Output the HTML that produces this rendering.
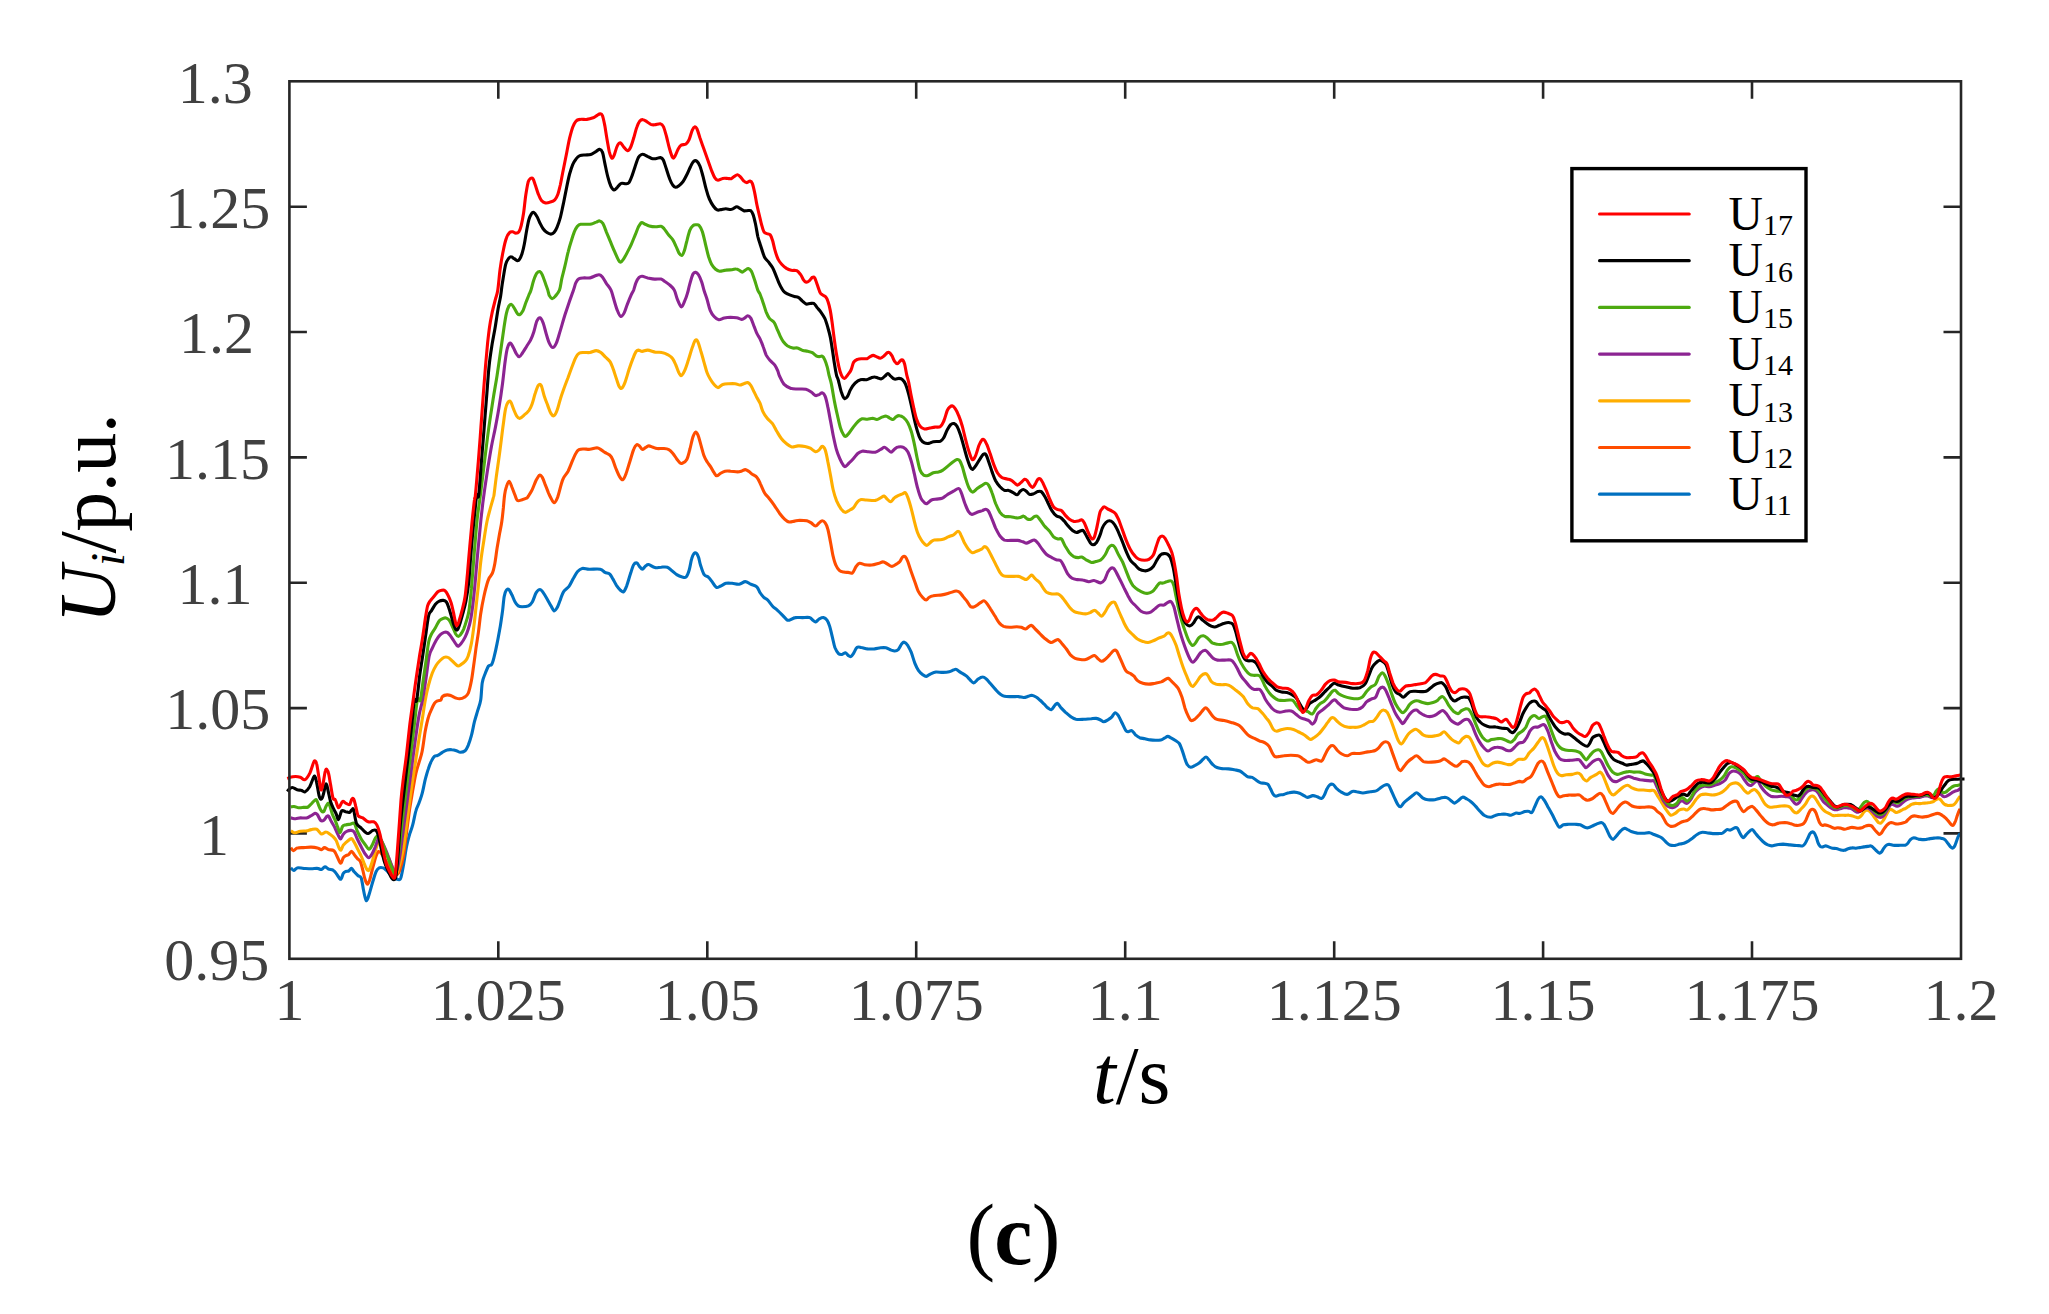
<!DOCTYPE html>
<html><head><meta charset="utf-8"><title>Ui/p.u. - t/s (c)</title>
<style>html,body{margin:0;padding:0;background:#fff}svg{display:block}text{font-family:"Liberation Serif",serif}</style></head><body>
<svg width="2049" height="1314" viewBox="0 0 2049 1314">
<rect width="2049" height="1314" fill="#fff"/>
<path d="M498.3 958.8v-17.5 M498.3 81.3v17.5 M707.3 958.8v-17.5 M707.3 81.3v17.5 M916.2 958.8v-17.5 M916.2 81.3v17.5 M1125.2 958.8v-17.5 M1125.2 81.3v17.5 M1334.2 958.8v-17.5 M1334.2 81.3v17.5 M1543.1 958.8v-17.5 M1543.1 81.3v17.5 M1752.0 958.8v-17.5 M1752.0 81.3v17.5 M289.4 206.7h17.5 M1961.0 206.7h-17.5 M289.4 332.0h17.5 M1961.0 332.0h-17.5 M289.4 457.4h17.5 M1961.0 457.4h-17.5 M289.4 582.7h17.5 M1961.0 582.7h-17.5 M289.4 708.1h17.5 M1961.0 708.1h-17.5 M289.4 833.4h17.5 M1961.0 833.4h-17.5" stroke="#262626" stroke-width="2.6" fill="none"/>
<g fill="none" stroke-width="3.1" stroke-linejoin="round" stroke-linecap="butt">
<path stroke="#0070c0" d="M290.9 867.9C291.4 868.3 292.7 870.5 293.7 870.5C294.8 870.5 295.6 868.3 297.2 867.9C298.8 867.5 301.1 868.2 303.4 868.4C305.8 868.5 308.9 868.7 311.2 868.7C313.6 868.7 315.8 868.2 317.5 868.4C319.2 868.5 320.1 869.7 321.4 869.4C322.6 869.2 323.8 866.9 325.0 866.8C326.1 866.7 327.1 868.4 328.4 869.0C329.8 869.6 331.8 869.5 333.1 870.2C334.4 871.0 335.0 871.8 336.2 873.4C337.5 874.9 339.4 879.3 340.6 879.3C341.8 879.3 342.4 874.7 343.3 873.4C344.1 872.1 344.7 871.9 345.6 871.5C346.5 871.1 347.7 871.5 348.7 871.0C349.7 870.5 350.6 868.2 351.5 868.4C352.4 868.5 353.1 870.6 354.2 871.8C355.3 873.0 356.9 874.7 358.1 875.7C359.3 876.7 360.3 875.6 361.2 878.0C362.1 880.5 362.8 886.9 363.6 890.5C364.3 894.2 365.2 898.5 365.9 899.9C366.5 901.3 366.8 900.4 367.5 899.1C368.1 897.8 368.9 895.1 369.8 892.1C370.7 889.1 371.9 884.5 372.9 881.2C374.0 877.8 375.0 874.0 376.0 871.8C377.1 869.6 378.0 868.5 379.2 867.9C380.3 867.2 381.9 867.5 383.1 867.9C384.2 868.3 385.2 869.3 386.2 870.2C387.2 871.1 388.3 872.3 389.3 873.4C390.4 874.4 391.3 875.6 392.4 876.5C393.6 877.4 395.2 878.3 396.3 878.8C397.5 879.3 398.7 879.9 399.5 879.6C400.3 879.3 400.4 879.6 401.0 877.3C401.7 874.9 402.5 870.6 403.4 865.5C404.3 860.5 405.5 852.0 406.5 846.8C407.5 841.6 408.6 838.0 409.6 834.3C410.7 830.7 411.7 828.8 412.7 824.9C413.8 821.0 414.8 814.5 415.9 810.9C416.9 807.2 418.0 805.9 419.0 803.1C420.0 800.2 421.1 797.6 422.1 793.7C423.2 789.8 424.2 783.8 425.2 779.6C426.3 775.5 427.3 771.8 428.4 768.7C429.4 765.6 430.4 763.0 431.5 760.9C432.5 758.8 433.6 757.1 434.6 756.2C435.7 755.3 436.4 756.1 437.7 755.4C439.0 754.8 440.9 753.2 442.4 752.3C444.0 751.4 445.5 750.4 447.1 750.0C448.7 749.5 450.2 749.5 451.8 749.7C453.4 749.8 455.0 750.3 456.5 750.8C457.9 751.2 458.9 752.3 460.4 752.3C461.8 752.3 463.8 751.9 465.1 750.8C466.4 749.6 467.1 747.8 468.2 745.3C469.2 742.8 470.3 739.8 471.3 735.9C472.4 732.0 473.4 726.0 474.4 721.9C475.5 717.7 476.5 714.6 477.6 710.9C478.6 707.3 479.9 704.8 480.7 700.0C481.5 695.2 481.5 686.9 482.3 682.4C483.1 677.9 484.4 675.8 485.4 673.0C486.5 670.3 487.5 667.4 488.5 666.0C489.6 664.6 490.8 665.9 491.7 664.4C492.6 663.0 493.1 660.9 494.0 657.4C494.9 653.9 496.1 648.6 497.1 643.4C498.2 638.2 499.3 631.7 500.3 626.2C501.2 620.7 501.9 615.5 502.6 610.6C503.2 605.6 503.6 599.9 504.2 596.5C504.8 593.1 505.4 591.4 506.2 590.3C507.0 589.1 507.9 588.7 508.8 589.5C509.8 590.3 510.9 592.9 512.0 595.0C513.0 597.0 514.0 600.2 515.1 602.0C516.1 603.8 517.0 605.1 518.2 605.9C519.4 606.7 520.4 606.7 522.1 606.7C523.8 606.7 526.7 606.7 528.4 605.9C530.1 605.1 531.0 604.2 532.3 602.0C533.6 599.8 534.9 594.7 536.2 592.6C537.5 590.5 538.9 589.5 540.1 589.5C541.2 589.5 542.0 591.0 543.2 592.6C544.4 594.2 545.8 596.6 547.1 598.9C548.4 601.1 549.8 603.9 551.0 605.9C552.2 607.9 553.1 610.6 554.1 610.9C555.2 611.1 556.2 609.3 557.3 607.4C558.3 605.6 559.3 602.2 560.4 599.6C561.4 597.0 562.1 594.0 563.5 591.8C564.9 589.6 567.3 588.7 569.0 586.4C570.7 584.0 572.2 580.2 573.7 577.8C575.1 575.3 576.1 573.1 577.6 571.5C579.0 570.0 580.3 568.8 582.2 568.4C584.2 568.0 586.3 569.1 589.3 569.2C592.3 569.3 597.6 568.7 600.2 569.2C602.8 569.7 603.3 571.5 604.9 572.3C606.5 573.1 608.3 572.8 609.6 573.9C610.9 574.9 611.5 576.6 612.7 578.6C613.9 580.5 615.3 583.6 616.6 585.6C617.9 587.5 619.3 589.2 620.5 590.3C621.7 591.3 622.6 592.6 623.6 591.8C624.7 591.0 625.6 588.7 626.8 585.6C627.9 582.5 629.5 576.6 630.7 573.1C631.8 569.6 632.7 566.2 633.8 564.5C634.8 562.8 636.0 562.7 636.9 562.9C637.8 563.2 638.3 565.0 639.2 566.1C640.2 567.1 641.3 569.2 642.4 569.2C643.4 569.2 644.5 566.8 645.5 566.1C646.5 565.3 647.1 564.2 648.6 564.5C650.2 564.8 652.8 567.2 654.9 567.6C656.9 568.1 659.0 567.2 661.1 567.2C663.2 567.1 665.5 566.6 667.4 567.2C669.2 567.8 670.5 569.5 672.0 570.7C673.6 572.0 675.0 573.6 676.7 574.6C678.4 575.7 680.6 576.6 682.2 577.0C683.8 577.4 684.9 578.2 686.1 577.0C687.3 575.8 688.3 573.0 689.2 570.0C690.1 567.0 690.8 561.8 691.6 559.0C692.3 556.3 693.1 554.6 693.9 553.6C694.7 552.6 695.5 552.4 696.3 553.1C697.0 553.7 697.9 555.5 698.6 557.5C699.3 559.4 699.5 561.9 700.4 564.7C701.4 567.6 702.7 572.5 704.1 574.5C705.4 576.6 707.1 576.0 708.4 577.2C709.8 578.3 710.6 579.9 712.0 581.6C713.3 583.3 714.9 586.6 716.4 587.4C717.8 588.1 719.1 586.6 720.7 586.0C722.4 585.3 724.1 583.8 726.0 583.3C727.9 582.9 730.0 583.2 732.2 583.3C734.4 583.5 737.0 584.5 739.2 584.2C741.4 583.9 743.4 581.6 745.3 581.6C747.2 581.6 748.7 583.3 750.6 584.2C752.5 585.1 755.2 585.4 756.8 586.8C758.4 588.3 759.1 591.2 760.3 593.0C761.4 594.7 762.6 596.3 763.8 597.4C765.0 598.5 765.8 598.2 767.3 599.7C768.8 601.1 770.8 604.3 772.6 606.2C774.3 608.0 776.1 608.9 777.8 610.6C779.6 612.2 781.5 614.2 783.1 615.8C784.7 617.4 786.0 619.7 787.5 620.2C789.0 620.7 790.6 619.4 791.9 619.0C793.2 618.6 793.7 617.8 795.4 617.6C797.2 617.3 800.1 617.6 802.4 617.6C804.8 617.6 807.7 617.1 809.5 617.6C811.2 618.0 812.0 619.5 813.0 620.2C814.0 621.0 814.6 622.2 815.6 622.0C816.6 621.8 817.8 619.7 819.1 619.0C820.5 618.3 822.2 617.4 823.5 617.6C824.8 617.8 826.0 618.8 827.0 620.2C828.1 621.7 828.8 623.6 829.7 626.4C830.6 629.2 831.4 633.4 832.3 636.9C833.2 640.4 833.9 644.7 834.9 647.5C836.0 650.2 837.3 652.4 838.5 653.6C839.6 654.8 840.8 654.6 842.0 654.5C843.1 654.3 844.5 652.6 845.5 652.7C846.5 652.9 847.2 654.7 848.1 655.4C849.0 656.0 849.9 656.9 850.8 656.6C851.6 656.3 852.4 655.1 853.4 653.6C854.4 652.1 855.6 648.5 856.9 647.5C858.2 646.4 859.5 647.2 861.3 647.5C863.1 647.7 865.3 648.6 867.5 648.9C869.6 649.1 872.3 649.0 874.5 648.9C876.7 648.7 878.7 648.0 880.6 647.8C882.5 647.6 884.1 647.4 885.9 647.8C887.7 648.2 889.7 649.6 891.2 650.1C892.6 650.6 893.5 651.1 894.7 651.0C895.9 650.9 897.0 650.7 898.2 649.6C899.4 648.4 900.7 645.2 901.7 643.9C902.7 642.7 903.3 641.9 904.3 642.2C905.4 642.5 906.7 643.9 907.9 645.7C909.0 647.5 910.2 649.8 911.4 652.7C912.5 655.7 913.7 660.3 914.9 663.3C916.1 666.2 917.1 668.4 918.4 670.3C919.7 672.2 921.5 673.7 922.8 674.7C924.1 675.7 925.0 676.6 926.3 676.4C927.6 676.3 929.1 674.5 930.7 673.8C932.3 673.1 933.9 672.3 936.0 672.0C938.0 671.8 940.8 672.5 943.0 672.4C945.2 672.3 947.4 672.1 949.2 671.7C950.9 671.3 952.4 670.3 953.5 669.9C954.7 669.6 955.0 669.0 956.2 669.4C957.3 669.8 959.0 671.4 960.6 672.4C962.2 673.4 964.2 674.3 965.8 675.6C967.5 676.8 968.9 678.7 970.2 680.0C971.6 681.2 972.4 683.1 973.7 682.9C975.1 682.8 976.7 680.1 978.1 679.1C979.6 678.1 981.2 677.0 982.5 677.0C983.9 676.9 984.7 677.6 986.0 678.7C987.4 679.8 988.8 681.7 990.4 683.5C992.0 685.3 994.1 687.9 995.7 689.6C997.3 691.4 998.6 692.9 1000.1 694.0C1001.6 695.1 1002.6 695.9 1004.5 696.3C1006.4 696.7 1009.2 696.6 1011.5 696.6C1013.9 696.7 1016.5 696.5 1018.6 696.6C1020.6 696.8 1022.2 697.6 1023.8 697.5C1025.4 697.5 1026.9 696.7 1028.2 696.3C1029.5 695.9 1030.4 695.1 1031.7 695.2C1033.0 695.4 1034.8 696.2 1036.1 697.0C1037.5 697.8 1038.4 698.7 1039.8 700.0C1041.2 701.2 1043.0 703.0 1044.4 704.3C1045.7 705.7 1046.7 707.0 1047.9 707.9C1049.1 708.7 1050.2 710.1 1051.4 709.6C1052.6 709.2 1053.9 706.3 1054.9 705.2C1056.0 704.2 1056.5 703.0 1057.6 703.5C1058.6 703.9 1059.8 706.4 1061.1 707.9C1062.4 709.3 1063.9 710.8 1065.5 712.3C1067.1 713.7 1069.0 715.5 1070.7 716.6C1072.5 717.8 1073.8 718.8 1076.0 719.3C1078.2 719.7 1081.4 719.4 1083.9 719.3C1086.4 719.2 1088.9 718.9 1091.0 718.8C1093.0 718.6 1094.6 718.2 1096.2 718.4C1097.8 718.6 1099.4 719.4 1100.6 720.0C1101.9 720.6 1102.5 721.9 1103.7 721.8C1105.0 721.8 1106.8 720.5 1108.1 719.7C1109.4 718.9 1110.5 718.3 1111.6 717.1C1112.8 715.9 1114.0 712.9 1115.1 712.7C1116.3 712.6 1117.5 714.5 1118.7 716.2C1119.8 718.0 1121.0 720.9 1122.2 723.3C1123.3 725.6 1124.7 728.9 1125.7 730.3C1126.7 731.7 1127.3 731.6 1128.3 731.7C1129.3 731.7 1130.7 730.1 1131.8 730.6C1133.0 731.1 1134.0 733.5 1135.3 734.7C1136.7 735.8 1138.1 737.0 1139.7 737.7C1141.3 738.3 1143.3 738.3 1145.0 738.7C1146.8 739.1 1148.5 739.7 1150.3 739.9C1152.0 740.2 1153.8 740.3 1155.5 740.3C1157.3 740.3 1159.4 740.3 1160.8 739.9C1162.3 739.6 1163.2 738.8 1164.3 738.2C1165.5 737.6 1166.7 736.4 1167.8 736.4C1169.0 736.4 1170.0 737.5 1171.4 738.2C1172.7 738.9 1174.4 739.9 1175.8 740.8C1177.1 741.7 1178.2 742.0 1179.3 743.5C1180.3 744.9 1181.0 747.3 1181.9 749.6C1182.8 751.9 1183.7 755.0 1184.5 757.5C1185.4 760.0 1186.1 762.9 1187.2 764.5C1188.2 766.1 1189.4 767.0 1190.7 767.2C1192.0 767.3 1193.6 766.1 1195.1 765.4C1196.5 764.7 1198.2 763.8 1199.5 762.8C1200.8 761.8 1201.9 760.2 1203.0 759.3C1204.1 758.3 1205.1 756.8 1206.1 757.0C1207.2 757.1 1208.1 758.9 1209.1 760.1C1210.2 761.4 1211.3 763.3 1212.7 764.5C1214.0 765.8 1215.4 766.9 1217.0 767.5C1218.7 768.2 1220.4 768.3 1222.3 768.6C1224.2 768.8 1226.4 768.7 1228.5 768.9C1230.5 769.1 1232.7 769.5 1234.6 769.8C1236.5 770.2 1238.3 770.3 1239.9 771.0C1241.5 771.8 1243.0 773.2 1244.3 774.2C1245.6 775.2 1246.5 776.3 1247.8 776.8C1249.1 777.4 1250.9 776.9 1252.2 777.4C1253.5 777.9 1254.4 778.9 1255.7 779.8C1257.0 780.7 1258.6 782.0 1260.1 782.6C1261.6 783.2 1263.2 783.0 1264.5 783.3C1265.8 783.6 1267.0 783.4 1268.0 784.4C1269.0 785.4 1269.8 787.5 1270.6 789.1C1271.5 790.8 1272.4 793.2 1273.3 794.4C1274.1 795.6 1274.9 796.1 1275.9 796.2C1276.9 796.3 1278.1 795.2 1279.4 794.9C1280.7 794.6 1282.2 794.8 1283.8 794.4C1285.4 794.0 1287.3 793.0 1289.1 792.7C1290.8 792.3 1292.6 792.0 1294.3 792.1C1296.1 792.2 1298.0 792.6 1299.6 793.2C1301.2 793.8 1302.7 794.9 1304.0 795.6C1305.3 796.3 1306.1 797.4 1307.5 797.4C1309.0 797.4 1311.2 795.8 1312.8 795.6C1314.4 795.5 1315.7 796.2 1317.2 796.7C1318.7 797.2 1320.4 798.7 1321.6 798.4C1322.8 798.2 1323.3 796.8 1324.2 795.3C1325.1 793.7 1326.0 790.8 1326.9 789.1C1327.7 787.4 1328.5 785.9 1329.5 785.1C1330.5 784.3 1331.8 783.9 1333.0 784.4C1334.2 784.9 1335.2 787.0 1336.5 788.3C1337.8 789.5 1339.2 790.7 1340.9 791.8C1342.7 792.8 1345.2 794.5 1347.1 794.4C1349.0 794.3 1350.7 791.9 1352.3 791.4C1353.9 791.0 1355.0 791.5 1356.7 791.8C1358.5 792.0 1360.7 793.0 1362.9 793.0C1365.1 793.0 1367.7 792.1 1369.9 791.8C1372.1 791.4 1374.3 791.5 1376.0 790.9C1377.8 790.2 1379.0 788.9 1380.4 787.9C1381.9 786.9 1383.5 785.6 1384.8 785.1C1386.1 784.6 1387.3 784.3 1388.3 785.1C1389.4 785.9 1390.0 787.9 1391.0 790.0C1392.0 792.2 1393.3 795.4 1394.5 797.9C1395.7 800.4 1397.0 803.5 1398.0 804.9C1399.0 806.4 1399.6 807.1 1400.6 806.7C1401.7 806.3 1402.8 803.6 1404.2 802.3C1405.5 801.0 1407.1 800.0 1408.6 798.8C1410.0 797.6 1411.6 796.3 1412.9 795.3C1414.3 794.3 1415.3 792.7 1416.5 792.7C1417.6 792.7 1418.8 794.3 1420.0 795.3C1421.1 796.3 1422.2 797.7 1423.5 798.4C1424.8 799.2 1426.0 799.5 1427.9 799.7C1429.8 799.9 1432.8 799.9 1434.9 799.7C1437.0 799.4 1438.6 798.6 1440.3 798.2C1441.9 797.8 1443.6 797.2 1444.9 797.2C1446.3 797.3 1447.3 797.8 1448.4 798.5C1449.6 799.2 1450.9 800.7 1452.0 801.4C1453.0 802.2 1453.6 803.3 1454.6 803.2C1455.6 803.1 1456.8 801.7 1458.1 800.7C1459.4 799.8 1461.0 797.5 1462.5 797.2C1464.0 796.9 1465.4 798.2 1466.9 799.0C1468.4 799.8 1469.8 800.7 1471.3 802.0C1472.8 803.2 1474.2 804.8 1475.7 806.4C1477.1 807.9 1478.6 809.8 1480.1 811.3C1481.5 812.8 1482.7 814.5 1484.5 815.5C1486.2 816.5 1488.7 817.3 1490.6 817.3C1492.5 817.2 1494.1 815.7 1495.9 815.2C1497.6 814.7 1499.4 814.4 1501.2 814.3C1502.9 814.1 1504.8 814.1 1506.4 814.3C1508.0 814.4 1509.2 815.4 1510.8 815.2C1512.4 814.9 1514.6 813.3 1516.1 813.0C1517.6 812.8 1518.1 813.6 1519.6 813.4C1521.1 813.2 1523.4 812.0 1524.9 811.6C1526.3 811.3 1527.2 811.1 1528.4 811.3C1529.6 811.4 1530.9 813.2 1531.9 812.5C1532.9 811.8 1533.5 809.4 1534.5 807.2C1535.6 805.1 1537.0 801.1 1538.1 799.3C1539.1 797.6 1540.0 796.6 1541.0 796.7C1542.1 796.9 1543.1 798.6 1544.2 800.2C1545.3 801.8 1546.4 804.0 1547.7 806.4C1549.0 808.7 1550.8 811.8 1552.1 814.3C1553.4 816.8 1554.5 819.2 1555.6 821.3C1556.8 823.4 1557.8 826.5 1559.1 827.1C1560.5 827.7 1561.9 825.3 1563.5 824.8C1565.1 824.3 1566.9 824.4 1568.8 824.3C1570.7 824.2 1573.0 824.2 1574.9 824.3C1576.9 824.4 1578.6 824.3 1580.2 824.8C1581.8 825.3 1583.3 826.6 1584.6 827.1C1585.9 827.6 1586.8 828.0 1588.1 827.8C1589.4 827.6 1591.1 826.7 1592.5 826.0C1594.0 825.4 1595.4 824.5 1596.9 823.9C1598.4 823.4 1600.1 822.5 1601.3 822.5C1602.5 822.6 1603.1 823.2 1603.9 824.3C1604.8 825.4 1605.5 827.2 1606.6 829.2C1607.6 831.3 1609.0 834.9 1610.1 836.6C1611.2 838.3 1612.0 839.5 1613.1 839.4C1614.1 839.3 1615.0 837.6 1616.2 836.2C1617.5 834.8 1619.2 832.3 1620.6 831.0C1622.0 829.6 1623.5 828.6 1624.7 828.3C1625.8 828.1 1626.4 829.0 1627.7 829.6C1628.9 830.1 1630.4 831.3 1632.0 831.8C1633.7 832.4 1635.4 832.8 1637.3 833.1C1639.2 833.3 1641.4 833.3 1643.5 833.3C1645.5 833.2 1647.9 832.5 1649.6 832.7C1651.4 832.9 1652.5 833.9 1654.0 834.5C1655.5 835.1 1657.1 835.7 1658.4 836.2C1659.7 836.8 1660.6 837.0 1661.9 838.0C1663.2 839.0 1665.0 841.2 1666.3 842.4C1667.6 843.6 1668.4 844.5 1669.8 845.0C1671.3 845.5 1673.5 845.5 1675.1 845.4C1676.7 845.2 1678.0 844.5 1679.5 844.1C1681.0 843.8 1682.4 843.8 1683.9 843.3C1685.3 842.8 1686.8 842.0 1688.3 841.2C1689.7 840.3 1691.2 839.1 1692.7 838.0C1694.1 836.9 1695.6 835.4 1697.1 834.5C1698.5 833.5 1699.8 832.7 1701.4 832.4C1703.1 832.1 1704.8 832.5 1706.7 832.7C1708.6 832.9 1711.0 833.5 1712.9 833.6C1714.8 833.7 1716.5 833.7 1718.1 833.6C1719.8 833.5 1721.1 833.7 1722.5 833.1C1724.0 832.4 1725.6 830.1 1726.9 829.6C1728.2 829.1 1729.1 830.4 1730.4 830.1C1731.8 829.8 1733.7 828.1 1734.8 827.8C1736.0 827.5 1736.6 827.4 1737.5 828.3C1738.3 829.3 1739.2 832.0 1740.1 833.6C1741.0 835.2 1742.1 837.5 1743.1 837.6C1744.1 837.8 1745.1 835.6 1746.3 834.5C1747.4 833.4 1748.7 831.8 1749.8 831.0C1750.8 830.1 1751.5 829.3 1752.4 829.6C1753.3 829.9 1754.0 831.5 1755.0 832.7C1756.1 834.0 1757.2 835.7 1758.6 837.1C1759.9 838.6 1761.5 840.2 1762.9 841.5C1764.4 842.8 1765.9 843.9 1767.3 844.7C1768.8 845.4 1770.1 845.9 1771.7 845.9C1773.3 845.9 1775.1 845.0 1777.0 844.7C1778.9 844.4 1781.0 844.1 1783.1 844.1C1785.3 844.2 1788.1 844.7 1790.0 844.9C1791.9 845.2 1792.9 845.3 1794.4 845.4C1795.9 845.5 1797.4 845.5 1798.8 845.6C1800.2 845.7 1801.6 846.3 1802.7 845.9C1803.8 845.5 1804.3 844.7 1805.1 843.5C1806.0 842.2 1806.8 840.2 1807.6 838.6C1808.4 837.0 1809.2 834.8 1810.0 833.7C1810.8 832.6 1811.7 832.0 1812.5 831.9C1813.2 831.9 1813.8 832.3 1814.4 833.2C1815.1 834.2 1815.7 835.9 1816.4 837.6C1817.0 839.3 1817.7 842.0 1818.3 843.5C1819.0 844.9 1819.5 845.8 1820.3 846.4C1821.0 847.0 1821.8 847.0 1822.7 846.9C1823.6 846.8 1824.7 845.9 1825.6 845.9C1826.6 845.9 1827.4 846.5 1828.6 846.9C1829.7 847.3 1831.2 847.9 1832.5 848.2C1833.8 848.4 1835.1 848.3 1836.4 848.5C1837.7 848.8 1839.0 849.5 1840.3 849.8C1841.6 850.1 1842.9 850.5 1844.2 850.3C1845.5 850.1 1846.8 849.2 1848.1 848.8C1849.4 848.4 1850.7 848.0 1852.0 847.9C1853.3 847.7 1854.6 848.2 1855.9 848.2C1857.2 848.1 1858.5 847.8 1859.8 847.6C1861.1 847.4 1862.4 847.1 1863.7 846.9C1865.0 846.7 1866.4 846.6 1867.6 846.4C1868.8 846.2 1870.0 845.7 1871.0 845.9C1872.0 846.1 1872.6 847.0 1873.5 847.9C1874.4 848.7 1875.4 849.9 1876.4 850.8C1877.4 851.6 1878.5 852.8 1879.3 853.0C1880.1 853.3 1880.5 853.0 1881.3 852.2C1882.0 851.5 1882.9 849.5 1883.7 848.3C1884.5 847.2 1885.3 846.1 1886.2 845.4C1887.0 844.7 1887.9 844.3 1889.1 844.2C1890.2 844.2 1891.7 845.0 1893.0 845.2C1894.3 845.4 1895.6 845.4 1896.9 845.4C1898.2 845.4 1899.4 845.3 1900.8 845.2C1902.2 845.2 1904.0 845.5 1905.2 845.2C1906.3 844.9 1906.8 844.3 1907.6 843.5C1908.4 842.6 1909.3 840.9 1910.1 840.0C1910.9 839.2 1911.6 838.4 1912.5 838.1C1913.4 837.8 1914.5 837.9 1915.4 838.1C1916.4 838.3 1917.2 838.8 1918.4 839.1C1919.5 839.3 1921.0 839.5 1922.3 839.6C1923.6 839.6 1924.9 839.5 1926.2 839.4C1927.5 839.2 1928.8 838.8 1930.1 838.6C1931.4 838.4 1932.7 838.2 1934.0 838.1C1935.3 838.0 1936.6 837.8 1937.9 837.8C1939.2 837.9 1940.7 838.1 1941.8 838.4C1942.9 838.7 1943.7 838.8 1944.7 839.6C1945.7 840.3 1946.7 841.8 1947.6 843.0C1948.6 844.2 1949.8 846.0 1950.6 846.9C1951.4 847.7 1951.9 848.2 1952.5 848.2C1953.2 848.1 1953.8 847.5 1954.5 846.4C1955.1 845.3 1955.8 843.2 1956.4 841.5C1957.1 839.8 1957.7 837.5 1958.4 836.1C1959.0 834.8 1960.0 833.7 1960.3 833.2"/>
<path stroke="#ff4d00" d="M290.9 847.6C291.3 848.1 292.2 850.6 293.3 850.7C294.3 850.8 295.5 848.6 297.2 848.1C298.9 847.5 301.1 847.7 303.4 847.6C305.8 847.4 308.9 847.0 311.2 847.1C313.6 847.2 315.8 847.6 317.5 848.1C319.2 848.5 320.2 849.7 321.4 849.6C322.6 849.5 323.3 847.6 324.5 847.6C325.7 847.6 326.9 849.1 328.4 849.6C330.0 850.1 332.4 849.6 333.9 850.7C335.3 851.8 335.9 854.1 337.0 856.2C338.1 858.3 339.6 862.9 340.6 863.2C341.6 863.5 342.3 859.0 343.3 857.7C344.2 856.4 345.5 855.9 346.4 855.4C347.3 854.9 347.9 855.3 348.7 854.6C349.6 853.9 350.6 851.2 351.5 851.2C352.4 851.2 353.2 853.4 354.2 854.6C355.1 855.8 356.3 857.3 357.3 858.5C358.3 859.7 359.5 859.7 360.4 861.6C361.3 863.6 362.0 867.2 362.8 870.2C363.6 873.2 364.3 877.3 365.1 879.6C365.9 881.9 366.7 884.3 367.5 884.3C368.2 884.3 368.9 882.5 369.8 879.6C370.7 876.7 371.9 871.0 372.9 867.1C374.0 863.2 375.1 858.8 376.0 856.2C377.0 853.6 377.8 851.9 378.7 851.5C379.6 851.1 380.0 851.7 381.5 853.8C383.0 855.9 385.9 861.0 387.8 864.0C389.6 867.0 391.0 870.0 392.4 871.8C393.9 873.6 395.2 875.0 396.3 874.9C397.5 874.8 398.3 874.1 399.5 871.0C400.6 867.9 402.2 862.6 403.4 856.2C404.5 849.8 405.5 840.6 406.5 832.7C407.5 824.9 408.6 816.3 409.6 809.3C410.7 802.3 411.7 796.6 412.7 790.6C413.8 784.6 414.8 778.1 415.9 773.4C416.9 768.7 418.0 766.1 419.0 762.5C420.0 758.8 421.1 756.7 422.1 751.5C423.2 746.3 424.2 737.0 425.2 731.2C426.3 725.5 427.3 720.8 428.4 717.2C429.4 713.5 430.4 711.7 431.5 709.4C432.5 707.0 433.6 704.6 434.6 703.1C435.7 701.7 436.7 701.3 437.7 700.8C438.8 700.3 440.1 700.7 440.9 700.0C441.6 699.3 441.4 697.3 442.5 696.5C443.5 695.6 445.7 695.0 447.2 694.9C448.6 694.8 449.6 695.2 451.1 695.7C452.5 696.2 454.3 697.5 455.7 698.0C457.2 698.5 458.2 698.9 459.6 698.8C461.1 698.7 462.9 698.2 464.3 697.2C465.8 696.3 467.1 696.1 468.2 693.3C469.4 690.6 470.5 685.5 471.4 680.8C472.3 676.2 472.9 670.7 473.7 665.2C474.5 659.8 475.3 653.5 476.0 648.1C476.8 642.6 477.6 638.2 478.4 632.4C479.2 626.7 479.8 619.7 480.7 613.7C481.6 607.7 482.8 601.5 483.9 596.5C484.9 591.6 486.1 587.1 487.0 584.0C487.9 580.9 488.4 579.6 489.3 577.8C490.2 576.0 491.5 575.4 492.4 573.1C493.4 570.7 494.0 567.9 494.8 563.7C495.6 559.6 496.3 553.0 497.1 548.1C497.9 543.2 498.7 538.5 499.5 534.0C500.3 529.6 501.2 526.0 501.8 521.5C502.5 517.1 502.9 511.9 503.4 507.5C503.8 503.1 504.1 498.5 504.6 495.0C505.1 491.5 505.6 489.1 506.4 486.8C507.1 484.5 508.1 481.3 509.0 481.3C509.9 481.3 510.9 484.5 511.8 486.8C512.8 489.1 514.0 492.8 515.0 495.1C515.9 497.3 516.2 499.7 517.4 500.5C518.6 501.2 520.6 500.1 522.1 499.7C523.7 499.3 525.7 498.9 526.8 498.1C528.0 497.4 528.1 496.4 529.0 495.1C529.9 493.7 531.0 492.3 532.1 489.9C533.3 487.5 534.8 483.0 536.0 480.5C537.3 478.1 538.6 475.6 539.6 475.1C540.7 474.5 541.3 475.7 542.3 477.4C543.3 479.1 544.4 482.6 545.4 485.2C546.5 487.8 547.7 491.0 548.5 493.0C549.4 495.1 549.6 495.7 550.6 497.4C551.5 499.0 553.0 502.8 554.1 502.8C555.3 502.8 556.4 500.3 557.6 497.4C558.7 494.4 560.1 488.4 561.0 485.2C562.0 482.0 562.2 480.5 563.4 478.2C564.5 475.8 566.5 474.2 568.1 471.2C569.6 468.2 571.4 463.2 572.7 460.2C574.0 457.2 574.8 455.0 575.9 453.2C576.9 451.4 577.7 450.3 579.0 449.6C580.3 448.9 581.9 449.0 583.7 449.0C585.5 448.9 587.7 449.5 589.9 449.3C592.1 449.1 595.1 447.7 597.0 447.7C598.8 447.8 599.6 448.8 600.9 449.6C602.2 450.4 603.3 451.6 604.8 452.4C606.2 453.3 608.1 453.6 609.4 454.8C610.7 455.9 611.5 457.2 612.6 459.4C613.6 461.7 614.5 465.2 615.7 468.0C616.9 470.9 618.4 474.7 619.6 476.6C620.8 478.6 621.7 480.1 622.7 479.8C623.8 479.4 624.7 477.3 625.8 474.3C627.0 471.3 628.4 466.0 629.8 461.8C631.1 457.6 632.5 452.2 633.7 449.3C634.8 446.4 635.8 445.1 636.8 444.6C637.8 444.1 638.7 445.4 639.6 446.2C640.5 447.0 641.3 449.0 642.2 449.3C643.2 449.6 644.3 448.3 645.4 447.7C646.4 447.2 647.3 446.0 648.5 445.9C649.7 445.7 651.0 446.5 652.4 447.0C653.8 447.4 655.3 448.3 657.1 448.5C658.9 448.8 661.4 448.3 663.3 448.5C665.3 448.7 667.2 448.8 668.8 449.6C670.4 450.4 671.4 451.7 672.7 453.2C674.0 454.7 675.4 457.1 676.6 458.7C677.8 460.2 678.8 461.8 679.7 462.6C680.6 463.4 680.9 463.9 682.1 463.4C683.2 462.8 685.5 461.8 686.8 459.4C688.1 457.1 688.8 453.1 689.9 449.3C690.9 445.5 692.0 439.7 693.0 436.8C694.0 433.9 694.8 432.4 695.7 432.1C696.5 431.9 697.1 433.2 698.0 435.2C698.9 437.3 699.8 441.2 700.8 444.6C701.8 448.0 702.9 452.7 703.9 455.5C705.0 458.4 705.9 459.8 707.1 461.8C708.2 463.7 709.8 465.4 711.0 467.3C712.1 469.1 713.1 471.3 714.1 472.7C715.0 474.2 715.7 475.7 716.7 475.8C717.8 476.0 719.0 474.3 720.3 473.5C721.7 472.7 723.3 471.6 725.0 471.2C726.7 470.8 728.4 471.0 730.5 471.2C732.6 471.3 735.7 471.9 737.5 471.9C739.3 471.9 740.1 471.6 741.4 471.2C742.7 470.8 744.1 469.6 745.3 469.6C746.5 469.6 747.3 470.4 748.4 471.2C749.6 471.9 750.9 473.2 752.3 474.3C753.8 475.3 755.7 475.8 757.0 477.4C758.4 479.0 759.3 481.5 760.5 484.1C761.8 486.7 763.2 490.6 764.6 493.0C766.0 495.4 767.4 496.2 769.0 498.3C770.6 500.3 772.5 502.8 774.3 505.3C776.0 507.8 777.8 510.8 779.5 513.2C781.3 515.5 783.2 517.9 784.8 519.3C786.4 520.8 787.6 521.7 789.2 522.0C790.8 522.3 792.7 521.4 794.5 521.1C796.2 520.8 797.7 520.3 799.7 520.2C801.8 520.2 804.9 520.3 806.8 520.7C808.7 521.2 809.7 522.0 811.2 522.9C812.6 523.7 814.2 526.0 815.5 526.0C816.9 526.0 818.0 523.7 819.1 522.9C820.2 522.0 821.2 520.7 822.2 520.7C823.3 520.7 824.3 521.5 825.2 522.9C826.1 524.2 827.0 525.8 827.8 529.0C828.7 532.2 829.6 537.6 830.5 542.2C831.4 546.7 832.2 552.4 833.1 556.2C834.0 560.0 834.7 562.7 835.8 565.0C836.8 567.4 838.0 569.1 839.3 570.3C840.6 571.5 842.2 571.7 843.7 572.0C845.1 572.4 846.6 572.3 848.1 572.4C849.5 572.5 851.1 573.9 852.4 572.9C853.8 572.0 854.8 568.4 856.0 566.8C857.1 565.2 858.0 563.6 859.5 563.3C860.9 562.9 862.7 564.4 864.7 564.7C866.8 565.0 869.4 565.3 871.8 565.0C874.1 564.8 876.9 563.8 878.8 563.3C880.7 562.7 881.7 561.7 883.2 561.9C884.7 562.0 886.1 563.4 887.6 564.1C889.0 564.9 890.5 566.4 892.0 566.4C893.4 566.4 895.1 565.0 896.4 564.1C897.7 563.3 898.9 562.7 899.9 561.5C900.9 560.3 901.6 557.9 902.5 557.1C903.4 556.3 904.3 555.9 905.2 556.6C906.0 557.3 906.8 558.9 907.8 561.5C908.8 564.1 910.1 568.7 911.3 572.0C912.5 575.4 913.6 578.5 914.8 581.7C916.0 584.9 917.0 588.7 918.3 591.4C919.6 594.0 921.4 596.1 922.7 597.5C924.0 599.0 925.2 600.0 926.2 600.0C927.3 600.0 927.7 598.2 928.9 597.5C930.0 596.8 931.1 596.2 933.3 595.8C935.5 595.3 939.4 595.3 942.0 594.9C944.7 594.5 946.7 593.8 949.1 593.1C951.4 592.5 954.3 591.2 956.1 591.0C957.9 590.9 958.4 591.3 959.6 592.3C960.8 593.2 962.0 595.2 963.1 596.6C964.3 598.1 965.5 599.3 966.7 600.9C967.9 602.5 969.1 605.1 970.2 606.2C971.4 607.2 972.4 607.3 973.7 607.0C975.1 606.7 976.8 605.3 978.1 604.4C979.5 603.5 980.6 602.4 981.7 601.8C982.7 601.2 983.4 600.6 984.3 600.9C985.2 601.2 985.9 602.2 986.9 603.5C988.0 604.8 989.1 606.7 990.4 608.8C991.8 610.8 993.4 613.5 994.8 615.8C996.3 618.2 997.8 621.1 999.2 622.9C1000.7 624.6 1001.9 625.6 1003.6 626.4C1005.4 627.1 1007.6 627.2 1009.8 627.2C1012.0 627.3 1014.9 626.7 1016.8 626.7C1018.7 626.7 1019.7 626.9 1021.2 627.2C1022.7 627.6 1024.3 629.2 1025.6 629.0C1026.9 628.9 1028.1 627.0 1029.1 626.4C1030.1 625.8 1030.7 625.1 1031.7 625.5C1032.8 625.9 1033.9 627.7 1035.2 629.0C1036.6 630.3 1038.2 631.9 1039.6 633.4C1041.1 634.9 1042.2 636.3 1044.0 637.8C1045.9 639.3 1048.9 642.0 1050.7 642.5C1052.5 643.0 1053.6 641.2 1054.9 640.7C1056.2 640.3 1057.3 639.2 1058.4 639.7C1059.6 640.2 1060.6 642.2 1062.0 643.7C1063.3 645.3 1064.9 647.1 1066.4 649.0C1067.8 650.9 1069.3 653.6 1070.7 655.2C1072.2 656.7 1073.5 657.6 1075.1 658.3C1076.7 659.0 1078.7 659.3 1080.4 659.5C1082.2 659.8 1083.9 660.0 1085.7 659.5C1087.4 659.1 1089.5 657.6 1091.0 656.9C1092.4 656.2 1093.3 655.2 1094.5 655.5C1095.6 655.8 1096.8 657.7 1098.0 658.7C1099.2 659.6 1100.3 661.2 1101.5 661.3C1102.7 661.4 1103.7 660.6 1105.0 659.5C1106.3 658.5 1108.0 656.6 1109.4 655.2C1110.8 653.7 1112.3 651.5 1113.4 650.8C1114.6 650.0 1115.5 649.9 1116.4 650.8C1117.4 651.6 1118.0 653.8 1119.1 656.0C1120.1 658.2 1121.4 661.4 1122.6 663.9C1123.7 666.4 1124.8 669.4 1126.1 671.0C1127.4 672.6 1129.2 672.7 1130.5 673.6C1131.8 674.5 1132.8 675.1 1134.0 676.2C1135.2 677.4 1136.0 679.5 1137.5 680.6C1139.0 681.8 1140.9 682.7 1142.8 683.3C1144.7 683.9 1146.9 684.1 1148.9 684.1C1151.0 684.1 1153.0 683.6 1155.1 683.3C1157.1 682.9 1159.5 682.5 1161.2 681.9C1163.0 681.2 1164.5 680.0 1165.6 679.4C1166.8 678.8 1167.2 678.0 1168.3 678.3C1169.3 678.7 1170.6 680.4 1171.8 681.5C1172.9 682.6 1174.1 683.7 1175.3 685.0C1176.5 686.3 1177.7 687.4 1178.8 689.4C1179.9 691.5 1180.9 694.2 1182.0 697.3C1183.0 700.4 1183.9 704.6 1184.9 707.9C1186.0 711.1 1187.4 714.5 1188.5 716.6C1189.5 718.8 1190.1 720.2 1191.2 720.6C1192.3 720.9 1193.7 719.9 1195.1 718.9C1196.5 717.8 1198.2 715.9 1199.5 714.5C1200.8 713.0 1202.0 711.2 1203.0 710.1C1204.0 709.0 1204.7 707.8 1205.6 707.8C1206.5 707.8 1207.1 708.7 1208.3 710.1C1209.4 711.5 1211.2 714.7 1212.7 716.2C1214.1 717.8 1215.1 718.7 1217.0 719.4C1218.9 720.1 1221.7 720.1 1224.1 720.6C1226.4 721.1 1229.0 721.8 1231.1 722.4C1233.1 723.0 1234.8 723.4 1236.4 724.1C1238.0 724.9 1239.3 725.4 1240.8 726.8C1242.2 728.1 1243.8 730.6 1245.2 732.0C1246.5 733.5 1247.2 734.5 1248.7 735.5C1250.1 736.6 1252.2 737.3 1253.9 738.2C1255.7 739.1 1257.5 740.1 1259.2 740.8C1261.0 741.6 1262.9 741.7 1264.5 742.6C1266.1 743.5 1267.6 744.3 1268.9 746.1C1270.2 747.8 1271.4 751.4 1272.4 753.1C1273.4 754.9 1274.0 756.0 1275.0 756.6C1276.0 757.2 1277.1 756.8 1278.5 756.6C1280.0 756.5 1281.8 756.0 1283.8 755.8C1285.9 755.5 1288.5 755.2 1290.8 755.2C1293.2 755.2 1296.0 755.2 1297.9 755.8C1299.8 756.3 1300.8 757.4 1302.3 758.4C1303.7 759.4 1305.5 760.9 1306.6 761.6C1307.8 762.2 1308.3 762.3 1309.3 762.3C1310.3 762.2 1311.6 761.4 1312.8 761.0C1314.0 760.6 1314.8 759.8 1316.3 759.8C1317.8 759.8 1320.3 761.6 1321.6 761.0C1322.9 760.5 1323.2 758.5 1324.2 756.6C1325.2 754.7 1326.6 751.4 1327.7 749.6C1328.9 747.8 1330.2 746.3 1331.2 745.7C1332.3 745.2 1332.9 745.3 1333.9 746.1C1334.9 746.9 1336.1 749.2 1337.4 750.5C1338.7 751.8 1340.2 753.1 1341.8 754.0C1343.4 754.9 1345.3 755.8 1347.1 755.8C1348.8 755.7 1350.3 753.9 1352.3 753.5C1354.4 753.1 1357.2 753.7 1359.4 753.5C1361.6 753.3 1363.6 752.6 1365.5 752.2C1367.4 751.9 1369.2 751.7 1370.8 751.4C1372.4 751.1 1373.9 751.1 1375.2 750.5C1376.5 749.9 1377.5 749.0 1378.7 747.8C1379.9 746.7 1381.0 744.5 1382.2 743.5C1383.4 742.4 1384.6 741.7 1385.7 741.7C1386.8 741.7 1387.8 741.8 1388.9 743.5C1389.9 745.1 1390.8 748.4 1391.9 751.4C1392.9 754.3 1394.3 758.2 1395.4 761.0C1396.4 763.8 1397.1 766.4 1398.0 768.1C1398.9 769.7 1399.6 771.0 1400.6 770.7C1401.7 770.4 1403.0 767.8 1404.2 766.3C1405.3 764.8 1406.4 763.2 1407.7 761.9C1409.0 760.6 1410.6 759.4 1412.1 758.4C1413.5 757.4 1415.1 755.8 1416.5 755.8C1417.8 755.8 1418.8 757.4 1420.0 758.4C1421.1 759.4 1422.0 760.9 1423.5 761.6C1424.9 762.2 1426.9 762.2 1428.8 762.3C1430.7 762.3 1433.0 762.1 1434.9 761.9C1436.8 761.7 1438.5 761.5 1440.0 761.0C1441.5 760.5 1442.8 758.9 1444.1 758.9C1445.3 758.9 1446.3 760.2 1447.6 761.0C1448.9 761.9 1450.5 763.3 1452.0 764.2C1453.4 765.1 1455.0 766.4 1456.4 766.3C1457.7 766.3 1458.8 764.6 1459.9 763.9C1460.9 763.1 1461.3 761.9 1462.5 761.6C1463.7 761.2 1465.6 761.2 1466.9 761.6C1468.2 761.9 1469.2 762.5 1470.4 763.9C1471.6 765.2 1472.8 767.5 1473.9 769.5C1475.1 771.4 1476.3 773.7 1477.4 775.6C1478.6 777.5 1479.8 779.3 1481.0 780.9C1482.1 782.5 1483.1 784.3 1484.5 785.3C1485.8 786.3 1487.4 786.7 1488.9 786.7C1490.3 786.7 1491.6 785.7 1493.3 785.3C1494.9 784.8 1496.8 784.2 1498.5 784.1C1500.3 783.9 1501.9 784.3 1503.8 784.4C1505.7 784.5 1508.0 784.7 1509.9 784.4C1511.8 784.1 1513.6 783.1 1515.2 782.7C1516.8 782.2 1518.3 781.6 1519.6 781.4C1520.9 781.3 1521.9 782.2 1523.1 781.8C1524.3 781.4 1525.3 780.0 1526.6 779.1C1528.0 778.3 1529.7 778.0 1531.0 776.5C1532.3 775.0 1533.4 772.5 1534.5 770.4C1535.7 768.2 1536.9 764.9 1538.1 763.3C1539.2 761.8 1540.5 761.0 1541.6 761.0C1542.6 761.0 1543.2 761.5 1544.2 763.3C1545.2 765.2 1546.4 768.9 1547.7 772.1C1549.0 775.3 1550.8 779.4 1552.1 782.7C1553.4 785.9 1554.5 789.1 1555.6 791.4C1556.8 793.8 1557.8 796.0 1559.1 796.7C1560.5 797.4 1561.9 796.1 1563.5 795.8C1565.1 795.6 1567.0 795.2 1568.8 795.1C1570.6 795.0 1572.3 795.2 1574.1 795.1C1575.8 795.1 1577.7 794.4 1579.3 794.9C1581.0 795.5 1582.4 797.6 1583.7 798.5C1585.1 799.3 1585.9 800.1 1587.2 800.2C1588.6 800.3 1590.2 799.7 1591.6 799.0C1593.1 798.3 1594.6 796.8 1596.0 795.8C1597.4 794.9 1598.9 793.2 1600.1 793.2C1601.2 793.2 1602.0 794.1 1603.1 795.8C1604.1 797.6 1605.4 801.2 1606.6 803.7C1607.7 806.3 1609.0 809.7 1610.1 811.3C1611.2 812.9 1612.0 813.6 1613.1 813.4C1614.1 813.2 1615.0 811.3 1616.2 809.9C1617.5 808.4 1619.2 805.9 1620.6 804.6C1622.1 803.3 1623.9 802.3 1625.0 802.0C1626.2 801.7 1626.5 802.2 1627.7 802.9C1628.8 803.5 1630.4 805.3 1632.0 806.0C1633.7 806.7 1635.4 807.0 1637.3 807.2C1639.2 807.5 1641.4 807.3 1643.5 807.2C1645.5 807.2 1647.9 806.7 1649.6 806.9C1651.4 807.0 1652.7 807.3 1654.0 808.1C1655.3 808.9 1656.2 810.5 1657.5 811.6C1658.8 812.8 1660.5 813.3 1661.9 815.2C1663.4 817.1 1664.9 821.2 1666.3 823.1C1667.7 824.9 1668.9 825.8 1670.4 826.2C1671.8 826.7 1673.6 826.2 1675.1 825.7C1676.6 825.2 1678.0 823.8 1679.5 823.1C1681.0 822.3 1682.6 821.7 1683.9 821.3C1685.2 820.9 1686.1 821.2 1687.4 820.4C1688.7 819.7 1690.3 818.2 1691.8 816.9C1693.3 815.6 1694.7 813.8 1696.2 812.5C1697.6 811.2 1699.0 809.6 1700.6 809.0C1702.2 808.4 1704.1 808.5 1705.8 808.7C1707.6 808.8 1709.4 809.7 1711.1 809.9C1712.9 810.0 1714.6 809.7 1716.4 809.5C1718.1 809.4 1720.0 809.6 1721.7 809.0C1723.3 808.4 1724.6 807.0 1726.0 806.0C1727.5 805.0 1729.0 803.7 1730.4 802.9C1731.9 802.0 1733.7 801.2 1734.8 801.1C1736.0 801.0 1736.6 801.0 1737.5 802.0C1738.3 803.0 1739.1 805.6 1740.1 807.2C1741.1 808.9 1742.3 811.5 1743.6 811.6C1744.9 811.8 1746.5 809.0 1748.0 808.1C1749.5 807.2 1751.1 806.1 1752.4 806.4C1753.7 806.7 1754.6 808.4 1755.9 809.9C1757.2 811.3 1758.8 813.4 1760.3 815.2C1761.8 816.9 1763.2 819.0 1764.7 820.4C1766.2 821.9 1767.6 823.2 1769.1 823.9C1770.6 824.7 1771.9 825.0 1773.5 824.8C1775.1 824.7 1776.9 823.4 1778.8 823.1C1780.7 822.7 1783.0 822.5 1784.9 822.5C1786.8 822.6 1788.6 823.1 1790.0 823.5C1791.4 823.8 1792.3 824.4 1793.4 824.7C1794.6 825.1 1795.7 825.3 1796.8 825.4C1798.0 825.5 1799.1 825.4 1800.3 825.1C1801.4 824.8 1802.7 824.4 1803.7 823.5C1804.7 822.5 1805.4 821.0 1806.1 819.6C1806.8 818.1 1807.4 816.1 1808.1 814.7C1808.7 813.2 1809.4 811.7 1810.0 810.8C1810.7 809.9 1811.3 809.5 1812.0 809.3C1812.6 809.1 1813.3 809.2 1813.9 809.8C1814.6 810.4 1815.2 811.3 1815.9 812.7C1816.5 814.1 1817.2 816.4 1817.8 818.1C1818.5 819.8 1819.0 821.7 1819.8 823.0C1820.5 824.2 1821.4 825.1 1822.2 825.4C1823.0 825.7 1823.8 824.9 1824.7 824.9C1825.6 824.9 1826.5 825.1 1827.6 825.4C1828.6 825.7 1829.9 826.4 1831.0 826.9C1832.1 827.4 1833.3 828.2 1834.4 828.3C1835.6 828.5 1836.7 827.8 1837.8 827.8C1839.0 827.8 1840.1 828.1 1841.3 828.3C1842.4 828.6 1843.5 829.3 1844.7 829.3C1845.8 829.3 1846.9 828.7 1848.1 828.3C1849.2 828.0 1850.4 827.4 1851.5 827.4C1852.6 827.3 1853.8 827.7 1854.9 827.8C1856.1 828.0 1857.2 828.3 1858.3 828.3C1859.5 828.3 1860.6 828.2 1861.8 827.8C1862.9 827.5 1864.0 826.5 1865.2 826.1C1866.3 825.7 1867.5 825.4 1868.6 825.4C1869.6 825.4 1870.6 825.3 1871.5 825.9C1872.4 826.5 1873.1 827.8 1874.0 828.8C1874.8 829.9 1876.0 831.3 1876.9 832.2C1877.8 833.2 1878.6 834.3 1879.3 834.5C1880.1 834.6 1880.5 834.1 1881.3 833.2C1882.0 832.4 1882.8 830.6 1883.7 829.3C1884.6 828.0 1885.7 826.5 1886.6 825.4C1887.6 824.4 1888.6 823.4 1889.6 823.0C1890.5 822.5 1891.4 822.6 1892.5 822.8C1893.6 822.9 1894.8 823.8 1895.9 823.9C1897.1 824.1 1898.2 823.9 1899.3 823.7C1900.5 823.6 1901.7 823.3 1902.7 823.0C1903.8 822.7 1904.7 822.6 1905.7 822.0C1906.7 821.3 1907.6 820.0 1908.6 819.1C1909.6 818.2 1910.6 817.1 1911.5 816.6C1912.5 816.1 1913.3 815.9 1914.5 815.9C1915.6 815.9 1917.1 816.4 1918.4 816.6C1919.7 816.8 1921.0 817.1 1922.3 817.1C1923.6 817.1 1924.9 816.9 1926.2 816.6C1927.5 816.4 1928.8 816.1 1930.1 815.6C1931.4 815.2 1932.8 814.6 1934.0 814.2C1935.2 813.8 1936.3 813.4 1937.4 813.4C1938.5 813.4 1939.4 813.7 1940.3 814.2C1941.3 814.6 1942.3 815.4 1943.3 816.1C1944.2 816.9 1945.2 817.6 1946.2 818.6C1947.2 819.6 1948.2 820.9 1949.1 822.0C1950.0 823.0 1950.8 824.4 1951.6 824.9C1952.3 825.4 1952.9 825.6 1953.5 824.9C1954.2 824.3 1954.8 822.6 1955.5 821.0C1956.1 819.4 1956.8 816.9 1957.4 815.2C1958.1 813.4 1958.9 811.3 1959.4 810.3C1959.8 809.2 1960.2 809.1 1960.3 808.8"/>
<path stroke="#ffae00" d="M290.9 830.9C291.3 831.1 292.5 832.1 293.3 832.4C294.1 832.7 294.4 833.0 295.6 832.7C296.8 832.5 298.5 831.5 300.3 831.2C302.1 830.9 304.7 831.1 306.5 830.9C308.4 830.6 309.5 829.9 311.2 829.6C312.9 829.4 315.0 828.6 316.7 829.3C318.4 830.0 319.8 833.6 321.4 834.0C322.9 834.4 324.6 831.9 326.1 832.0C327.5 832.0 328.8 833.5 330.0 834.3C331.1 835.1 332.1 835.6 333.1 836.7C334.1 837.7 335.3 838.9 336.2 840.6C337.1 842.2 337.8 845.2 338.6 846.8C339.3 848.4 340.1 850.5 340.9 850.2C341.7 850.0 342.3 846.6 343.3 845.2C344.2 843.9 345.2 843.2 346.4 842.1C347.5 841.1 349.3 839.5 350.3 839.0C351.2 838.5 351.4 838.2 352.2 839.0C352.9 839.8 354.0 841.9 355.0 843.7C356.0 845.5 357.0 847.8 358.1 849.9C359.1 852.0 360.2 853.8 361.2 856.2C362.3 858.5 363.3 861.6 364.3 864.0C365.4 866.3 366.5 869.4 367.5 870.2C368.4 871.0 368.9 870.5 369.8 868.7C370.7 866.8 371.9 862.7 372.9 859.3C374.0 855.9 375.1 851.1 376.0 848.4C377.0 845.6 377.7 843.4 378.7 842.9C379.7 842.4 380.8 843.0 382.3 845.2C383.8 847.5 386.1 852.5 387.8 856.2C389.5 859.8 391.1 864.4 392.4 867.1C393.8 869.8 394.9 872.2 395.9 872.6C396.9 873.0 397.1 873.5 398.4 869.4C399.6 865.4 402.0 855.8 403.4 848.4C404.7 840.9 405.5 832.7 406.5 824.9C407.5 817.1 408.6 809.1 409.6 801.5C410.7 794.0 411.7 786.7 412.7 779.6C413.8 772.6 414.8 766.1 415.9 759.3C416.9 752.6 418.0 745.6 419.0 739.0C420.0 732.5 421.1 726.8 422.1 720.3C423.2 713.8 424.2 705.8 425.3 700.0C426.3 694.2 427.2 690.0 428.4 685.5C429.6 681.0 431.0 676.4 432.3 673.0C433.6 669.7 434.9 667.3 436.2 665.2C437.5 663.1 438.8 661.8 440.1 660.5C441.4 659.2 442.7 657.9 444.0 657.4C445.3 656.9 446.8 657.0 447.9 657.4C449.1 657.8 449.9 658.7 451.1 659.8C452.2 660.8 453.8 662.6 455.0 663.7C456.1 664.7 457.0 665.9 458.1 666.0C459.1 666.1 460.0 665.2 461.2 664.4C462.4 663.7 463.9 662.8 465.1 661.3C466.3 659.9 467.2 658.9 468.2 655.9C469.3 652.9 470.5 648.1 471.4 643.4C472.3 638.7 472.9 633.7 473.7 627.7C474.5 621.8 475.3 614.5 476.0 607.4C476.8 600.4 477.6 593.1 478.4 585.6C479.2 578.0 479.8 569.7 480.7 562.2C481.6 554.6 482.8 547.1 483.9 540.3C484.9 533.5 485.9 526.8 487.0 521.5C488.0 516.3 489.1 513.0 490.1 509.1C491.1 505.2 492.6 500.5 493.2 498.1C493.9 495.8 493.5 498.5 494.0 495.0C494.5 491.5 495.2 485.0 496.2 477.4C497.2 469.8 499.0 458.1 500.1 449.3C501.3 440.4 502.3 431.1 503.3 424.3C504.2 417.5 504.8 412.3 505.6 408.7C506.4 405.0 507.1 403.6 507.9 402.4C508.8 401.3 509.7 400.6 510.6 401.7C511.5 402.7 512.4 406.3 513.4 408.7C514.4 411.0 515.5 414.1 516.5 415.7C517.6 417.3 518.3 418.5 519.6 418.4C521.0 418.2 522.8 416.3 524.3 414.9C525.9 413.6 527.7 412.1 529.0 410.3C530.3 408.4 531.1 406.9 532.1 404.0C533.2 401.1 534.2 396.2 535.3 393.1C536.3 390.0 537.4 386.5 538.4 385.3C539.4 384.0 540.2 383.8 541.2 385.6C542.2 387.4 543.2 392.9 544.3 396.2C545.4 399.5 546.7 402.7 547.8 405.6C548.9 408.4 549.8 411.7 550.9 413.4C551.9 415.1 553.0 416.2 554.0 415.7C555.0 415.2 556.1 413.0 557.1 410.3C558.2 407.5 559.2 402.7 560.3 399.3C561.3 395.9 562.1 393.6 563.4 390.0C564.7 386.3 566.5 381.6 568.1 377.5C569.6 373.3 571.4 368.3 572.7 365.0C574.0 361.6 574.8 359.1 575.9 357.2C576.9 355.2 577.7 354.0 579.0 353.3C580.3 352.5 581.9 352.6 583.7 352.5C585.5 352.3 587.8 352.8 589.9 352.5C592.0 352.2 594.4 350.6 596.2 350.6C598.0 350.6 599.3 351.4 600.9 352.5C602.4 353.6 604.0 355.6 605.5 357.2C607.1 358.7 608.9 359.8 610.2 361.8C611.5 363.9 612.3 366.8 613.4 369.6C614.4 372.5 615.5 376.2 616.5 379.0C617.5 381.9 618.4 385.3 619.3 386.8C620.2 388.3 621.0 388.9 621.9 388.1C622.9 387.3 623.9 385.2 625.1 382.1C626.2 379.1 627.7 373.6 629.0 369.6C630.3 365.7 631.7 361.7 632.9 358.7C634.0 355.7 635.1 353.1 636.0 351.7C636.9 350.3 637.3 350.2 638.3 350.1C639.4 350.1 640.7 351.4 642.2 351.4C643.8 351.4 645.5 350.0 647.7 350.1C649.9 350.3 653.2 351.8 655.5 352.2C657.9 352.5 659.7 352.0 661.8 352.5C663.8 352.9 666.2 353.8 668.0 354.8C669.8 355.9 671.4 357.0 672.7 358.7C674.0 360.4 674.8 362.6 675.8 365.0C676.9 367.3 678.0 371.0 678.9 372.8C679.9 374.5 680.4 375.8 681.3 375.6C682.2 375.3 683.2 373.8 684.4 371.2C685.6 368.7 687.0 364.2 688.3 360.3C689.6 356.4 691.0 351.1 692.2 347.8C693.4 344.5 694.4 341.3 695.3 340.3C696.3 339.2 696.8 339.8 697.7 341.5C698.6 343.3 699.8 347.5 700.8 350.9C701.9 354.3 702.9 358.2 703.9 361.8C705.0 365.5 706.0 369.9 707.1 372.8C708.1 375.6 709.0 377.1 710.2 379.0C711.4 381.0 712.8 383.1 714.1 384.5C715.4 385.9 716.6 387.6 718.0 387.6C719.4 387.6 720.9 385.1 722.7 384.5C724.5 383.8 726.8 383.8 728.9 383.7C731.0 383.6 733.3 383.5 735.2 383.7C737.0 383.9 738.4 385.0 739.9 385.0C741.3 385.0 742.5 384.1 743.8 383.7C745.1 383.3 746.5 382.4 747.7 382.6C748.8 382.9 749.7 383.8 750.8 385.3C751.8 386.7 752.9 389.4 753.9 391.5C755.0 393.6 756.0 395.8 757.0 397.8C758.0 399.7 759.0 401.0 760.0 403.2C761.0 405.5 761.6 408.8 762.8 411.3C764.0 413.8 765.6 416.3 767.2 418.3C768.8 420.4 770.9 421.4 772.5 423.6C774.1 425.8 775.4 429.0 776.9 431.5C778.4 434.0 779.7 436.5 781.3 438.5C782.9 440.6 784.8 442.4 786.6 443.8C788.3 445.2 789.9 446.6 791.8 447.0C793.7 447.3 795.8 446.0 798.0 445.9C800.2 445.8 803.0 446.0 805.0 446.4C807.1 446.8 808.5 447.3 810.3 448.2C812.0 449.1 814.1 451.4 815.5 451.7C817.0 452.0 818.0 450.8 819.1 449.9C820.2 449.1 821.2 446.4 822.2 446.4C823.3 446.4 824.3 447.5 825.2 449.9C826.1 452.4 827.0 457.1 827.8 461.4C828.7 465.6 829.6 470.7 830.5 475.4C831.4 480.1 832.1 485.2 833.1 489.5C834.1 493.7 835.3 497.7 836.6 500.9C838.0 504.1 839.6 506.9 841.0 508.8C842.4 510.7 843.7 512.0 845.1 512.3C846.4 512.6 847.6 511.3 848.9 510.6C850.3 509.8 852.0 509.2 853.3 507.9C854.6 506.6 855.7 504.0 856.8 502.7C858.0 501.3 858.7 500.1 860.4 499.7C862.0 499.2 864.0 499.9 866.5 500.0C869.0 500.1 872.9 500.7 875.3 500.4C877.6 500.0 879.1 498.6 880.6 497.9C882.0 497.2 883.0 495.9 884.1 496.1C885.2 496.4 886.1 498.2 887.2 499.1C888.3 500.1 889.6 502.0 890.7 501.8C891.9 501.6 893.0 498.9 894.3 497.9C895.5 496.9 896.7 496.3 898.1 495.6C899.5 494.9 901.3 494.4 902.5 493.9C903.7 493.4 904.3 492.0 905.2 492.6C906.0 493.2 906.8 494.7 907.8 497.4C908.8 500.1 910.2 504.8 911.3 508.8C912.4 512.8 913.3 517.1 914.3 521.1C915.3 525.1 916.3 529.4 917.5 532.5C918.6 535.6 919.8 537.6 921.0 539.5C922.1 541.4 923.5 543.0 924.5 543.9C925.5 544.9 926.1 545.6 927.1 545.3C928.1 545.1 929.5 543.1 930.6 542.2C931.8 541.3 932.2 540.5 934.1 540.1C936.0 539.6 939.7 540.1 942.0 539.5C944.4 539.0 946.3 537.7 948.2 536.9C950.1 536.1 951.8 535.7 953.5 534.8C955.1 533.9 957.0 531.2 958.2 531.3C959.5 531.3 960.0 533.2 961.0 535.2C962.1 537.1 963.3 540.7 964.5 543.1C965.8 545.4 967.1 547.6 968.4 549.2C969.7 550.8 970.8 552.4 972.3 552.7C973.7 553.0 975.6 551.6 977.2 551.0C978.7 550.4 980.4 549.9 981.6 549.2C982.8 548.5 983.5 546.6 984.6 546.6C985.6 546.5 986.6 547.2 987.7 548.9C988.9 550.5 990.3 553.7 991.6 556.2C992.9 558.8 994.3 561.5 995.6 564.1C997.0 566.8 998.4 570.1 999.7 572.0C1001.0 574.0 1001.7 575.2 1003.5 575.9C1005.4 576.6 1008.1 576.4 1010.6 576.4C1013.1 576.5 1016.4 576.1 1018.5 576.4C1020.5 576.7 1021.6 577.7 1022.9 578.2C1024.2 578.7 1025.2 579.7 1026.4 579.4C1027.6 579.1 1029.0 577.1 1029.9 576.4C1030.8 575.7 1031.1 574.8 1032.0 575.2C1032.9 575.6 1033.9 577.5 1035.2 578.7C1036.4 580.0 1038.2 581.1 1039.6 582.6C1040.9 584.1 1041.9 586.3 1043.1 587.9C1044.2 589.5 1045.1 591.2 1046.6 592.3C1048.1 593.3 1050.0 593.7 1051.9 594.0C1053.8 594.3 1056.4 593.6 1058.0 594.0C1059.6 594.5 1060.4 595.5 1061.5 596.6C1062.7 597.8 1063.4 598.9 1064.8 600.8C1066.2 602.6 1068.3 605.9 1069.9 607.7C1071.4 609.5 1072.7 610.7 1074.3 611.6C1075.9 612.5 1077.6 612.6 1079.5 613.0C1081.4 613.4 1083.9 613.9 1085.7 613.9C1087.4 613.8 1088.6 613.2 1090.1 612.6C1091.5 612.0 1093.1 610.3 1094.5 610.4C1095.8 610.4 1096.8 612.0 1098.0 613.0C1099.2 614.0 1100.3 616.3 1101.5 616.1C1102.7 616.0 1103.8 613.8 1105.0 612.1C1106.2 610.4 1107.3 607.6 1108.5 606.0C1109.7 604.3 1111.0 603.0 1112.0 602.4C1113.1 601.9 1113.8 601.6 1114.7 602.4C1115.5 603.3 1116.3 605.5 1117.3 607.7C1118.3 609.9 1119.6 613.0 1120.8 615.6C1122.0 618.3 1123.2 621.2 1124.3 623.5C1125.5 625.9 1126.5 627.9 1127.8 629.7C1129.2 631.4 1130.6 632.5 1132.2 634.1C1133.9 635.6 1135.8 637.8 1137.5 639.0C1139.3 640.2 1141.0 640.9 1142.8 641.4C1144.5 642.0 1146.3 642.6 1148.1 642.5C1149.8 642.4 1151.6 641.5 1153.3 640.7C1155.1 640.0 1156.8 638.9 1158.6 638.1C1160.4 637.3 1162.4 637.0 1163.9 636.2C1165.3 635.4 1166.4 633.7 1167.4 633.2C1168.3 632.7 1168.8 632.5 1169.7 633.2C1170.5 633.9 1171.6 635.5 1172.7 637.6C1173.7 639.6 1175.0 642.3 1176.2 645.5C1177.3 648.7 1178.5 653.3 1179.7 656.9C1180.8 660.6 1182.0 664.2 1183.2 667.5C1184.4 670.7 1185.5 673.5 1186.7 676.2C1187.9 679.0 1189.2 682.4 1190.2 684.1C1191.2 685.8 1191.8 686.7 1192.9 686.4C1193.9 686.1 1195.1 684.1 1196.4 682.4C1197.7 680.7 1199.3 677.7 1200.8 676.2C1202.2 674.8 1204.0 673.7 1205.2 673.6C1206.3 673.5 1206.8 674.0 1207.8 675.4C1208.8 676.7 1210.0 680.0 1211.3 681.5C1212.6 683.0 1213.9 683.6 1215.7 684.1C1217.5 684.7 1219.9 684.6 1221.8 684.7C1223.7 684.8 1225.5 684.3 1227.1 684.7C1228.7 685.0 1230.0 685.8 1231.5 686.8C1233.0 687.7 1234.4 689.1 1235.9 690.3C1237.4 691.5 1239.0 692.6 1240.3 693.8C1241.6 695.0 1242.5 695.6 1243.8 697.3C1245.1 699.1 1246.7 702.6 1248.2 704.3C1249.7 706.1 1251.0 707.1 1252.6 707.9C1254.2 708.6 1256.3 707.9 1257.9 708.7C1259.5 709.6 1260.8 711.5 1262.3 713.1C1263.7 714.7 1265.4 716.9 1266.6 718.4C1267.9 719.9 1268.4 720.2 1269.5 722.1C1270.6 723.9 1272.1 727.9 1273.3 729.4C1274.5 730.9 1275.3 731.2 1276.8 731.2C1278.2 731.2 1280.3 729.8 1282.0 729.4C1283.8 729.0 1285.4 728.5 1287.3 728.5C1289.2 728.5 1291.6 728.8 1293.5 729.4C1295.4 730.0 1297.0 731.2 1298.7 732.0C1300.5 732.9 1302.4 733.6 1304.0 734.7C1305.6 735.7 1307.2 737.4 1308.4 738.2C1309.6 739.0 1310.0 739.6 1311.0 739.4C1312.1 739.3 1313.2 738.2 1314.6 737.3C1315.9 736.4 1317.5 735.3 1318.9 733.8C1320.4 732.3 1321.9 730.4 1323.3 728.5C1324.8 726.6 1326.4 724.1 1327.7 722.4C1329.0 720.6 1330.2 718.7 1331.2 718.0C1332.3 717.2 1332.9 717.4 1333.9 718.0C1334.9 718.6 1336.1 720.3 1337.4 721.5C1338.7 722.7 1340.2 724.1 1341.8 725.0C1343.4 725.9 1345.3 726.7 1347.1 727.1C1348.8 727.5 1350.4 727.3 1352.3 727.3C1354.2 727.3 1356.6 727.5 1358.5 727.1C1360.4 726.7 1362.0 725.9 1363.7 725.0C1365.5 724.1 1367.4 722.5 1369.0 721.8C1370.6 721.2 1372.1 721.9 1373.4 721.1C1374.7 720.4 1375.8 718.7 1376.9 717.1C1378.1 715.5 1379.3 713.0 1380.4 711.8C1381.6 710.7 1382.8 709.9 1384.0 710.1C1385.1 710.2 1386.3 711.0 1387.5 712.7C1388.6 714.5 1389.8 717.7 1391.0 720.6C1392.2 723.5 1393.3 727.1 1394.5 730.3C1395.7 733.5 1396.8 737.7 1398.0 739.9C1399.2 742.2 1400.4 744.1 1401.5 744.0C1402.7 743.8 1403.9 740.8 1405.0 739.1C1406.2 737.4 1407.2 735.3 1408.6 733.8C1409.9 732.3 1411.6 731.0 1412.9 730.3C1414.3 729.5 1415.3 729.1 1416.5 729.4C1417.6 729.7 1418.8 731.1 1420.0 732.0C1421.1 733.0 1422.0 734.5 1423.5 735.2C1424.9 735.9 1426.9 736.3 1428.8 736.4C1430.7 736.5 1433.0 736.2 1434.9 735.9C1436.8 735.6 1438.5 735.4 1440.0 734.7C1441.5 734.0 1442.8 731.6 1444.1 731.7C1445.3 731.8 1446.3 733.9 1447.6 735.2C1448.9 736.5 1450.6 738.5 1452.0 739.6C1453.3 740.7 1454.3 741.2 1455.5 741.7C1456.6 742.2 1457.8 743.3 1459.0 742.8C1460.2 742.3 1461.3 739.8 1462.5 738.7C1463.7 737.7 1464.8 736.6 1466.0 736.4C1467.2 736.2 1468.4 736.2 1469.5 737.5C1470.7 738.8 1471.9 741.6 1473.0 744.0C1474.2 746.4 1475.4 749.4 1476.6 751.9C1477.7 754.4 1478.9 756.9 1480.1 758.9C1481.2 761.0 1482.3 763.0 1483.6 764.2C1484.9 765.4 1486.5 766.1 1488.0 766.0C1489.4 765.8 1490.8 764.0 1492.4 763.3C1494.0 762.7 1495.9 762.1 1497.6 762.1C1499.4 762.1 1501.2 762.9 1502.9 763.3C1504.7 763.7 1506.7 764.4 1508.2 764.6C1509.6 764.7 1510.5 764.7 1511.7 764.2C1512.9 763.7 1514.0 762.4 1515.2 761.6C1516.4 760.7 1517.1 759.7 1518.7 759.3C1520.3 758.8 1523.1 760.0 1524.9 758.9C1526.6 757.8 1527.8 754.5 1529.3 752.8C1530.7 751.0 1532.2 750.1 1533.7 748.4C1535.1 746.6 1536.7 744.0 1538.1 742.2C1539.4 740.5 1540.5 738.4 1541.6 737.8C1542.6 737.3 1543.3 737.6 1544.2 738.7C1545.1 739.9 1545.8 742.1 1546.8 744.9C1547.9 747.7 1549.2 751.9 1550.4 755.4C1551.5 758.9 1552.7 763.0 1553.9 766.0C1555.0 768.9 1556.2 771.4 1557.4 773.0C1558.6 774.6 1559.4 775.3 1560.9 775.6C1562.4 775.9 1564.3 774.9 1566.2 774.7C1568.1 774.5 1570.4 774.7 1572.3 774.4C1574.2 774.1 1576.2 772.9 1577.6 773.0C1579.0 773.0 1579.7 773.7 1580.7 774.7C1581.8 775.8 1582.7 778.1 1583.7 779.1C1584.7 780.2 1585.5 781.2 1586.7 780.9C1587.9 780.6 1589.2 778.4 1590.8 777.4C1592.3 776.4 1594.5 775.6 1596.0 774.7C1597.6 773.9 1598.9 772.0 1600.1 772.1C1601.2 772.3 1602.0 773.6 1603.1 775.6C1604.1 777.7 1605.4 781.6 1606.6 784.4C1607.7 787.2 1608.9 790.6 1610.1 792.3C1611.3 794.1 1612.3 795.1 1613.6 794.9C1614.9 794.8 1616.4 792.8 1618.0 791.4C1619.6 790.1 1621.7 788.1 1623.3 787.0C1624.9 786.0 1626.2 785.1 1627.7 785.3C1629.1 785.4 1630.4 787.2 1632.0 787.9C1633.7 788.7 1635.4 789.3 1637.3 789.7C1639.2 790.0 1641.4 789.9 1643.5 790.0C1645.5 790.2 1647.9 790.5 1649.6 790.6C1651.4 790.6 1652.7 789.7 1654.0 790.6C1655.3 791.4 1656.2 793.8 1657.5 795.8C1658.8 797.9 1660.5 800.5 1661.9 802.9C1663.4 805.2 1664.8 807.8 1666.3 809.9C1667.8 811.9 1669.2 814.6 1670.7 815.2C1672.2 815.7 1673.6 814.3 1675.1 813.4C1676.6 812.5 1678.0 810.6 1679.5 809.9C1681.0 809.2 1682.6 809.0 1683.9 809.0C1685.2 809.0 1686.1 810.5 1687.4 809.9C1688.7 809.3 1690.3 807.2 1691.8 805.5C1693.3 803.7 1694.7 801.1 1696.2 799.3C1697.6 797.6 1699.0 795.8 1700.6 794.9C1702.2 794.1 1704.1 794.1 1705.8 794.1C1707.6 794.1 1709.4 794.9 1711.1 794.9C1712.9 795.0 1714.6 794.9 1716.4 794.4C1718.1 794.0 1720.0 793.3 1721.7 792.3C1723.3 791.4 1724.7 790.0 1726.0 788.8C1727.4 787.6 1728.4 785.9 1729.6 784.9C1730.7 784.0 1731.8 783.5 1733.1 783.2C1734.4 782.9 1736.1 782.7 1737.5 783.2C1738.8 783.7 1739.8 784.9 1741.0 786.2C1742.2 787.4 1743.3 789.4 1744.5 790.6C1745.7 791.7 1746.8 793.2 1748.0 793.2C1749.2 793.2 1750.4 791.1 1751.5 790.6C1752.7 790.0 1753.9 789.2 1755.0 789.7C1756.2 790.1 1757.4 791.6 1758.6 793.2C1759.7 794.8 1760.9 797.4 1762.1 799.3C1763.2 801.2 1764.3 803.3 1765.6 804.6C1766.9 805.9 1768.4 806.9 1770.0 807.2C1771.6 807.6 1773.3 806.9 1775.2 806.7C1777.1 806.5 1779.5 806.1 1781.4 806.0C1783.3 805.9 1785.2 805.8 1786.7 806.0C1788.1 806.2 1789.0 806.5 1790.0 807.3C1791.1 808.1 1792.0 809.9 1792.9 810.8C1793.8 811.7 1794.6 812.4 1795.4 812.7C1796.1 813.0 1796.6 813.1 1797.3 812.7C1798.1 812.3 1798.9 811.2 1799.8 810.3C1800.7 809.4 1801.7 808.4 1802.7 807.3C1803.7 806.3 1804.7 805.2 1805.6 803.9C1806.5 802.6 1807.3 800.8 1808.1 799.5C1808.9 798.3 1809.8 797.2 1810.5 796.6C1811.2 796.0 1811.7 795.9 1812.5 796.1C1813.2 796.3 1814.1 796.9 1814.9 797.8C1815.7 798.7 1816.5 800.2 1817.3 801.5C1818.2 802.8 1818.9 804.1 1819.8 805.4C1820.7 806.7 1821.7 808.2 1822.7 809.3C1823.7 810.4 1824.5 811.0 1825.6 811.7C1826.8 812.5 1828.2 813.0 1829.5 813.7C1830.8 814.3 1832.1 815.4 1833.4 815.6C1834.7 815.9 1836.0 815.4 1837.3 815.4C1838.7 815.3 1840.0 815.2 1841.3 815.2C1842.6 815.2 1843.9 815.4 1845.2 815.4C1846.5 815.4 1847.8 815.0 1849.1 815.2C1850.4 815.3 1851.7 815.8 1853.0 816.1C1854.2 816.5 1855.4 817.1 1856.4 817.3C1857.4 817.6 1858.0 817.9 1858.8 817.6C1859.6 817.3 1860.5 816.5 1861.3 815.6C1862.1 814.8 1862.9 813.1 1863.7 812.2C1864.5 811.3 1865.3 810.6 1866.1 810.3C1867.0 810.0 1867.8 810.1 1868.6 810.5C1869.4 810.9 1870.2 811.8 1871.0 812.7C1871.8 813.7 1872.6 814.9 1873.5 816.1C1874.4 817.4 1875.5 818.9 1876.4 820.0C1877.3 821.1 1878.1 822.3 1878.8 822.8C1879.6 823.3 1880.1 823.5 1880.8 823.2C1881.5 822.8 1882.4 821.7 1883.2 820.5C1884.0 819.4 1884.9 817.6 1885.7 816.1C1886.5 814.7 1887.3 812.9 1888.1 811.7C1888.9 810.6 1889.7 809.5 1890.5 809.3C1891.4 809.1 1892.1 810.0 1893.0 810.5C1893.9 811.0 1894.9 812.2 1895.9 812.4C1896.9 812.6 1897.8 812.2 1898.8 811.7C1899.9 811.3 1901.1 810.4 1902.3 809.8C1903.4 809.2 1904.6 808.9 1905.7 808.3C1906.7 807.8 1907.6 807.0 1908.6 806.4C1909.6 805.7 1910.4 804.9 1911.5 804.4C1912.7 803.9 1914.1 803.6 1915.4 803.4C1916.7 803.3 1918.2 803.7 1919.3 803.6C1920.5 803.6 1921.1 803.4 1922.3 803.3C1923.4 803.1 1924.9 803.1 1926.2 803.0C1927.5 802.8 1928.9 802.7 1930.1 802.5C1931.3 802.2 1932.5 801.9 1933.5 801.5C1934.5 801.0 1935.1 800.2 1935.9 799.7C1936.7 799.3 1937.6 798.8 1938.4 798.8C1939.1 798.7 1939.7 799.0 1940.3 799.5C1941.0 800.1 1941.5 801.2 1942.3 802.0C1943.0 802.8 1943.8 803.9 1944.7 804.4C1945.6 805.0 1946.7 805.2 1947.6 805.4C1948.6 805.6 1949.6 805.5 1950.6 805.4C1951.6 805.3 1952.6 805.4 1953.5 804.9C1954.4 804.4 1955.1 803.5 1955.9 802.5C1956.8 801.4 1957.7 799.6 1958.4 798.6C1959.1 797.5 1960.0 796.5 1960.3 796.1"/>
<path stroke="#8c2492" d="M290.9 817.9C291.7 818.0 294.1 818.7 295.6 818.7C297.2 818.7 298.5 818.0 300.3 817.9C302.1 817.8 304.7 818.3 306.5 817.9C308.4 817.5 309.8 816.3 311.2 815.6C312.7 814.8 314.1 813.4 315.1 813.2C316.2 813.1 316.6 813.6 317.5 814.8C318.4 816.0 319.6 819.3 320.6 820.3C321.6 821.2 322.7 820.9 323.7 820.3C324.8 819.6 326.0 817.0 326.9 816.3C327.7 815.7 327.9 815.4 328.7 816.3C329.5 817.3 330.5 820.0 331.5 821.8C332.5 823.6 333.6 825.2 334.7 827.3C335.7 829.4 336.8 832.4 337.8 834.3C338.8 836.3 339.7 839.0 340.6 839.0C341.5 839.0 342.2 835.6 343.3 834.3C344.3 833.0 345.9 831.8 347.2 831.2C348.5 830.5 349.9 830.3 351.1 830.4C352.2 830.5 353.1 830.5 354.2 832.0C355.2 833.4 356.1 836.5 357.3 839.0C358.5 841.5 359.9 844.3 361.2 846.8C362.5 849.3 363.9 852.0 365.1 853.8C366.4 855.7 367.5 857.7 368.7 857.7C369.9 857.7 371.0 855.7 372.1 853.8C373.2 852.0 374.2 849.3 375.3 846.8C376.3 844.3 377.3 840.0 378.4 839.0C379.4 838.0 380.3 839.2 381.5 840.9C382.7 842.6 384.2 846.5 385.4 849.1C386.6 851.8 387.5 854.2 388.5 857.0C389.6 859.7 390.6 863.1 391.7 865.5C392.7 868.0 393.8 871.3 394.8 871.8C395.8 872.3 396.5 871.8 397.4 868.7C398.4 865.5 399.3 859.6 400.3 853.1C401.2 846.5 402.3 837.4 403.4 829.6C404.4 821.8 405.5 814.0 406.5 806.2C407.5 798.4 408.6 790.6 409.6 782.8C410.7 775.0 411.7 767.2 412.7 759.3C413.8 751.5 414.8 743.2 415.9 735.9C416.9 728.6 417.9 721.6 419.0 715.6C420.1 709.6 421.4 706.3 422.5 700.0C423.7 693.7 425.0 685.1 426.1 677.7C427.2 670.4 428.2 660.8 429.2 655.9C430.2 650.9 431.1 650.7 432.3 648.1C433.5 645.4 434.9 642.5 436.2 640.2C437.5 638.0 438.8 636.1 440.1 634.8C441.4 633.5 442.9 632.8 444.0 632.4C445.2 632.0 446.1 631.9 447.2 632.4C448.2 633.0 449.2 634.3 450.3 635.6C451.3 636.9 452.4 638.7 453.4 640.2C454.4 641.8 455.7 643.9 456.5 644.9C457.4 645.9 457.6 646.4 458.4 646.2C459.2 645.9 460.1 644.9 461.2 643.4C462.3 641.9 463.9 639.5 465.1 637.1C466.3 634.8 467.3 632.2 468.2 629.3C469.1 626.4 469.8 624.1 470.6 619.9C471.4 615.8 472.1 610.8 472.9 604.3C473.7 597.8 474.5 589.2 475.3 580.9C476.0 572.6 476.8 562.9 477.6 554.3C478.4 545.8 479.2 537.2 480.0 529.4C480.7 521.5 481.6 513.2 482.3 507.5C482.9 501.8 483.0 501.3 483.9 495.0C484.7 488.7 486.4 477.7 487.6 469.6C488.9 461.5 490.2 453.2 491.5 446.2C492.8 439.1 494.1 434.2 495.4 427.4C496.7 420.7 498.2 412.9 499.3 405.6C500.5 398.3 501.5 391.3 502.5 383.7C503.5 376.2 504.4 366.3 505.3 360.3C506.1 354.3 506.6 350.6 507.5 347.8C508.3 344.9 509.3 343.1 510.3 343.1C511.3 343.1 512.4 346.0 513.4 347.8C514.4 349.6 515.5 352.5 516.5 354.0C517.5 355.5 518.3 357.1 519.3 356.8C520.4 356.6 521.5 354.2 522.8 352.5C524.0 350.7 525.4 348.3 526.7 346.2C528.0 344.1 529.4 342.3 530.6 340.0C531.8 337.6 532.7 335.3 533.7 332.2C534.7 329.0 535.8 323.6 536.8 321.2C537.9 318.8 538.9 317.5 540.0 317.8C541.0 318.1 542.0 320.1 543.1 322.8C544.1 325.5 545.2 330.3 546.2 333.7C547.2 337.1 548.2 340.8 549.3 343.1C550.4 345.4 551.6 347.5 552.8 347.5C553.9 347.5 555.1 345.9 556.3 343.1C557.6 340.3 558.8 335.3 560.3 330.6C561.7 325.9 563.4 319.9 564.9 315.0C566.5 310.0 568.2 305.1 569.6 300.9C571.1 296.8 572.5 293.1 573.5 290.0C574.6 286.9 575.0 284.5 575.9 282.6C576.8 280.7 577.7 279.4 579.0 278.7C580.3 277.9 581.9 278.0 583.7 277.9C585.5 277.7 588.0 278.2 589.9 277.9C591.9 277.5 593.8 276.4 595.4 275.8C597.0 275.3 598.1 274.5 599.3 274.8C600.5 275.0 601.2 275.7 602.4 277.1C603.6 278.5 604.9 281.2 606.3 283.3C607.8 285.5 609.8 287.6 611.0 290.1C612.2 292.5 612.3 294.4 613.4 297.8C614.4 301.2 616.0 307.2 617.3 310.3C618.5 313.4 619.7 316.2 620.8 316.5C622.0 316.9 623.2 314.7 624.3 312.6C625.4 310.6 626.2 307.0 627.4 304.1C628.6 301.1 630.3 297.0 631.3 294.7C632.4 292.3 632.9 292.0 633.7 290.0C634.4 288.0 635.1 284.7 636.0 282.6C636.9 280.5 638.1 278.4 639.1 277.4C640.2 276.4 640.8 276.2 642.2 276.3C643.7 276.4 645.6 277.4 647.7 277.9C649.8 278.3 652.5 278.9 654.7 279.1C657.0 279.3 659.3 278.7 661.0 279.1C662.7 279.5 663.5 280.5 664.9 281.5C666.3 282.4 668.0 283.5 669.6 284.9C671.1 286.3 673.0 287.6 674.3 290.1C675.6 292.5 676.2 296.6 677.4 299.4C678.6 302.2 680.1 306.5 681.3 306.9C682.5 307.3 683.4 304.0 684.4 301.7C685.5 299.4 686.7 295.9 687.5 293.1C688.4 290.4 688.6 288.3 689.5 285.1C690.4 281.9 691.9 276.1 693.0 274.0C694.1 271.9 694.9 272.3 695.8 272.4C696.7 272.5 697.5 273.2 698.5 274.8C699.4 276.3 700.7 279.2 701.6 281.8C702.5 284.3 703.0 287.1 703.9 290.0C704.8 293.0 706.0 296.0 707.1 299.4C708.1 302.7 709.0 307.4 710.2 310.3C711.4 313.2 712.7 315.0 714.1 316.5C715.5 318.1 717.1 319.4 718.8 319.7C720.5 319.9 722.3 318.5 724.2 318.1C726.2 317.7 728.4 317.4 730.5 317.3C732.6 317.3 734.9 317.5 736.7 317.8C738.6 318.1 740.1 319.3 741.4 319.4C742.7 319.4 743.5 318.7 744.5 318.1C745.6 317.5 746.6 315.8 747.7 315.8C748.7 315.8 749.7 316.4 750.8 318.1C751.8 319.8 752.9 323.3 753.9 325.9C755.0 328.5 756.0 331.6 757.0 333.7C758.0 335.9 759.0 336.8 760.0 338.9C761.0 341.1 762.1 343.8 763.1 346.5C764.2 349.2 765.1 352.7 766.2 355.1C767.4 357.4 768.7 358.8 770.2 360.5C771.6 362.2 773.5 363.4 774.8 365.2C776.1 367.0 777.2 369.7 778.0 371.5C778.7 373.3 778.5 373.9 779.5 376.0C780.5 378.1 782.0 382.0 783.9 384.1C785.8 386.1 788.5 387.6 791.0 388.4C793.4 389.3 796.4 388.8 798.9 389.0C801.3 389.1 803.8 388.8 805.9 389.3C807.9 389.8 809.5 390.9 811.2 392.0C812.8 393.0 814.2 395.0 815.5 395.5C816.9 395.9 818.0 395.0 819.1 394.6C820.2 394.2 821.2 392.5 822.2 392.8C823.3 393.1 824.3 394.0 825.2 396.4C826.1 398.7 827.0 402.8 827.8 406.9C828.7 411.0 829.6 416.3 830.5 421.0C831.4 425.6 832.2 430.3 833.1 435.0C834.1 439.7 835.2 445.1 836.3 449.1C837.4 453.0 838.6 455.9 839.8 458.7C841.0 461.5 842.7 464.5 843.7 465.8C844.7 467.0 844.9 466.7 845.8 466.3C846.6 465.8 847.7 464.4 848.9 463.1C850.2 461.9 851.9 460.3 853.3 458.7C854.8 457.1 856.3 454.7 857.7 453.5C859.2 452.2 860.4 451.5 862.1 451.2C863.9 450.9 866.1 451.5 868.3 451.7C870.5 451.9 873.2 452.6 875.3 452.2C877.3 451.8 879.0 450.2 880.6 449.4C882.1 448.6 883.3 447.3 884.4 447.3C885.6 447.3 886.5 448.6 887.6 449.4C888.7 450.2 889.9 452.3 891.1 452.2C892.3 452.2 893.4 449.9 894.6 449.1C895.8 448.2 896.7 447.2 898.1 447.0C899.6 446.7 901.8 446.5 903.4 447.3C905.0 448.1 906.5 449.4 907.8 451.7C909.1 454.0 910.2 457.7 911.3 461.4C912.4 465.0 913.3 469.3 914.3 473.7C915.3 478.1 916.3 483.6 917.5 487.7C918.6 491.8 919.8 495.8 921.0 498.3C922.1 500.7 923.5 501.8 924.5 502.7C925.5 503.5 925.9 504.0 927.1 503.5C928.3 503.1 929.9 500.7 931.5 500.0C933.1 499.3 935.0 499.4 936.8 499.1C938.5 498.8 940.3 499.0 942.0 498.3C943.8 497.5 945.4 495.9 947.3 494.7C949.2 493.6 951.6 492.3 953.5 491.2C955.4 490.2 957.4 488.3 958.7 488.6C960.1 488.9 960.4 490.5 961.4 493.0C962.4 495.5 963.7 500.5 964.9 503.5C966.1 506.6 967.2 509.6 968.4 511.4C969.6 513.3 970.5 514.3 971.9 514.4C973.4 514.6 975.4 513.0 977.2 512.3C978.9 511.7 981.0 511.1 982.5 510.6C983.9 510.0 984.9 509.0 986.0 509.2C987.0 509.3 987.6 509.7 988.6 511.4C989.6 513.1 991.0 516.6 992.1 519.3C993.3 522.1 994.3 525.3 995.6 528.1C997.0 530.9 998.6 534.0 1000.0 536.0C1001.5 538.0 1002.7 539.3 1004.4 540.1C1006.2 540.8 1008.4 540.4 1010.6 540.4C1012.8 540.5 1015.5 540.2 1017.6 540.4C1019.6 540.7 1021.4 541.4 1022.9 541.8C1024.3 542.3 1025.1 543.1 1026.4 543.1C1027.7 543.0 1029.5 541.8 1030.8 541.3C1032.1 540.8 1033.1 539.8 1034.3 540.1C1035.5 540.4 1036.5 541.5 1037.8 543.1C1039.1 544.6 1040.7 547.3 1042.2 549.2C1043.7 551.1 1045.0 553.1 1046.6 554.5C1048.2 555.9 1050.2 556.8 1051.9 557.6C1053.5 558.5 1054.8 559.3 1056.3 559.8C1057.7 560.2 1059.3 559.5 1060.6 560.6C1062.0 561.8 1063.0 564.6 1064.2 566.8C1065.3 569.0 1066.4 571.9 1067.7 573.8C1069.0 575.7 1070.5 577.2 1072.1 578.2C1073.7 579.2 1075.6 579.3 1077.3 579.6C1079.1 579.9 1080.7 579.6 1082.6 580.0C1084.5 580.3 1086.9 581.6 1088.8 581.7C1090.7 581.8 1092.0 580.3 1094.0 580.5C1096.0 580.7 1099.0 583.0 1100.7 582.9C1102.5 582.7 1103.5 581.3 1104.7 579.6C1105.8 577.9 1106.7 574.4 1107.6 572.6C1108.6 570.8 1109.3 569.4 1110.3 568.7C1111.2 568.0 1112.4 567.5 1113.4 568.2C1114.5 568.8 1115.3 570.7 1116.4 572.6C1117.5 574.5 1118.6 577.0 1119.9 579.6C1121.3 582.2 1123.0 585.8 1124.3 588.4C1125.7 591.0 1126.7 593.2 1127.8 595.4C1129.0 597.6 1130.0 599.8 1131.4 601.6C1132.7 603.3 1134.1 604.3 1135.8 606.0C1137.4 607.6 1139.3 610.1 1141.0 611.2C1142.8 612.4 1144.7 612.8 1146.3 613.0C1147.9 613.1 1149.2 612.8 1150.7 612.1C1152.2 611.4 1153.6 609.8 1155.1 608.6C1156.5 607.4 1158.0 605.7 1159.5 605.1C1160.9 604.5 1162.5 605.5 1163.9 605.1C1165.3 604.6 1166.7 603.0 1167.9 602.4C1169.1 601.9 1169.9 600.8 1170.9 601.6C1171.9 602.3 1172.9 604.1 1173.9 606.8C1174.8 609.6 1175.7 614.3 1176.7 618.3C1177.7 622.2 1178.6 626.6 1179.7 630.6C1180.8 634.5 1182.0 638.5 1183.2 642.0C1184.4 645.5 1185.5 648.7 1186.7 651.6C1187.9 654.6 1189.2 657.8 1190.2 659.5C1191.2 661.3 1191.8 662.3 1192.9 662.2C1193.9 662.0 1195.1 660.3 1196.4 658.7C1197.7 657.1 1199.3 653.9 1200.8 652.5C1202.2 651.1 1203.8 650.1 1205.2 650.2C1206.5 650.4 1207.3 652.0 1208.7 653.4C1210.0 654.7 1211.6 657.2 1213.1 658.3C1214.5 659.4 1215.5 659.8 1217.5 660.1C1219.4 660.4 1222.3 660.1 1224.5 660.1C1226.7 660.1 1229.0 659.6 1230.6 660.1C1232.2 660.6 1233.0 661.5 1234.1 663.1C1235.3 664.6 1236.5 667.0 1237.7 669.2C1238.8 671.4 1239.9 674.2 1241.2 676.2C1242.5 678.3 1244.1 679.8 1245.6 681.5C1247.0 683.3 1248.5 685.5 1250.0 686.8C1251.4 688.1 1252.7 689.0 1254.3 689.4C1256.0 689.9 1258.2 688.7 1259.6 689.4C1261.0 690.1 1261.8 692.0 1262.8 693.8C1263.8 695.6 1264.5 697.9 1265.8 700.0C1267.0 702.0 1268.7 704.3 1270.2 706.1C1271.6 707.9 1272.9 709.5 1274.6 710.5C1276.2 711.5 1277.9 712.2 1279.8 712.3C1281.7 712.3 1284.1 711.2 1286.0 711.0C1287.9 710.8 1289.6 710.5 1291.2 711.0C1292.9 711.5 1294.2 712.9 1295.6 714.0C1297.1 715.1 1298.4 716.6 1300.0 717.5C1301.6 718.4 1303.8 718.7 1305.3 719.3C1306.8 719.8 1307.9 719.9 1309.0 720.7C1310.2 721.5 1311.2 724.1 1312.3 724.1C1313.3 724.1 1314.5 722.3 1315.4 720.6C1316.3 718.9 1316.4 715.8 1317.6 714.0C1318.8 712.2 1321.1 711.1 1322.9 709.6C1324.6 708.2 1326.5 706.7 1328.1 705.2C1329.8 703.8 1331.4 701.7 1332.5 700.8C1333.7 700.0 1334.1 699.5 1335.2 700.0C1336.2 700.4 1337.2 702.2 1338.7 703.5C1340.1 704.8 1341.9 706.9 1344.0 707.9C1346.0 708.8 1348.6 709.0 1351.0 709.3C1353.3 709.5 1356.1 709.6 1358.0 709.3C1359.9 708.9 1360.9 708.2 1362.4 707.0C1363.9 705.7 1365.3 703.0 1366.8 701.7C1368.3 700.4 1369.7 699.8 1371.2 699.1C1372.7 698.3 1374.3 698.9 1375.6 697.3C1376.9 695.7 1377.9 691.1 1379.1 689.4C1380.3 687.7 1381.6 687.1 1382.6 687.1C1383.6 687.1 1384.2 687.7 1385.2 689.4C1386.3 691.1 1387.6 694.5 1388.8 697.3C1389.9 700.1 1391.1 703.3 1392.3 706.1C1393.4 708.9 1394.4 711.6 1395.8 714.0C1397.1 716.5 1399.1 719.1 1400.3 720.7C1401.5 722.3 1402.0 723.8 1402.9 723.6C1403.9 723.4 1404.8 721.3 1405.9 719.7C1407.0 718.2 1408.3 715.9 1409.4 714.5C1410.6 713.0 1411.8 711.7 1412.9 711.0C1414.1 710.2 1415.3 709.8 1416.5 710.1C1417.6 710.4 1418.7 711.8 1420.0 712.7C1421.3 713.6 1422.8 714.7 1424.4 715.3C1426.0 716.0 1427.9 716.6 1429.6 716.6C1431.4 716.6 1433.2 716.1 1434.9 715.3C1436.6 714.6 1438.6 712.6 1440.0 711.8C1441.4 711.0 1442.1 710.2 1443.2 710.6C1444.3 711.0 1445.5 712.7 1446.7 714.1C1447.9 715.6 1448.9 717.9 1450.2 719.4C1451.5 720.9 1453.3 722.1 1454.6 722.9C1455.9 723.7 1456.9 724.3 1458.1 724.1C1459.3 723.9 1460.5 722.5 1461.6 721.7C1462.8 720.9 1464.0 719.7 1465.1 719.4C1466.3 719.1 1467.5 718.9 1468.7 719.9C1469.8 721.0 1471.0 723.1 1472.2 725.5C1473.3 728.0 1474.5 731.7 1475.7 734.3C1476.9 737.0 1477.9 739.2 1479.2 741.4C1480.5 743.6 1482.1 745.9 1483.6 747.5C1485.1 749.1 1486.5 750.9 1488.0 751.0C1489.4 751.2 1490.9 749.0 1492.4 748.4C1493.8 747.7 1495.2 747.2 1496.8 747.2C1498.4 747.1 1500.3 747.5 1502.0 748.0C1503.8 748.6 1505.8 750.1 1507.3 750.5C1508.8 750.9 1509.6 751.0 1510.8 750.5C1512.0 750.0 1513.0 748.7 1514.3 747.5C1515.7 746.3 1517.3 744.0 1518.7 743.1C1520.2 742.2 1521.8 743.1 1523.1 742.2C1524.4 741.4 1525.5 739.8 1526.6 737.8C1527.8 735.9 1529.0 732.6 1530.1 730.8C1531.3 729.1 1532.3 728.0 1533.7 727.3C1535.0 726.7 1536.6 727.4 1538.1 727.0C1539.5 726.5 1541.3 724.9 1542.4 724.7C1543.6 724.4 1544.1 724.4 1545.1 725.5C1546.0 726.7 1547.0 729.1 1548.1 731.7C1549.1 734.3 1550.1 738.1 1551.2 741.4C1552.3 744.6 1553.4 748.2 1554.7 751.0C1556.1 753.8 1557.7 756.5 1559.1 758.1C1560.6 759.6 1561.6 760.0 1563.5 760.3C1565.4 760.7 1568.5 760.4 1570.6 760.3C1572.6 760.2 1574.4 759.9 1575.8 759.8C1577.3 759.7 1578.2 759.1 1579.3 759.8C1580.5 760.5 1581.7 762.9 1582.9 764.2C1584.0 765.5 1584.8 767.7 1586.0 767.7C1587.2 767.7 1588.5 765.4 1589.9 764.2C1591.3 763.0 1592.8 761.5 1594.3 760.7C1595.7 759.9 1597.5 759.1 1598.7 759.3C1599.8 759.4 1600.3 760.0 1601.3 761.6C1602.3 763.1 1603.6 766.3 1604.8 768.6C1606.0 770.9 1607.0 773.6 1608.3 775.6C1609.6 777.7 1611.3 779.9 1612.7 780.9C1614.2 781.9 1615.5 781.8 1617.1 781.4C1618.7 781.0 1620.5 779.4 1622.4 778.6C1624.3 777.8 1626.6 776.6 1628.5 776.5C1630.4 776.4 1631.9 777.7 1633.8 778.3C1635.7 778.8 1638.1 779.3 1640.0 779.7C1641.9 780.0 1643.5 780.2 1645.2 780.4C1647.0 780.6 1649.0 780.8 1650.5 780.9C1652.0 781.0 1653.0 780.0 1654.0 780.9C1655.0 781.8 1655.6 784.0 1656.6 786.2C1657.7 788.4 1659.0 791.6 1660.2 794.1C1661.3 796.6 1662.4 799.0 1663.7 801.1C1665.0 803.1 1666.6 805.3 1668.1 806.4C1669.5 807.5 1671.0 807.9 1672.5 807.8C1673.9 807.6 1675.7 806.5 1676.9 805.5C1678.0 804.5 1678.6 802.8 1679.5 802.0C1680.4 801.2 1681.2 800.7 1682.1 800.7C1683.0 800.8 1683.9 802.1 1684.8 802.5C1685.6 802.9 1686.4 803.7 1687.4 803.2C1688.4 802.7 1689.7 801.0 1690.9 799.3C1692.1 797.7 1693.1 794.9 1694.4 793.2C1695.7 791.4 1697.2 790.0 1698.8 788.8C1700.4 787.6 1702.3 786.5 1704.1 786.2C1705.8 785.8 1707.6 786.8 1709.4 786.7C1711.1 786.5 1712.9 785.8 1714.6 785.3C1716.4 784.8 1718.1 784.4 1719.9 783.5C1721.7 782.7 1723.7 781.6 1725.2 780.0C1726.6 778.4 1727.5 775.3 1728.7 773.9C1729.9 772.4 1730.9 771.6 1732.2 771.2C1733.5 770.8 1735.1 771.0 1736.6 771.6C1738.1 772.2 1739.7 773.3 1741.0 774.7C1742.3 776.1 1743.3 778.4 1744.5 780.0C1745.7 781.6 1746.8 783.5 1748.0 784.4C1749.2 785.3 1750.4 785.7 1751.5 785.3C1752.7 784.9 1754.0 782.9 1755.0 782.1C1756.1 781.4 1756.6 780.1 1757.7 780.9C1758.7 781.7 1759.9 785.1 1761.2 787.0C1762.5 788.9 1764.0 790.8 1765.6 792.3C1767.2 793.8 1769.1 795.4 1770.8 796.2C1772.6 796.9 1774.4 796.7 1776.1 796.7C1777.9 796.7 1779.8 796.2 1781.4 796.2C1783.0 796.2 1784.3 796.5 1785.8 796.7C1787.2 796.9 1788.9 796.8 1790.0 797.4C1791.1 798.0 1791.6 799.5 1792.4 800.5C1793.3 801.5 1794.2 802.8 1794.9 803.4C1795.6 804.1 1796.1 804.4 1796.8 804.2C1797.6 804.1 1798.5 803.4 1799.3 802.5C1800.1 801.5 1800.9 799.8 1801.7 798.6C1802.5 797.3 1803.3 796.3 1804.2 795.1C1805.1 794.0 1806.1 792.5 1807.1 791.7C1808.1 790.9 1809.0 790.6 1810.0 790.3C1811.0 789.9 1812.0 789.7 1812.9 789.8C1813.9 789.8 1815.0 790.0 1815.9 790.6C1816.8 791.1 1817.5 792.0 1818.3 793.2C1819.1 794.4 1819.9 796.1 1820.8 797.6C1821.7 799.1 1822.7 800.8 1823.7 802.0C1824.7 803.1 1825.6 803.5 1826.6 804.4C1827.7 805.3 1828.9 806.5 1830.0 807.3C1831.2 808.2 1832.4 808.9 1833.4 809.3C1834.5 809.7 1835.3 809.9 1836.4 809.8C1837.4 809.7 1838.6 809.1 1839.8 808.8C1841.0 808.5 1842.5 808.0 1843.7 807.8C1844.9 807.7 1846.0 807.8 1847.1 807.8C1848.2 807.9 1849.4 807.9 1850.5 808.3C1851.7 808.7 1852.9 809.6 1853.9 810.3C1855.0 810.9 1856.0 812.0 1856.9 812.2C1857.8 812.5 1858.4 812.1 1859.3 811.7C1860.2 811.3 1861.3 810.4 1862.2 809.8C1863.2 809.2 1864.3 808.7 1865.2 808.3C1866.1 808.0 1866.8 807.7 1867.6 807.8C1868.4 808.0 1869.2 808.6 1870.0 809.3C1870.9 810.0 1872.0 811.3 1873.0 812.2C1874.0 813.2 1874.9 814.3 1875.9 815.2C1876.9 816.0 1877.9 816.8 1878.8 817.1C1879.8 817.4 1880.8 817.6 1881.8 817.1C1882.7 816.6 1883.7 815.5 1884.7 814.2C1885.7 812.9 1886.6 810.8 1887.6 809.3C1888.6 807.8 1889.7 805.7 1890.5 804.9C1891.4 804.1 1892.1 804.3 1893.0 804.4C1893.9 804.6 1894.9 805.6 1895.9 805.9C1896.9 806.1 1897.9 806.3 1898.8 805.9C1899.8 805.5 1900.8 804.3 1901.8 803.4C1902.7 802.6 1903.6 801.7 1904.7 801.0C1905.8 800.3 1907.0 799.5 1908.1 799.1C1909.3 798.6 1910.3 798.3 1911.5 798.1C1912.8 797.8 1914.1 797.7 1915.4 797.6C1916.7 797.5 1918.2 797.6 1919.3 797.4C1920.5 797.2 1921.3 796.9 1922.3 796.6C1923.2 796.3 1924.2 795.7 1925.2 795.6C1926.2 795.6 1927.1 795.8 1928.1 796.1C1929.1 796.4 1930.0 797.1 1931.1 797.4C1932.1 797.6 1933.5 797.9 1934.5 797.6C1935.4 797.3 1936.1 796.3 1936.9 795.6C1937.7 795.0 1938.6 793.8 1939.4 793.7C1940.1 793.5 1940.6 794.2 1941.3 794.7C1942.0 795.1 1942.9 796.3 1943.7 796.6C1944.6 796.9 1945.3 796.7 1946.2 796.4C1947.1 796.1 1948.1 795.3 1949.1 794.7C1950.1 794.0 1951.1 793.3 1952.0 792.7C1953.0 792.1 1954.0 791.7 1955.0 791.2C1955.9 790.8 1957.0 790.8 1957.9 790.3C1958.8 789.8 1959.9 788.6 1960.3 788.3"/>
<path stroke="#4daa10" d="M290.9 807.0C291.5 806.9 292.8 806.4 294.1 806.5C295.4 806.6 297.2 807.6 298.7 807.8C300.3 807.9 301.9 807.6 303.4 807.4C305.0 807.3 306.7 807.7 308.1 807.0C309.5 806.3 310.8 804.2 312.0 803.1C313.2 801.9 314.4 800.4 315.1 800.0C315.9 799.5 316.1 799.2 316.7 800.3C317.4 801.3 318.3 804.4 319.0 806.2C319.8 808.0 320.6 810.0 321.4 810.9C322.2 811.8 322.9 812.4 323.7 811.7C324.5 810.9 325.3 807.6 326.1 806.2C326.9 804.8 327.8 803.1 328.4 803.1C329.1 803.1 329.3 804.4 330.0 806.2C330.6 808.0 331.4 811.5 332.3 814.0C333.2 816.5 334.5 818.8 335.4 821.0C336.4 823.2 337.0 825.3 337.8 827.3C338.6 829.2 339.3 832.9 340.1 832.7C340.9 832.6 341.6 827.8 342.5 826.5C343.4 825.2 344.3 825.3 345.6 824.9C346.9 824.5 348.8 824.4 350.3 824.2C351.7 823.9 353.0 822.2 354.2 823.4C355.4 824.5 356.1 828.6 357.3 831.2C358.5 833.8 359.9 836.8 361.2 839.0C362.5 841.2 363.8 842.8 365.1 844.5C366.4 846.2 367.8 849.0 369.0 849.1C370.2 849.3 371.1 847.1 372.1 845.2C373.2 843.4 374.3 839.8 375.3 838.2C376.3 836.7 377.0 835.5 378.1 835.9C379.1 836.3 380.2 837.7 381.5 840.6C382.9 843.4 384.6 848.9 386.2 853.1C387.8 857.2 389.5 862.0 390.9 865.5C392.3 869.1 393.9 873.4 394.8 874.1C395.7 874.9 395.7 873.7 396.3 870.2C397.0 866.7 397.8 860.6 398.7 853.1C399.6 845.5 400.8 833.8 401.8 824.9C402.9 816.1 403.9 808.3 404.9 800.0C406.0 791.6 407.0 783.3 408.1 775.0C409.1 766.6 410.1 758.3 411.2 750.0C412.2 741.6 413.3 733.3 414.3 725.0C415.4 716.7 416.4 704.2 417.4 700.0C418.4 695.8 419.4 703.0 420.3 700.1C421.2 697.1 422.0 689.0 422.9 682.4C423.9 675.8 425.1 667.3 426.1 660.5C427.0 653.8 427.8 646.2 428.7 641.8C429.6 637.4 430.4 636.3 431.5 634.0C432.7 631.7 434.1 630.0 435.4 627.7C436.7 625.5 438.0 622.3 439.3 620.7C440.6 619.2 442.1 618.8 443.3 618.4C444.4 617.9 445.3 617.7 446.4 618.1C447.4 618.5 448.5 619.2 449.5 620.7C450.5 622.2 451.6 624.8 452.6 627.0C453.7 629.2 454.8 632.4 455.7 634.0C456.7 635.6 457.3 636.2 458.1 636.3C458.9 636.5 459.5 635.9 460.4 634.8C461.3 633.6 462.5 631.8 463.6 629.3C464.6 626.8 465.8 623.1 466.7 619.9C467.6 616.8 468.2 615.8 469.0 610.6C469.8 605.4 470.6 596.5 471.4 588.7C472.1 580.9 472.7 571.8 473.4 563.7C474.0 555.6 474.6 548.4 475.3 540.3C476.0 532.2 476.7 522.8 477.6 515.3C478.5 507.8 479.3 503.9 480.4 495.0C481.6 486.1 483.2 472.5 484.5 461.8C485.8 451.0 487.0 441.0 488.4 430.6C489.8 420.1 491.7 408.4 493.1 399.3C494.5 390.2 495.7 384.2 497.0 375.9C498.3 367.6 499.7 357.4 500.9 349.3C502.1 341.3 503.1 333.5 504.0 327.5C504.9 321.5 505.6 316.9 506.4 313.4C507.2 309.9 507.9 307.9 508.7 306.4C509.6 304.9 510.6 304.1 511.5 304.4C512.4 304.6 513.2 306.5 514.2 308.0C515.1 309.5 516.4 312.3 517.3 313.4C518.2 314.5 518.7 315.1 519.6 314.7C520.6 314.3 521.7 313.1 522.8 311.1C523.8 309.1 524.9 305.2 525.9 302.5C526.9 299.8 528.2 296.8 529.0 294.7C529.9 292.6 530.3 292.4 531.0 290.0C531.8 287.6 532.7 283.0 533.7 280.2C534.7 277.4 535.8 274.6 536.8 273.2C537.9 271.8 539.0 271.4 540.0 271.6C540.9 271.9 541.4 272.8 542.3 274.8C543.2 276.7 544.5 280.8 545.4 283.3C546.3 285.9 547.1 288.0 547.8 290.1C548.4 292.1 548.6 294.0 549.3 295.5C550.1 296.9 551.1 298.5 552.1 298.6C553.1 298.7 554.0 297.7 555.3 296.2C556.5 294.8 558.4 292.9 559.5 290.0C560.6 287.1 560.9 282.6 561.8 278.7C562.7 274.7 563.9 270.6 564.9 266.2C566.0 261.7 567.0 256.3 568.1 252.1C569.1 247.9 570.1 244.6 571.2 241.2C572.2 237.8 573.3 234.3 574.3 231.8C575.4 229.3 576.4 227.6 577.4 226.3C578.5 225.1 579.0 224.6 580.6 224.3C582.1 224.0 585.0 224.4 586.8 224.3C588.6 224.3 589.9 224.4 591.5 224.0C593.1 223.6 594.8 222.6 596.2 222.1C597.5 221.6 598.5 220.7 599.6 220.9C600.7 221.1 601.6 221.4 602.7 223.2C603.9 225.0 605.1 228.8 606.3 231.8C607.6 234.8 608.9 238.1 610.2 241.2C611.5 244.3 612.8 247.6 614.1 250.5C615.4 253.5 617.0 257.2 618.0 259.1C619.1 261.1 619.5 262.3 620.4 262.3C621.3 262.3 622.3 260.8 623.5 259.1C624.7 257.4 626.1 254.6 627.4 252.1C628.7 249.6 630.0 247.2 631.3 244.3C632.6 241.4 634.0 237.8 635.2 234.9C636.4 232.1 637.3 229.1 638.3 227.1C639.4 225.1 640.4 223.3 641.5 222.7C642.5 222.2 643.3 223.4 644.6 224.0C645.9 224.5 647.5 225.6 649.3 226.0C651.1 226.5 653.6 226.8 655.5 226.8C657.5 226.9 659.6 226.0 661.0 226.3C662.4 226.6 662.9 227.4 664.1 228.7C665.3 230.0 666.6 232.3 668.0 234.1C669.4 236.0 671.4 237.7 672.7 239.6C674.0 241.6 674.8 243.6 675.8 245.9C676.9 248.1 678.0 251.3 678.9 252.9C679.9 254.5 680.8 255.9 681.8 255.5C682.7 255.2 683.6 252.9 684.4 250.5C685.2 248.1 685.8 244.6 686.8 241.2C687.7 237.8 688.8 232.8 689.9 230.2C690.9 227.6 692.0 226.5 693.0 225.6C694.0 224.6 695.1 224.8 696.1 224.8C697.2 224.8 698.2 224.4 699.2 225.6C700.3 226.7 701.3 228.7 702.4 231.8C703.4 234.9 704.5 240.1 705.5 244.3C706.5 248.5 707.6 253.4 708.6 256.8C709.7 260.2 710.6 262.5 711.7 264.6C712.9 266.7 714.3 268.2 715.6 269.3C716.9 270.4 717.9 271.0 719.6 271.2C721.2 271.3 723.7 270.3 725.8 270.1C727.9 269.8 730.4 269.9 732.0 269.8C733.7 269.6 734.8 268.9 735.9 269.0C737.1 269.0 738.0 269.5 739.1 270.1C740.1 270.6 741.2 272.1 742.2 272.1C743.2 272.1 744.3 270.7 745.3 270.1C746.4 269.5 747.4 268.2 748.4 268.5C749.5 268.8 750.5 269.7 751.6 271.6C752.6 273.6 753.6 277.1 754.7 280.2C755.7 283.3 756.9 287.8 757.8 290.1C758.7 292.4 759.1 291.9 760.0 294.0C760.9 296.1 762.1 299.7 763.1 302.7C764.2 305.8 765.2 309.5 766.2 312.1C767.3 314.7 768.1 316.7 769.4 318.4C770.7 320.1 772.8 320.4 774.1 322.3C775.4 324.1 776.1 327.0 777.2 329.3C778.2 331.6 779.3 334.2 780.3 336.3C781.3 338.4 782.3 340.2 783.4 341.8C784.6 343.4 785.8 344.7 787.3 345.7C788.9 346.7 791.1 347.6 792.8 348.0C794.5 348.4 795.8 347.6 797.5 348.0C799.2 348.4 801.3 349.9 802.9 350.4C804.6 350.9 806.1 350.8 807.6 351.2C809.2 351.6 810.9 351.9 812.3 352.7C813.7 353.5 815.1 355.2 816.2 355.8C817.4 356.5 818.4 356.6 819.3 356.6C820.3 356.7 821.2 355.6 822.2 356.2C823.1 356.7 824.0 358.0 824.8 359.8C825.6 361.5 826.5 364.2 827.2 366.8C827.9 369.3 828.3 372.2 829.0 375.1C829.7 377.9 830.4 379.6 831.4 384.1C832.3 388.5 833.5 396.4 834.5 401.6C835.5 406.9 836.5 411.3 837.5 415.7C838.5 420.1 839.5 424.8 840.5 428.0C841.5 431.2 842.8 433.6 843.7 435.0C844.5 436.4 844.9 436.7 845.8 436.4C846.6 436.1 847.7 434.8 848.9 433.3C850.2 431.7 851.9 429.0 853.3 427.1C854.8 425.2 856.3 423.2 857.7 421.8C859.2 420.5 860.5 419.3 862.1 418.8C863.7 418.4 865.6 419.3 867.4 419.2C869.1 419.1 871.0 418.3 872.7 418.3C874.3 418.4 875.6 419.7 877.0 419.5C878.5 419.4 880.0 418.0 881.4 417.4C882.9 416.9 884.5 416.0 885.8 416.0C887.1 416.1 888.2 417.2 889.3 417.8C890.5 418.4 891.7 419.8 892.9 419.5C894.0 419.3 895.3 417.2 896.4 416.6C897.5 415.9 898.4 415.5 899.5 415.7C900.7 415.8 902.0 416.3 903.4 417.4C904.8 418.6 906.5 420.4 907.8 422.7C909.1 425.1 910.2 428.0 911.3 431.5C912.4 435.0 913.3 439.4 914.3 443.8C915.3 448.2 916.1 453.5 917.1 457.8C918.1 462.2 919.0 467.3 920.1 470.1C921.2 473.0 922.3 474.2 923.6 475.1C924.9 475.9 926.4 475.8 928.0 475.4C929.6 475.0 931.5 473.4 933.3 472.8C935.0 472.2 936.9 472.3 938.5 471.9C940.1 471.5 941.5 471.0 942.9 470.1C944.4 469.3 945.7 468.0 947.3 466.6C948.9 465.3 951.0 463.4 952.6 462.2C954.2 461.1 955.8 459.9 957.0 459.6C958.2 459.3 958.7 459.3 959.6 460.5C960.5 461.7 961.2 463.6 962.3 466.6C963.3 469.7 964.6 475.3 965.8 478.9C966.9 482.6 968.1 486.4 969.3 488.6C970.5 490.8 971.5 492.1 972.8 492.1C974.1 492.1 975.6 489.8 977.2 488.6C978.8 487.4 981.0 486.0 982.5 485.1C983.9 484.2 984.9 483.3 986.0 483.3C987.0 483.3 987.6 483.5 988.6 485.1C989.6 486.7 991.0 489.9 992.1 493.0C993.3 496.1 994.3 500.3 995.6 503.5C997.0 506.7 998.6 510.2 1000.0 512.3C1001.5 514.4 1002.7 515.4 1004.4 516.2C1006.2 516.9 1008.5 516.4 1010.6 516.7C1012.6 517.0 1015.1 517.8 1016.7 517.9C1018.3 518.1 1019.1 517.9 1020.2 517.6C1021.4 517.3 1022.6 515.9 1023.7 516.2C1024.9 516.4 1026.1 518.5 1027.3 519.0C1028.4 519.5 1029.6 519.7 1030.8 519.3C1031.9 519.0 1033.3 517.2 1034.3 516.7C1035.3 516.2 1035.9 515.6 1036.9 516.2C1038.0 516.8 1039.1 518.5 1040.4 520.2C1041.8 521.9 1043.4 524.6 1044.8 526.4C1046.3 528.1 1047.8 529.0 1049.2 530.8C1050.7 532.5 1052.2 535.5 1053.6 536.9C1055.1 538.3 1056.7 538.7 1058.0 539.0C1059.3 539.4 1060.4 537.9 1061.5 539.0C1062.7 540.1 1063.7 543.4 1065.0 545.7C1066.4 548.0 1068.0 550.9 1069.4 552.7C1070.9 554.5 1072.4 555.8 1073.8 556.6C1075.3 557.4 1076.9 557.6 1078.2 557.6C1079.5 557.7 1080.4 556.8 1081.7 557.1C1083.0 557.5 1084.5 558.9 1086.1 559.8C1087.7 560.6 1089.8 562.1 1091.4 562.4C1093.0 562.7 1094.2 561.9 1095.8 561.5C1097.3 561.1 1099.2 561.1 1100.7 560.0C1102.3 558.9 1103.7 557.0 1105.0 555.0C1106.3 553.0 1107.4 549.6 1108.5 548.0C1109.6 546.4 1110.7 545.5 1111.7 545.3C1112.7 545.2 1113.6 545.6 1114.7 547.1C1115.8 548.6 1116.9 551.6 1118.2 554.1C1119.5 556.6 1121.3 559.3 1122.6 562.0C1123.9 564.8 1124.9 567.9 1126.1 570.8C1127.3 573.7 1128.4 577.1 1129.6 579.6C1130.8 582.1 1131.7 584.0 1133.1 585.8C1134.6 587.5 1136.6 589.0 1138.4 590.1C1140.1 591.3 1142.0 592.3 1143.7 592.8C1145.3 593.3 1146.6 593.5 1148.1 593.3C1149.5 593.1 1151.1 592.5 1152.4 591.6C1153.8 590.6 1154.8 588.9 1156.0 587.5C1157.1 586.1 1158.3 583.9 1159.5 583.1C1160.6 582.4 1161.7 583.4 1163.0 583.1C1164.3 582.8 1166.0 581.7 1167.4 581.4C1168.8 581.0 1170.3 580.3 1171.4 581.0C1172.5 581.7 1173.1 583.1 1173.9 585.8C1174.7 588.4 1175.3 593.2 1176.2 597.2C1177.0 601.1 1177.8 605.4 1178.8 609.5C1179.8 613.6 1180.8 618.0 1182.0 621.8C1183.1 625.6 1184.3 629.1 1185.5 632.3C1186.6 635.5 1187.8 638.9 1189.0 641.1C1190.2 643.3 1191.4 645.2 1192.5 645.5C1193.6 645.8 1194.4 644.2 1195.5 642.9C1196.6 641.5 1197.7 638.8 1199.0 637.6C1200.3 636.4 1201.9 635.7 1203.4 635.8C1204.9 636.0 1206.3 637.3 1207.8 638.5C1209.3 639.6 1210.6 641.9 1212.2 642.9C1213.8 643.8 1215.7 644.0 1217.5 644.3C1219.2 644.5 1221.0 644.5 1222.7 644.3C1224.5 644.0 1226.5 643.1 1228.0 642.9C1229.5 642.6 1230.7 641.9 1231.9 642.5C1233.0 643.1 1233.7 644.3 1234.7 646.4C1235.6 648.5 1236.6 652.4 1237.7 655.2C1238.7 657.9 1239.9 660.6 1241.2 663.1C1242.5 665.5 1244.1 668.2 1245.6 670.1C1247.0 672.0 1248.5 673.6 1250.0 674.5C1251.4 675.4 1252.9 675.2 1254.3 675.4C1255.8 675.5 1257.5 674.8 1258.7 675.4C1260.0 675.9 1260.7 677.1 1261.7 678.9C1262.8 680.6 1263.6 683.6 1264.9 685.9C1266.1 688.2 1267.8 691.0 1269.3 692.9C1270.7 694.8 1272.2 696.1 1273.7 697.3C1275.1 698.5 1276.5 699.4 1278.1 700.0C1279.7 700.5 1281.4 700.5 1283.3 700.5C1285.2 700.5 1287.9 700.0 1289.5 700.0C1291.1 700.0 1291.8 699.6 1293.0 700.5C1294.2 701.4 1295.3 703.7 1296.5 705.2C1297.7 706.7 1298.9 708.9 1300.0 709.6C1301.2 710.4 1302.2 709.3 1303.5 709.6C1304.9 710.0 1306.5 711.0 1307.9 711.7C1309.4 712.5 1311.0 714.5 1312.3 714.0C1313.6 713.5 1314.7 710.4 1315.8 708.7C1317.0 707.1 1317.9 705.7 1319.4 704.3C1320.8 703.0 1323.0 702.3 1324.6 700.8C1326.2 699.4 1327.7 697.2 1329.0 695.6C1330.3 694.0 1331.5 692.0 1332.5 691.2C1333.6 690.3 1334.1 689.9 1335.2 690.3C1336.2 690.7 1337.2 692.8 1338.7 693.8C1340.1 694.8 1341.9 695.7 1344.0 696.4C1346.0 697.2 1348.6 697.8 1351.0 698.2C1353.3 698.6 1356.1 698.9 1358.0 698.7C1359.9 698.5 1360.9 698.2 1362.4 697.0C1363.9 695.7 1365.3 692.9 1366.8 691.2C1368.3 689.5 1369.7 688.0 1371.2 686.8C1372.7 685.6 1374.3 685.9 1375.6 684.1C1376.9 682.4 1377.9 678.1 1379.1 676.2C1380.3 674.3 1381.6 672.7 1382.6 672.7C1383.6 672.7 1384.2 674.2 1385.2 676.2C1386.3 678.3 1387.6 681.8 1388.8 685.0C1389.9 688.2 1391.1 692.3 1392.3 695.6C1393.4 698.8 1394.5 701.9 1395.8 704.3C1397.1 706.8 1398.8 709.1 1400.0 710.5C1401.2 711.9 1401.9 712.8 1402.9 712.7C1403.9 712.6 1404.8 711.4 1405.9 710.1C1407.0 708.8 1408.3 706.2 1409.4 704.8C1410.6 703.4 1411.6 702.5 1412.9 701.8C1414.3 701.1 1415.7 700.6 1417.3 700.8C1418.9 700.9 1420.8 702.0 1422.6 702.5C1424.4 703.0 1426.1 703.6 1427.9 703.6C1429.6 703.6 1431.5 703.0 1433.1 702.5C1434.8 702.0 1436.4 701.2 1437.5 700.4C1438.7 699.6 1439.1 698.4 1440.0 697.8C1440.9 697.1 1441.7 696.2 1442.7 696.6C1443.6 696.9 1444.7 698.5 1445.8 700.1C1446.9 701.7 1448.0 704.3 1449.3 706.2C1450.6 708.1 1452.3 710.3 1453.7 711.5C1455.2 712.7 1456.8 713.7 1458.1 713.6C1459.4 713.5 1460.5 711.4 1461.6 710.6C1462.8 709.8 1464.0 709.1 1465.1 708.9C1466.3 708.7 1467.5 708.4 1468.7 709.4C1469.8 710.4 1471.0 712.6 1472.2 715.0C1473.3 717.4 1474.5 721.0 1475.7 723.8C1476.9 726.6 1478.0 729.4 1479.2 731.7C1480.4 734.0 1481.4 735.9 1482.7 737.5C1484.0 739.0 1485.6 740.7 1487.1 741.0C1488.6 741.4 1489.9 740.0 1491.5 739.6C1493.1 739.2 1495.0 738.9 1496.8 738.7C1498.5 738.6 1500.3 738.3 1502.0 738.7C1503.8 739.1 1505.8 740.4 1507.3 741.0C1508.8 741.6 1509.6 742.5 1510.8 742.2C1512.0 742.0 1513.2 740.9 1514.3 739.6C1515.5 738.3 1516.5 735.7 1517.8 734.3C1519.2 732.9 1520.9 732.3 1522.2 731.2C1523.6 730.0 1524.6 729.3 1525.8 727.3C1526.9 725.3 1528.1 721.3 1529.3 719.4C1530.4 717.5 1531.8 716.5 1532.8 715.9C1533.8 715.3 1534.4 715.4 1535.4 715.9C1536.4 716.3 1537.8 718.4 1538.9 718.5C1540.1 718.7 1541.3 717.1 1542.4 716.8C1543.6 716.4 1544.6 715.4 1545.6 716.4C1546.6 717.4 1547.5 720.2 1548.6 722.9C1549.7 725.6 1550.9 729.5 1552.1 732.6C1553.3 735.7 1554.3 738.9 1555.6 741.4C1556.9 743.9 1558.4 746.0 1560.0 747.5C1561.6 749.0 1563.5 749.6 1565.3 750.1C1567.0 750.6 1568.8 750.4 1570.6 750.5C1572.3 750.6 1574.2 750.6 1575.8 751.0C1577.4 751.4 1578.9 751.8 1580.2 752.8C1581.5 753.8 1582.7 756.0 1583.7 757.2C1584.8 758.3 1585.3 760.1 1586.4 759.8C1587.4 759.5 1588.6 756.9 1589.9 755.4C1591.2 754.0 1592.8 752.0 1594.3 751.0C1595.7 750.1 1597.5 749.6 1598.7 749.8C1599.8 749.9 1600.3 750.4 1601.3 751.9C1602.3 753.4 1603.6 756.6 1604.8 758.9C1606.0 761.3 1607.0 763.8 1608.3 766.0C1609.6 768.2 1611.3 770.7 1612.7 772.1C1614.2 773.5 1615.5 774.2 1617.1 774.4C1618.7 774.5 1620.5 773.5 1622.4 773.0C1624.3 772.5 1626.6 771.7 1628.5 771.6C1630.4 771.4 1631.9 772.0 1633.8 772.1C1635.7 772.2 1638.1 771.8 1640.0 772.1C1641.9 772.4 1643.5 773.4 1645.2 773.9C1647.0 774.4 1649.0 774.8 1650.5 775.1C1652.0 775.4 1653.0 774.5 1654.0 775.6C1655.0 776.7 1655.6 779.3 1656.6 781.8C1657.7 784.3 1659.0 787.8 1660.2 790.6C1661.3 793.3 1662.4 796.3 1663.7 798.5C1665.0 800.7 1666.6 802.6 1668.1 803.7C1669.5 804.9 1671.0 805.6 1672.5 805.5C1673.9 805.4 1675.7 804.2 1676.9 803.2C1678.0 802.2 1678.6 800.3 1679.5 799.3C1680.4 798.4 1681.2 797.6 1682.1 797.6C1683.0 797.6 1683.9 798.8 1684.8 799.3C1685.6 799.9 1686.4 801.4 1687.4 801.1C1688.4 800.8 1689.7 799.2 1690.9 797.6C1692.1 796.0 1693.1 793.3 1694.4 791.4C1695.7 789.6 1697.2 787.8 1698.8 786.7C1700.4 785.6 1702.3 785.2 1704.1 784.9C1705.8 784.6 1707.6 785.3 1709.4 784.9C1711.1 784.6 1712.9 783.5 1714.6 782.7C1716.4 781.8 1718.3 781.2 1719.9 780.0C1721.5 778.8 1723.0 777.4 1724.3 775.6C1725.6 773.9 1726.6 770.9 1727.8 769.5C1729.0 768.0 1730.0 767.1 1731.3 766.8C1732.6 766.5 1734.2 767.1 1735.7 767.7C1737.2 768.3 1738.6 769.3 1740.1 770.4C1741.6 771.4 1743.2 772.4 1744.5 773.9C1745.8 775.3 1746.8 777.8 1748.0 779.1C1749.2 780.5 1750.4 781.9 1751.5 781.8C1752.7 781.6 1754.0 779.1 1755.0 778.3C1756.1 777.4 1756.6 776.1 1757.7 776.5C1758.7 776.9 1759.9 779.3 1761.2 780.9C1762.5 782.5 1764.0 784.7 1765.6 786.2C1767.2 787.6 1769.1 788.9 1770.8 789.7C1772.6 790.5 1774.4 790.6 1776.1 790.9C1777.9 791.2 1779.8 791.1 1781.4 791.4C1783.0 791.8 1784.3 792.7 1785.8 793.2C1787.3 793.7 1789.1 793.7 1790.5 794.6C1791.8 795.5 1792.9 797.7 1793.9 798.6C1794.9 799.5 1795.5 800.0 1796.4 800.0C1797.2 800.0 1798.0 799.5 1798.8 798.6C1799.6 797.7 1800.3 796.0 1801.2 794.7C1802.1 793.4 1803.2 791.8 1804.2 790.8C1805.1 789.7 1806.1 788.9 1807.1 788.3C1808.1 787.7 1809.0 787.4 1810.0 787.3C1811.0 787.3 1812.0 787.8 1812.9 788.0C1813.9 788.2 1814.9 788.2 1815.9 788.6C1816.9 789.1 1817.8 789.7 1818.8 790.8C1819.8 791.8 1820.8 793.4 1821.7 794.7C1822.7 796.0 1823.7 797.3 1824.7 798.6C1825.6 799.8 1826.5 800.8 1827.6 802.0C1828.6 803.1 1829.9 804.5 1831.0 805.4C1832.1 806.3 1832.9 806.9 1833.9 807.3C1835.0 807.8 1836.3 807.9 1837.3 807.8C1838.4 807.8 1839.2 807.2 1840.3 806.9C1841.3 806.5 1842.6 805.8 1843.7 805.6C1844.8 805.4 1846.0 805.5 1847.1 805.6C1848.2 805.7 1849.4 805.7 1850.5 806.2C1851.7 806.6 1852.9 807.6 1853.9 808.3C1855.0 809.0 1856.0 810.2 1856.9 810.3C1857.8 810.4 1858.5 809.6 1859.3 808.8C1860.1 808.0 1860.9 806.5 1861.8 805.4C1862.6 804.3 1863.4 803.2 1864.2 802.5C1865.0 801.8 1865.9 801.3 1866.6 801.3C1867.4 801.3 1867.9 801.6 1868.6 802.5C1869.2 803.3 1869.8 805.2 1870.5 806.4C1871.3 807.6 1872.1 808.7 1873.0 809.8C1873.9 810.8 1874.9 812.0 1875.9 812.7C1876.9 813.5 1877.9 813.9 1878.8 814.2C1879.8 814.4 1880.8 814.6 1881.8 814.2C1882.7 813.8 1883.7 812.9 1884.7 811.7C1885.7 810.6 1886.6 808.8 1887.6 807.3C1888.6 805.9 1889.7 804.0 1890.5 803.0C1891.4 801.9 1892.2 801.1 1893.0 801.0C1893.8 800.9 1894.6 802.1 1895.4 802.5C1896.2 802.8 1897.0 803.2 1897.9 803.0C1898.8 802.7 1899.7 801.7 1900.8 801.0C1901.9 800.3 1903.1 799.2 1904.2 798.6C1905.4 797.9 1906.4 797.4 1907.6 797.1C1908.8 796.8 1910.2 796.9 1911.5 796.8C1912.8 796.7 1914.1 796.5 1915.4 796.4C1916.7 796.3 1918.2 796.3 1919.3 796.1C1920.5 796.0 1921.3 795.7 1922.3 795.4C1923.2 795.2 1924.2 794.7 1925.2 794.7C1926.2 794.6 1927.1 794.9 1928.1 795.1C1929.1 795.4 1930.1 796.2 1931.1 796.1C1932.0 796.0 1933.1 795.6 1934.0 794.7C1934.9 793.8 1935.6 791.7 1936.4 790.8C1937.2 789.8 1938.1 788.9 1938.9 788.8C1939.6 788.7 1940.1 789.6 1940.8 790.3C1941.5 790.9 1942.4 792.4 1943.3 792.7C1944.1 793.0 1944.8 792.7 1945.7 792.2C1946.6 791.7 1947.6 790.6 1948.6 789.8C1949.6 789.0 1950.6 788.0 1951.6 787.3C1952.5 786.7 1953.5 786.0 1954.5 785.7C1955.5 785.4 1956.4 785.6 1957.4 785.4C1958.4 785.2 1959.8 784.8 1960.3 784.7"/>
<path stroke="#000000" d="M287.3 791.5C287.6 791.1 288.5 789.7 289.4 789.0C290.2 788.3 291.2 787.3 292.5 787.5C293.8 787.6 295.7 789.3 297.2 789.8C298.6 790.3 299.8 789.9 301.1 790.3C302.4 790.6 303.6 792.4 305.0 791.8C306.4 791.2 308.2 789.1 309.7 786.7C311.1 784.3 312.7 778.9 313.6 777.3C314.5 775.7 314.6 775.9 315.1 776.8C315.7 777.7 316.1 779.7 316.7 782.8C317.4 785.8 318.3 792.5 319.0 795.3C319.7 798.0 320.3 799.0 320.9 799.2C321.6 799.3 322.2 798.3 322.9 796.0C323.7 793.8 324.7 787.8 325.3 785.9C325.9 783.9 326.0 783.3 326.5 784.3C327.1 785.4 327.7 789.1 328.4 792.1C329.1 795.1 329.8 799.4 330.8 802.3C331.7 805.2 333.0 807.4 333.9 809.3C334.8 811.3 335.4 812.3 336.2 814.0C337.0 815.7 337.7 820.0 338.6 819.5C339.5 819.0 340.5 812.2 341.7 810.9C342.9 809.6 344.3 811.4 345.6 811.7C346.9 811.9 348.4 812.8 349.5 812.4C350.6 812.1 351.4 809.7 352.2 809.3C352.9 808.9 353.0 807.8 353.7 810.1C354.4 812.4 355.3 820.4 356.5 823.4C357.8 826.4 359.8 826.6 361.2 828.1C362.6 829.5 363.9 831.1 365.1 832.0C366.3 832.9 366.9 833.8 368.2 833.5C369.5 833.3 371.6 830.9 372.9 830.4C374.2 829.9 375.1 829.5 376.0 830.4C377.0 831.3 377.5 832.6 378.4 835.9C379.3 839.1 380.5 845.5 381.5 849.9C382.6 854.4 383.5 858.8 384.6 862.4C385.8 866.1 387.4 869.2 388.5 871.8C389.7 874.4 390.8 876.7 391.7 878.0C392.6 879.3 393.3 879.9 394.0 879.6C394.7 879.3 395.2 880.4 395.9 876.5C396.5 872.6 397.2 864.8 397.9 856.2C398.6 847.6 399.3 834.8 400.3 824.9C401.2 815.0 402.3 805.9 403.4 796.8C404.4 787.7 405.5 779.1 406.5 770.3C407.5 761.4 408.6 752.8 409.6 743.7C410.7 734.6 412.0 722.9 412.7 715.6C413.5 708.3 413.7 702.6 414.3 700.0C415.0 697.4 415.8 704.3 416.7 700.1C417.6 695.8 418.8 682.2 419.8 674.6C420.9 667.0 421.9 661.3 422.9 654.3C424.0 647.3 425.1 638.9 426.1 632.4C427.0 625.9 427.8 618.9 428.7 615.3C429.6 611.6 430.4 612.4 431.5 610.6C432.7 608.7 434.1 605.9 435.4 604.3C436.7 602.8 438.0 601.8 439.3 601.2C440.6 600.5 442.1 600.3 443.3 600.4C444.4 600.5 445.5 600.8 446.4 602.0C447.3 603.2 447.9 605.0 448.7 607.4C449.6 609.9 450.7 614.0 451.5 616.8C452.4 619.7 453.0 622.5 453.7 624.6C454.4 626.7 455.1 628.5 455.7 629.3C456.4 630.1 457.0 630.4 457.6 629.6C458.3 628.8 458.8 627.3 459.6 624.6C460.5 622.0 461.7 617.6 462.8 613.7C463.8 609.8 464.9 606.4 465.9 601.2C466.9 596.0 467.9 589.7 468.7 582.5C469.5 575.2 469.9 566.1 470.6 557.5C471.3 548.9 472.1 539.2 472.9 530.9C473.7 522.6 474.6 513.5 475.3 507.5C475.9 501.5 476.3 497.1 476.8 495.0C477.4 492.9 478.0 500.6 478.7 495.1C479.5 489.5 480.5 473.1 481.4 461.8C482.3 450.5 483.3 438.9 484.2 427.4C485.1 416.0 486.0 403.5 486.9 393.1C487.7 382.7 488.3 373.3 489.2 365.0C490.1 356.6 491.3 349.6 492.3 343.1C493.4 336.6 494.5 331.6 495.4 325.9C496.4 320.2 497.2 313.7 498.1 308.7C499.0 303.8 499.9 300.3 500.6 296.2C501.3 292.2 501.4 289.6 502.2 284.3C503.1 279.1 504.5 268.9 505.6 264.6C506.7 260.3 507.8 259.7 508.7 258.4C509.6 257.1 510.1 256.7 511.1 256.8C512.0 256.8 513.1 258.0 514.2 258.7C515.2 259.3 516.4 260.6 517.3 260.7C518.2 260.8 518.9 260.3 519.6 259.1C520.4 258.0 521.2 256.1 522.0 253.7C522.8 251.2 523.6 248.2 524.3 244.3C525.1 240.4 525.9 234.4 526.7 230.2C527.5 226.1 528.2 222.0 529.0 219.3C529.8 216.6 530.6 215.0 531.4 213.8C532.1 212.7 532.8 211.9 533.7 212.3C534.6 212.7 535.8 214.4 536.8 216.2C537.9 218.0 538.9 221.1 540.0 223.2C541.0 225.3 541.9 227.1 543.1 228.7C544.2 230.2 545.7 231.7 547.0 232.6C548.3 233.5 549.7 234.1 550.9 234.1C552.1 234.1 553.0 233.8 554.0 232.6C555.0 231.4 556.1 229.6 557.1 227.1C558.2 224.6 559.2 221.7 560.3 217.7C561.3 213.8 562.3 208.6 563.4 203.7C564.4 198.7 565.5 193.0 566.5 188.1C567.5 183.1 568.6 177.9 569.6 174.0C570.7 170.1 571.7 167.1 572.7 164.6C573.8 162.2 574.7 160.7 575.9 159.2C577.0 157.7 578.2 156.3 579.8 155.6C581.3 154.9 583.4 155.1 585.2 155.0C587.1 154.8 588.9 155.1 590.7 154.5C592.5 153.9 594.7 152.2 596.2 151.4C597.7 150.5 598.6 149.2 599.6 149.3C600.7 149.5 601.6 149.9 602.4 152.2C603.3 154.4 603.9 158.9 604.8 163.1C605.7 167.3 606.8 173.2 607.9 177.1C608.9 181.0 610.0 184.4 611.0 186.5C612.1 188.6 613.1 189.8 614.1 189.9C615.2 190.1 616.1 188.4 617.3 187.3C618.4 186.2 619.7 184.0 621.2 183.4C622.6 182.8 624.5 183.8 625.8 183.7C627.1 183.6 627.9 184.0 629.0 182.6C630.0 181.3 631.1 178.3 632.1 175.6C633.1 172.8 634.2 169.2 635.2 166.2C636.3 163.2 637.3 159.6 638.3 157.6C639.4 155.7 640.6 155.0 641.5 154.5C642.4 154.0 642.8 154.2 643.8 154.5C644.8 154.8 646.4 155.9 647.7 156.5C649.0 157.2 650.3 158.0 651.6 158.4C652.9 158.8 654.0 158.8 655.5 158.7C657.0 158.6 659.2 157.4 660.5 157.6C661.8 157.8 662.3 158.0 663.3 160.0C664.3 161.9 665.4 166.2 666.5 169.3C667.5 172.5 668.5 176.1 669.6 178.7C670.6 181.3 671.7 183.5 672.7 185.0C673.7 186.4 674.5 187.2 675.5 187.3C676.6 187.4 677.7 186.6 678.9 185.7C680.2 184.8 681.5 183.6 682.9 181.8C684.2 180.0 685.5 177.4 686.8 174.8C688.1 172.2 689.5 168.5 690.7 166.2C691.8 163.9 692.7 162.0 693.8 161.2C694.8 160.4 695.9 160.4 696.9 161.2C697.9 162.0 699.0 163.6 700.0 166.2C701.1 168.9 702.1 173.2 703.2 177.1C704.2 181.0 705.2 186.0 706.3 189.6C707.3 193.3 708.2 196.3 709.4 199.0C710.6 201.7 712.0 204.2 713.3 206.0C714.6 207.9 715.9 209.3 717.2 209.9C718.5 210.5 719.7 209.8 721.1 209.6C722.5 209.4 724.2 208.7 725.8 208.7C727.4 208.7 729.2 209.5 730.5 209.5C731.8 209.4 732.6 208.8 733.6 208.4C734.6 207.9 735.7 206.8 736.7 206.8C737.8 206.8 738.7 207.7 739.9 208.4C741.0 209.0 742.6 210.3 743.8 210.7C744.9 211.1 745.7 210.7 746.9 210.7C748.1 210.7 749.7 210.1 750.8 210.7C751.8 211.4 752.3 212.4 753.1 214.6C753.9 216.8 754.7 220.4 755.5 224.0C756.3 227.6 757.1 233.2 757.8 236.5C758.6 239.8 759.3 241.7 760.0 243.8C760.7 246.0 761.1 247.4 761.9 249.6C762.7 251.9 763.6 255.4 764.7 257.5C765.8 259.5 767.3 260.5 768.6 262.1C769.9 263.8 771.3 265.5 772.5 267.6C773.7 269.7 774.6 272.2 775.6 274.6C776.7 277.1 777.7 280.1 778.7 282.4C779.8 284.8 780.8 287.0 781.9 288.7C782.9 290.4 783.7 291.6 785.0 292.6C786.3 293.6 788.1 294.3 789.7 294.9C791.2 295.6 792.9 296.1 794.4 296.5C795.8 296.9 797.0 296.6 798.3 297.3C799.6 298.0 800.9 299.8 802.2 300.9C803.5 302.0 804.8 303.6 806.1 304.0C807.4 304.4 808.7 303.6 810.0 303.5C811.3 303.5 812.7 302.9 813.9 303.5C815.1 304.2 815.8 306.0 817.0 307.4C818.2 308.9 819.6 310.3 820.9 312.1C822.2 313.9 823.6 315.8 824.8 318.4C826.0 321.0 827.0 324.6 827.9 327.7C828.8 330.9 829.5 333.2 830.3 337.1C831.1 341.0 831.9 346.5 832.6 351.2C833.3 355.8 834.0 361.2 834.7 365.2C835.3 369.2 835.9 372.5 836.5 375.1C837.1 377.6 837.6 377.6 838.4 380.5C839.2 383.5 840.5 389.9 841.6 392.8C842.6 395.8 843.5 397.9 844.5 398.5C845.5 399.0 846.5 397.9 847.5 396.4C848.6 394.8 849.4 391.5 850.7 389.3C851.9 387.1 853.5 384.8 855.1 383.2C856.7 381.6 858.4 380.2 860.4 379.7C862.3 379.1 864.7 380.0 866.5 379.7C868.3 379.4 869.6 378.3 870.9 377.9C872.2 377.5 873.2 377.0 874.4 377.0C875.6 377.0 876.7 377.6 877.9 377.9C879.1 378.2 880.3 379.1 881.4 378.8C882.6 378.5 883.9 377.0 884.9 376.1C886.0 375.3 887.0 373.5 887.9 373.5C888.9 373.5 889.6 375.2 890.7 376.1C891.9 377.1 893.2 378.8 894.6 379.1C896.0 379.5 897.7 378.3 899.0 378.4C900.3 378.5 901.4 378.7 902.5 379.7C903.6 380.6 904.5 381.9 905.5 384.1C906.5 386.3 907.3 389.3 908.3 392.8C909.3 396.4 910.3 400.7 911.3 405.1C912.3 409.5 913.3 414.8 914.3 419.2C915.3 423.6 916.4 428.1 917.5 431.5C918.5 434.9 919.4 437.5 920.6 439.4C921.8 441.3 923.1 442.2 924.5 442.9C925.9 443.6 927.4 443.6 928.9 443.4C930.3 443.2 931.4 442.1 933.3 441.7C935.2 441.3 938.5 441.8 940.3 441.2C942.0 440.5 942.6 439.5 943.8 437.6C945.0 435.7 946.1 431.9 947.3 429.7C948.5 427.5 949.7 425.5 950.8 424.5C951.9 423.4 953.0 423.3 954.0 423.6C955.0 423.9 955.9 424.3 957.0 426.2C958.1 428.1 959.3 431.5 960.5 435.0C961.7 438.5 962.8 443.2 964.0 447.3C965.2 451.4 966.4 456.2 967.5 459.6C968.6 463.0 969.6 465.9 970.5 467.5C971.4 469.1 971.8 469.7 972.8 469.3C973.8 468.8 975.0 466.8 976.3 464.9C977.6 463.0 979.5 459.6 980.7 457.8C981.9 456.1 982.5 454.9 983.3 454.3C984.2 453.8 985.1 453.5 986.0 454.7C986.9 455.9 987.6 458.5 988.6 461.4C989.6 464.2 991.0 468.7 992.1 471.9C993.3 475.1 994.3 478.2 995.6 480.7C997.0 483.2 998.6 485.2 1000.0 486.8C1001.5 488.4 1003.0 489.8 1004.4 490.4C1005.9 490.9 1007.3 490.0 1008.8 490.4C1010.3 490.7 1011.8 491.9 1013.2 492.6C1014.6 493.4 1016.1 495.0 1017.2 494.7C1018.4 494.5 1019.2 492.1 1020.2 491.2C1021.2 490.4 1022.2 489.5 1023.2 489.5C1024.2 489.5 1025.3 490.4 1026.4 491.2C1027.4 492.0 1028.4 494.0 1029.5 494.4C1030.7 494.8 1032.0 494.3 1033.4 493.9C1034.8 493.4 1036.5 492.0 1037.8 491.6C1039.1 491.2 1040.1 490.8 1041.3 491.6C1042.5 492.4 1043.7 494.5 1044.8 496.5C1046.0 498.5 1047.2 501.2 1048.3 503.5C1049.5 505.9 1050.5 508.5 1051.9 510.6C1053.2 512.6 1054.8 514.7 1056.3 515.8C1057.7 517.0 1059.3 516.7 1060.6 517.6C1062.0 518.5 1062.8 519.6 1064.2 521.1C1065.5 522.6 1067.1 524.8 1068.6 526.4C1070.0 528.0 1071.6 529.7 1072.9 530.8C1074.3 531.8 1075.1 532.5 1076.5 532.5C1077.8 532.5 1079.7 531.1 1080.8 530.8C1082.0 530.5 1082.5 529.7 1083.5 530.8C1084.5 531.8 1085.8 534.9 1087.0 536.9C1088.2 539.0 1089.5 541.7 1090.5 543.1C1091.5 544.4 1092.1 545.0 1093.1 544.8C1094.2 544.7 1095.5 543.8 1096.7 542.2C1097.8 540.6 1099.0 537.6 1100.0 535.2C1101.0 532.8 1101.4 529.9 1102.4 527.8C1103.4 525.7 1104.7 523.7 1105.9 522.5C1107.1 521.3 1108.2 520.7 1109.4 520.7C1110.6 520.7 1111.7 521.3 1112.9 522.5C1114.1 523.7 1115.3 525.6 1116.4 527.8C1117.6 530.0 1118.8 532.9 1119.9 535.7C1121.1 538.5 1122.3 541.5 1123.5 544.5C1124.6 547.4 1125.8 550.6 1127.0 553.3C1128.1 555.9 1129.2 558.4 1130.5 560.3C1131.8 562.2 1133.4 563.2 1134.9 564.7C1136.3 566.1 1137.7 568.0 1139.3 569.1C1140.9 570.1 1142.9 570.7 1144.5 570.8C1146.1 571.0 1147.5 570.7 1148.9 569.9C1150.4 569.2 1152.0 568.0 1153.3 566.4C1154.6 564.8 1155.7 562.2 1156.8 560.3C1158.0 558.4 1159.2 556.1 1160.4 555.0C1161.5 553.9 1162.7 553.7 1163.9 553.6C1165.0 553.5 1166.3 553.5 1167.4 554.1C1168.5 554.8 1169.4 555.4 1170.4 557.6C1171.3 559.8 1172.3 563.4 1173.2 567.3C1174.1 571.3 1174.8 576.7 1175.6 581.4C1176.4 586.0 1177.1 590.7 1177.9 595.4C1178.7 600.1 1179.6 605.4 1180.6 609.5C1181.5 613.6 1182.6 617.4 1183.7 620.0C1184.8 622.6 1186.1 624.0 1187.2 624.9C1188.4 625.9 1189.7 626.0 1190.7 625.6C1191.8 625.3 1192.8 623.9 1193.7 622.7C1194.7 621.4 1195.5 619.2 1196.4 618.3C1197.2 617.3 1198.0 616.6 1199.0 616.9C1200.0 617.1 1201.2 618.9 1202.5 620.0C1203.8 621.1 1205.4 622.5 1206.9 623.5C1208.4 624.6 1210.0 625.6 1211.3 626.2C1212.6 626.7 1213.5 627.2 1214.8 627.0C1216.1 626.9 1217.6 625.9 1219.2 625.3C1220.8 624.6 1222.7 623.6 1224.5 623.2C1226.2 622.7 1228.3 622.4 1229.8 622.7C1231.2 622.9 1232.0 623.1 1232.9 624.4C1233.9 625.7 1234.5 627.8 1235.4 630.6C1236.3 633.3 1237.2 637.6 1238.2 641.1C1239.2 644.6 1240.1 648.7 1241.2 651.6C1242.3 654.6 1243.5 657.5 1244.7 659.0C1245.9 660.5 1246.9 660.5 1248.2 660.8C1249.5 661.1 1251.3 660.4 1252.6 660.8C1253.9 661.2 1254.9 661.7 1256.1 663.1C1257.3 664.5 1258.4 667.0 1259.6 669.2C1260.8 671.4 1261.8 674.0 1263.1 676.2C1264.5 678.4 1266.1 680.8 1267.5 682.4C1269.0 684.0 1270.5 684.6 1271.9 685.9C1273.4 687.2 1274.7 689.3 1276.3 690.3C1277.9 691.3 1279.8 691.7 1281.6 692.0C1283.3 692.4 1285.1 692.0 1286.9 692.4C1288.6 692.8 1290.5 693.7 1292.1 694.7C1293.7 695.7 1295.2 696.6 1296.5 698.2C1297.8 699.8 1298.9 702.4 1300.0 704.3C1301.2 706.3 1302.5 708.9 1303.5 709.6C1304.6 710.4 1305.2 709.8 1306.2 708.7C1307.2 707.7 1308.4 704.8 1309.7 703.5C1311.0 702.2 1312.5 701.9 1314.1 700.8C1315.7 699.8 1317.6 698.8 1319.4 697.3C1321.1 695.9 1322.9 693.8 1324.6 692.0C1326.4 690.3 1328.3 688.2 1329.9 686.8C1331.5 685.3 1332.8 683.6 1334.3 683.3C1335.8 683.0 1336.8 684.4 1338.7 685.0C1340.6 685.6 1343.4 686.3 1345.7 686.8C1348.1 687.3 1350.4 688.0 1352.7 688.2C1355.1 688.3 1357.7 688.3 1359.8 687.7C1361.8 687.0 1363.6 686.0 1365.0 684.1C1366.5 682.2 1367.4 679.0 1368.6 676.2C1369.7 673.5 1370.9 669.6 1372.1 667.5C1373.2 665.3 1374.4 664.2 1375.6 663.1C1376.7 661.9 1377.9 660.7 1379.1 660.4C1380.3 660.1 1381.4 660.6 1382.6 661.3C1383.8 662.0 1385.1 662.9 1386.1 664.8C1387.1 666.7 1387.7 669.4 1388.8 672.7C1389.8 676.1 1391.1 681.8 1392.3 685.0C1393.4 688.2 1394.5 690.4 1395.8 692.0C1397.1 693.7 1398.8 693.8 1400.0 694.7C1401.2 695.6 1402.1 697.3 1403.3 697.2C1404.4 697.2 1405.6 695.2 1406.8 694.3C1408.0 693.3 1408.8 692.1 1410.3 691.6C1411.8 691.1 1413.8 691.3 1415.6 691.3C1417.3 691.3 1419.1 691.6 1420.8 691.6C1422.6 691.6 1424.5 691.9 1426.1 691.3C1427.7 690.7 1429.0 689.2 1430.5 688.1C1432.0 687.0 1433.3 685.5 1434.9 684.6C1436.5 683.7 1438.8 683.1 1440.0 682.8C1441.2 682.6 1441.3 682.4 1442.3 683.0C1443.3 683.7 1444.8 685.2 1445.8 686.9C1446.8 688.6 1447.6 691.1 1448.4 693.0C1449.3 694.9 1450.1 697.0 1451.1 698.3C1452.1 699.6 1453.4 700.8 1454.6 701.0C1455.8 701.1 1456.9 699.8 1458.1 699.2C1459.3 698.6 1460.5 697.8 1461.6 697.4C1462.8 697.1 1464.0 697.0 1465.1 697.1C1466.3 697.1 1467.6 696.9 1468.7 697.8C1469.7 698.7 1470.4 700.6 1471.3 702.7C1472.2 704.8 1473.0 708.1 1473.9 710.6C1474.8 713.1 1475.5 715.7 1476.6 717.6C1477.6 719.5 1478.8 720.8 1480.1 722.0C1481.4 723.3 1482.9 724.4 1484.5 725.2C1486.1 726.0 1487.8 726.7 1489.7 727.0C1491.6 727.2 1493.8 726.7 1495.9 727.0C1497.9 727.2 1500.1 727.9 1502.0 728.2C1503.9 728.5 1505.9 728.1 1507.3 728.7C1508.7 729.3 1509.5 731.1 1510.5 731.7C1511.4 732.3 1512.0 733.0 1512.9 732.6C1513.9 732.1 1515.0 730.8 1516.1 729.1C1517.2 727.3 1518.4 724.7 1519.6 722.0C1520.8 719.4 1521.9 715.7 1523.1 713.3C1524.3 710.8 1525.5 708.9 1526.6 707.1C1527.8 705.3 1529.0 703.7 1530.1 702.7C1531.3 701.7 1532.6 701.1 1533.7 701.0C1534.7 700.8 1535.4 701.1 1536.3 701.8C1537.2 702.6 1537.9 704.3 1538.9 705.3C1540.0 706.4 1541.3 707.1 1542.4 708.0C1543.6 708.9 1544.9 709.3 1546.0 710.6C1547.0 711.9 1547.6 714.0 1548.6 715.9C1549.6 717.8 1550.9 720.1 1552.1 722.0C1553.3 723.9 1554.3 725.7 1555.6 727.3C1556.9 728.9 1558.6 730.6 1560.0 731.7C1561.5 732.8 1562.9 733.6 1564.4 734.0C1565.9 734.4 1567.3 733.5 1568.8 734.0C1570.3 734.5 1571.7 735.9 1573.2 737.0C1574.7 738.1 1576.0 739.2 1577.6 740.5C1579.2 741.7 1581.2 743.6 1582.9 744.5C1584.5 745.5 1586.1 746.5 1587.2 746.3C1588.4 746.0 1589.0 744.5 1589.9 743.1C1590.8 741.7 1591.5 739.1 1592.5 737.8C1593.5 736.6 1594.9 736.2 1596.0 735.7C1597.2 735.3 1598.5 734.7 1599.5 735.2C1600.6 735.7 1601.2 736.8 1602.2 738.7C1603.2 740.6 1604.5 744.1 1605.7 746.6C1606.9 749.1 1607.9 751.6 1609.2 753.7C1610.5 755.8 1612.1 758.0 1613.6 759.3C1615.1 760.6 1616.5 760.9 1618.0 761.6C1619.5 762.2 1620.9 762.7 1622.4 763.3C1623.9 763.9 1625.2 764.9 1626.8 765.1C1628.4 765.2 1630.3 764.5 1632.0 764.2C1633.8 763.9 1635.9 763.8 1637.3 763.3C1638.8 762.9 1639.8 761.9 1640.8 761.6C1641.9 761.2 1642.4 760.6 1643.5 761.0C1644.5 761.5 1645.7 762.8 1647.0 764.2C1648.3 765.6 1650.1 767.7 1651.4 769.5C1652.7 771.2 1653.7 772.4 1654.9 774.7C1656.1 777.1 1657.4 780.9 1658.4 783.5C1659.4 786.2 1660.0 788.2 1661.0 790.6C1662.1 792.9 1663.4 795.8 1664.6 797.6C1665.7 799.4 1666.7 801.0 1668.1 801.4C1669.4 801.9 1670.8 801.0 1672.5 800.2C1674.1 799.4 1676.0 797.7 1677.7 796.7C1679.5 795.7 1681.4 794.3 1683.0 794.1C1684.6 793.9 1686.2 795.8 1687.4 795.5C1688.6 795.2 1689.0 793.6 1690.0 792.3C1691.1 791.1 1692.2 789.4 1693.5 787.9C1694.9 786.5 1696.5 784.5 1697.9 783.5C1699.4 782.6 1700.9 782.3 1702.3 782.1C1703.8 782.0 1705.3 782.6 1706.7 782.7C1708.2 782.7 1709.6 783.4 1711.1 782.7C1712.6 781.9 1714.0 780.0 1715.5 778.3C1717.0 776.5 1718.4 774.0 1719.9 772.1C1721.4 770.2 1723.0 768.3 1724.3 766.8C1725.6 765.4 1726.6 764.1 1727.8 763.3C1729.0 762.6 1730.0 762.2 1731.3 762.4C1732.6 762.7 1734.2 763.7 1735.7 764.6C1737.2 765.4 1738.6 766.3 1740.1 767.4C1741.6 768.5 1743.2 769.9 1744.5 771.2C1745.8 772.6 1746.8 774.3 1748.0 775.6C1749.2 776.9 1750.1 778.4 1751.5 779.1C1753.0 779.9 1755.2 779.6 1756.8 780.0C1758.4 780.5 1759.7 781.1 1761.2 781.8C1762.7 782.4 1764.0 783.1 1765.6 783.9C1767.2 784.6 1769.2 785.7 1770.8 786.2C1772.5 786.6 1773.8 786.3 1775.2 786.7C1776.7 787.1 1778.3 788.0 1779.6 788.8C1781.0 789.6 1782.0 790.8 1783.1 791.4C1784.3 792.0 1785.5 792.0 1786.7 792.3C1787.8 792.6 1789.0 792.8 1790.0 793.2C1791.0 793.6 1792.0 794.3 1792.9 794.7C1793.9 795.1 1795.0 795.4 1795.9 795.6C1796.8 795.8 1797.5 796.2 1798.3 795.8C1799.1 795.5 1799.9 794.7 1800.7 793.7C1801.6 792.7 1802.3 790.9 1803.2 789.8C1804.1 788.6 1805.1 787.4 1806.1 786.9C1807.1 786.3 1808.1 786.3 1809.0 786.4C1810.0 786.4 1810.9 787.1 1812.0 787.3C1813.0 787.6 1814.2 787.7 1815.4 787.8C1816.5 787.9 1817.7 787.5 1818.8 788.0C1819.9 788.5 1820.8 789.7 1821.7 790.8C1822.7 791.9 1823.7 793.4 1824.7 794.7C1825.6 795.9 1826.5 796.9 1827.6 798.1C1828.6 799.3 1829.9 800.8 1831.0 802.0C1832.1 803.2 1832.9 804.6 1833.9 805.4C1835.0 806.2 1836.3 806.8 1837.3 806.9C1838.4 806.9 1839.2 806.3 1840.3 805.9C1841.3 805.5 1842.6 804.9 1843.7 804.6C1844.8 804.3 1845.9 804.2 1847.1 804.2C1848.3 804.2 1849.9 804.3 1851.0 804.6C1852.2 805.0 1853.0 805.7 1853.9 806.4C1854.9 807.1 1856.0 808.1 1856.9 808.8C1857.8 809.5 1858.5 810.5 1859.3 810.8C1860.1 811.0 1860.9 810.7 1861.8 810.3C1862.6 809.9 1863.3 809.0 1864.2 808.3C1865.1 807.7 1866.2 806.5 1867.1 806.4C1868.0 806.2 1868.7 806.9 1869.6 807.3C1870.5 807.8 1871.5 808.2 1872.5 808.8C1873.5 809.4 1874.4 810.1 1875.4 810.8C1876.4 811.4 1877.4 812.4 1878.3 812.7C1879.3 813.0 1880.3 813.0 1881.3 812.7C1882.2 812.4 1883.2 811.7 1884.2 810.8C1885.2 809.9 1886.2 808.6 1887.1 807.3C1888.1 806.1 1889.2 804.5 1890.1 803.4C1891.0 802.4 1891.7 801.4 1892.5 801.0C1893.3 800.6 1894.0 801.0 1894.9 801.0C1895.8 801.1 1896.9 801.5 1897.9 801.3C1898.8 801.1 1899.7 800.2 1900.8 799.5C1901.9 798.8 1903.1 797.7 1904.2 797.1C1905.4 796.5 1906.4 796.3 1907.6 796.1C1908.8 796.0 1910.2 796.2 1911.5 796.1C1912.8 796.1 1914.1 795.9 1915.4 795.8C1916.7 795.8 1918.2 795.8 1919.3 795.6C1920.5 795.5 1921.3 795.2 1922.3 794.9C1923.2 794.5 1924.3 794.0 1925.2 793.7C1926.1 793.4 1926.8 793.0 1927.6 793.2C1928.5 793.4 1929.3 794.0 1930.1 794.7C1930.9 795.3 1931.7 796.6 1932.5 797.1C1933.3 797.6 1934.1 797.8 1935.0 797.6C1935.8 797.3 1936.5 796.8 1937.4 795.6C1938.3 794.5 1939.4 792.2 1940.3 790.8C1941.3 789.3 1942.3 788.2 1943.3 786.9C1944.2 785.6 1945.3 784.0 1946.2 782.9C1947.1 781.9 1947.7 781.1 1948.6 780.5C1949.5 779.9 1950.4 779.7 1951.6 779.5C1952.7 779.3 1954.0 779.3 1955.5 779.2C1956.9 779.2 1958.8 779.1 1960.3 779.0C1961.8 779.0 1963.8 779.0 1964.5 779.0"/>
<path stroke="#ff0000" d="M287.3 778.8C287.8 778.6 288.8 777.7 290.2 777.3C291.5 776.9 293.9 776.5 295.6 776.5C297.3 776.5 298.7 776.8 300.3 777.3C301.9 777.8 303.4 780.3 305.0 779.6C306.5 779.0 308.2 776.3 309.7 773.4C311.1 770.5 312.7 764.6 313.6 762.5C314.5 760.4 314.6 760.6 315.1 760.9C315.7 761.2 316.1 761.2 316.7 764.0C317.4 766.9 318.3 773.8 319.0 778.1C319.7 782.4 320.3 788.8 320.9 789.8C321.6 790.8 322.2 787.5 322.9 784.3C323.7 781.2 324.6 773.5 325.3 771.1C325.9 768.6 326.3 769.0 326.9 769.5C327.4 770.0 328.1 771.4 328.7 774.2C329.4 776.9 330.0 781.9 330.8 785.9C331.5 789.9 332.3 796.0 333.1 798.4C333.9 800.7 334.5 798.4 335.4 800.0C336.4 801.5 337.4 807.5 338.6 807.8C339.7 808.0 341.3 802.3 342.5 801.5C343.6 800.7 344.4 802.6 345.6 803.1C346.8 803.6 348.5 805.3 349.5 804.6C350.5 804.0 351.1 800.1 351.8 799.2C352.5 798.3 353.1 798.0 353.7 799.2C354.4 800.3 355.0 803.5 355.7 806.2C356.5 808.9 356.9 813.6 358.1 815.6C359.3 817.5 361.1 816.9 362.8 817.9C364.5 819.0 366.4 821.2 368.2 821.8C370.1 822.5 372.3 821.3 373.7 821.8C375.1 822.3 375.8 822.9 376.8 824.9C377.9 827.0 378.9 830.1 380.0 834.3C381.0 838.5 382.0 845.0 383.1 849.9C384.1 854.9 385.2 860.5 386.2 864.0C387.2 867.5 388.3 868.9 389.3 871.0C390.4 873.1 391.5 875.4 392.4 876.5C393.4 877.5 394.1 879.3 394.8 877.3C395.4 875.2 395.7 871.4 396.3 864.0C397.0 856.6 397.9 843.4 398.7 832.7C399.5 822.1 400.3 809.1 401.0 800.0C401.8 790.8 402.5 785.6 403.4 778.1C404.3 770.5 405.5 763.3 406.5 754.7C407.5 746.1 408.5 735.7 409.6 726.5C410.7 717.4 412.0 708.7 413.2 700.0C414.3 691.4 415.6 682.2 416.7 674.6C417.8 667.0 418.8 660.8 419.8 654.3C420.9 647.8 422.0 641.8 422.9 635.6C423.9 629.3 424.8 621.8 425.6 616.8C426.4 611.9 426.9 608.5 427.6 605.9C428.4 603.3 428.9 602.8 430.0 601.2C431.0 599.6 432.6 598.1 433.9 596.5C435.2 595.0 436.5 592.9 437.8 591.8C439.1 590.8 440.5 590.5 441.7 590.3C442.9 590.1 443.8 589.8 444.8 590.6C445.9 591.4 446.9 592.9 447.9 595.0C449.0 597.0 450.1 599.9 451.1 602.8C452.0 605.6 452.7 609.0 453.4 612.1C454.1 615.3 454.7 619.2 455.3 621.5C455.8 623.8 456.2 625.9 456.8 625.9C457.4 625.9 458.0 624.1 458.9 621.5C459.7 618.9 461.0 614.7 462.0 610.6C463.0 606.4 464.2 602.8 465.1 596.5C466.0 590.3 466.7 581.4 467.5 573.1C468.2 564.8 469.0 555.1 469.8 546.5C470.6 537.9 471.4 529.4 472.1 521.5C472.9 513.7 473.9 504.1 474.5 499.7C475.0 495.3 474.8 501.3 475.4 495.0C476.1 488.7 477.3 473.1 478.3 461.8C479.2 450.5 480.1 438.9 480.9 427.4C481.8 416.0 482.6 403.5 483.4 393.1C484.2 382.7 484.9 373.3 485.6 365.0C486.3 356.6 487.0 349.6 487.6 343.1C488.3 336.6 488.9 331.1 489.7 325.9C490.4 320.7 491.4 316.3 492.3 311.9C493.3 307.4 494.5 303.0 495.4 299.4C496.4 295.7 497.0 295.0 497.8 290.0C498.6 285.0 499.2 275.9 500.1 269.3C501.0 262.7 502.2 255.7 503.3 250.5C504.3 245.3 505.3 241.0 506.4 238.1C507.4 235.1 508.5 233.6 509.5 232.6C510.5 231.5 511.6 231.7 512.6 231.8C513.7 231.9 514.7 233.1 515.7 233.1C516.8 233.1 518.0 233.1 518.9 231.8C519.8 230.6 520.4 228.7 521.2 225.6C522.0 222.4 522.8 218.3 523.6 213.1C524.3 207.9 525.1 199.5 525.9 194.3C526.7 189.1 527.5 184.5 528.2 181.8C529.0 179.2 529.8 178.9 530.6 178.4C531.4 177.9 532.1 177.6 532.9 178.7C533.7 179.8 534.4 182.3 535.3 185.0C536.2 187.6 537.3 191.7 538.4 194.3C539.4 196.9 540.3 199.1 541.5 200.6C542.7 202.0 544.0 202.7 545.4 202.9C546.8 203.2 548.5 202.7 550.1 202.1C551.7 201.6 553.5 201.1 554.8 199.8C556.1 198.5 557.0 196.8 557.9 194.3C558.8 191.8 559.3 189.1 560.3 185.0C561.2 180.8 562.3 174.5 563.4 169.3C564.4 164.1 565.5 158.9 566.5 153.7C567.5 148.5 568.6 142.5 569.6 138.1C570.7 133.7 571.7 130.0 572.7 127.2C573.8 124.4 574.7 122.5 575.9 121.2C577.0 119.9 578.0 119.7 579.8 119.4C581.6 119.0 584.6 119.6 586.8 119.4C589.0 119.1 591.4 118.4 593.1 117.8C594.7 117.1 595.8 116.1 597.0 115.5C598.1 114.8 599.2 113.9 600.1 113.9C601.0 113.9 601.6 113.5 602.4 115.5C603.2 117.4 604.0 121.6 604.8 125.6C605.5 129.6 606.3 135.2 607.1 139.7C607.9 144.1 608.7 149.1 609.4 152.2C610.2 155.2 611.0 157.6 611.8 158.1C612.6 158.6 613.2 157.3 614.1 155.3C615.0 153.2 616.2 148.0 617.3 145.9C618.3 143.8 619.3 142.7 620.4 142.8C621.4 142.9 622.3 145.4 623.5 146.7C624.7 148.0 626.2 150.5 627.4 150.6C628.6 150.7 629.5 149.6 630.5 147.5C631.6 145.4 632.6 141.5 633.7 138.1C634.7 134.7 635.7 130.0 636.8 127.2C637.8 124.3 638.9 122.2 639.9 120.9C640.9 119.7 641.9 119.5 643.0 119.7C644.2 119.8 645.6 120.9 646.9 121.7C648.2 122.5 649.5 123.8 650.8 124.4C652.1 124.9 653.2 124.9 654.7 124.8C656.3 124.7 658.8 123.5 660.2 123.7C661.6 124.0 662.3 124.3 663.3 126.4C664.4 128.5 665.4 132.8 666.5 136.5C667.5 140.3 668.5 145.5 669.6 149.0C670.6 152.5 671.8 156.4 672.7 157.6C673.6 158.8 674.1 157.5 675.0 156.1C676.0 154.6 677.1 150.9 678.2 149.0C679.2 147.2 680.0 146.0 681.3 145.1C682.6 144.3 684.7 144.9 686.0 144.0C687.3 143.1 688.1 142.0 689.1 139.7C690.1 137.4 691.3 132.4 692.2 130.3C693.1 128.2 693.8 127.1 694.6 126.9C695.3 126.6 696.0 126.9 696.9 128.7C697.8 130.6 698.9 134.7 700.0 138.1C701.2 141.5 702.6 145.4 703.9 149.0C705.2 152.7 706.5 156.3 707.8 160.0C709.1 163.6 710.6 167.9 711.7 170.9C712.9 173.9 713.8 176.4 714.9 177.9C715.9 179.5 716.7 180.2 718.0 180.3C719.3 180.3 721.1 178.7 722.7 178.4C724.2 178.1 725.9 178.3 727.4 178.4C728.8 178.4 730.1 179.0 731.3 178.7C732.4 178.4 733.3 177.0 734.4 176.4C735.4 175.7 736.5 174.7 737.5 174.8C738.6 174.9 739.6 176.1 740.6 177.1C741.7 178.2 742.7 180.1 743.8 181.0C744.8 182.0 745.8 182.6 746.9 182.6C747.9 182.6 749.1 180.9 750.0 181.0C750.9 181.2 751.6 181.4 752.3 183.4C753.1 185.3 753.9 189.1 754.7 192.8C755.5 196.4 756.1 201.0 757.0 205.3C757.9 209.5 759.2 214.8 760.0 218.1C760.8 221.3 760.9 222.4 761.6 224.7C762.2 226.9 763.0 230.2 763.9 231.7C764.8 233.2 766.0 233.2 767.0 233.7C768.1 234.2 769.2 233.7 770.2 234.8C771.1 235.9 771.7 237.8 772.5 240.3C773.3 242.8 773.9 246.5 774.8 249.6C775.7 252.8 776.8 256.5 778.0 259.0C779.1 261.5 780.4 262.9 781.9 264.5C783.3 266.0 785.0 267.4 786.5 268.4C788.1 269.4 789.5 269.9 791.2 270.3C792.9 270.7 795.1 270.0 796.7 270.7C798.3 271.5 799.4 273.1 800.6 274.6C801.8 276.2 802.8 278.9 803.7 280.1C804.6 281.4 805.2 282.0 806.1 282.1C807.0 282.3 808.2 281.7 809.2 280.9C810.2 280.1 811.4 278.0 812.3 277.4C813.2 276.9 813.9 276.7 814.7 277.8C815.4 278.9 816.1 281.5 817.0 284.0C817.9 286.5 819.2 290.8 820.1 292.6C821.0 294.4 821.6 294.2 822.5 294.9C823.4 295.6 824.7 295.8 825.6 296.8C826.5 297.9 827.2 298.9 827.9 301.2C828.7 303.5 829.6 306.9 830.3 310.6C831.0 314.2 831.5 318.4 832.2 323.1C832.8 327.7 833.5 333.5 834.2 338.7C834.9 343.9 835.7 349.6 836.5 354.3C837.3 359.0 838.1 363.3 838.9 366.8C839.7 370.3 840.5 373.2 841.4 375.2C842.3 377.1 843.4 378.6 844.5 378.4C845.6 378.3 847.0 375.8 848.1 374.4C849.1 373.0 850.1 372.0 851.0 370.0C852.0 368.0 852.6 363.9 853.7 362.1C854.8 360.3 856.2 359.9 857.6 359.3C859.0 358.7 860.7 358.8 862.3 358.7C863.9 358.6 865.7 359.0 867.0 358.7C868.3 358.3 869.1 357.2 870.1 356.6C871.1 356.1 872.2 355.4 873.2 355.4C874.3 355.4 875.2 356.2 876.3 356.6C877.5 357.1 879.0 358.3 880.3 358.2C881.6 358.1 883.0 356.8 884.2 355.8C885.3 354.9 886.4 353.2 887.3 352.7C888.2 352.2 888.8 352.2 889.6 352.7C890.4 353.2 891.1 354.4 892.0 355.8C892.8 357.3 893.7 360.0 894.6 361.3C895.5 362.6 896.6 363.7 897.4 363.7C898.3 363.7 899.0 362.0 899.8 361.3C900.6 360.7 901.3 359.4 902.1 359.8C902.9 360.1 903.7 361.1 904.5 363.7C905.2 366.2 906.1 371.9 906.8 375.1C907.5 378.2 907.9 378.7 908.7 382.3C909.4 385.8 910.4 392.0 911.3 396.4C912.2 400.7 913.1 404.8 913.9 408.7C914.8 412.5 915.5 416.3 916.6 419.2C917.6 422.1 918.8 424.6 920.1 426.2C921.4 427.8 922.9 428.6 924.5 428.9C926.1 429.2 928.0 428.3 929.8 428.0C931.5 427.7 933.3 427.3 935.0 427.1C936.8 426.9 938.8 427.6 940.3 426.6C941.8 425.5 942.6 423.6 943.8 421.0C945.0 418.3 946.3 412.8 947.3 410.4C948.3 408.1 949.1 407.6 950.0 406.9C950.8 406.2 951.7 405.7 952.6 406.0C953.5 406.3 954.2 407.0 955.2 408.7C956.3 410.3 957.6 412.8 958.7 415.7C959.9 418.6 961.1 422.1 962.3 426.2C963.4 430.3 964.6 435.9 965.8 440.3C966.9 444.7 968.2 449.4 969.3 452.6C970.4 455.8 971.2 459.0 972.3 459.6C973.3 460.2 974.3 458.4 975.4 456.1C976.5 453.7 977.9 448.2 978.9 445.5C980.0 442.9 980.7 441.2 981.6 440.3C982.5 439.3 983.3 439.2 984.2 439.9C985.1 440.7 985.8 442.3 986.9 444.7C987.9 447.1 989.2 451.0 990.4 454.3C991.5 457.7 992.7 461.8 993.9 464.9C995.1 468.0 996.1 470.7 997.4 472.8C998.7 474.9 1000.2 476.5 1001.8 477.5C1003.4 478.6 1005.4 478.5 1007.1 478.9C1008.7 479.4 1010.1 479.6 1011.4 480.3C1012.8 481.1 1013.9 482.5 1015.0 483.3C1016.0 484.1 1016.6 485.2 1017.6 485.1C1018.6 484.9 1019.9 483.4 1021.1 482.4C1022.3 481.5 1023.6 479.6 1024.6 479.3C1025.7 479.0 1026.4 479.7 1027.3 480.7C1028.1 481.7 1029.0 484.0 1029.9 485.1C1030.8 486.2 1031.7 487.5 1032.5 487.4C1033.4 487.2 1034.3 485.5 1035.2 484.2C1036.0 482.9 1036.9 480.2 1037.8 479.3C1038.7 478.4 1039.6 478.3 1040.4 478.9C1041.3 479.6 1042.0 481.3 1043.1 483.3C1044.1 485.4 1045.4 488.4 1046.6 491.2C1047.8 494.0 1048.9 497.4 1050.1 500.0C1051.3 502.7 1052.3 505.4 1053.6 507.0C1054.9 508.7 1056.7 509.1 1058.0 509.7C1059.3 510.3 1060.4 509.7 1061.5 510.6C1062.7 511.4 1063.7 513.5 1065.0 514.9C1066.4 516.4 1068.0 518.3 1069.4 519.3C1070.9 520.4 1072.4 521.2 1073.8 521.4C1075.3 521.7 1076.9 521.4 1078.2 521.1C1079.5 520.8 1080.7 519.4 1081.7 519.7C1082.8 520.0 1083.3 520.9 1084.4 522.9C1085.4 524.8 1086.7 529.1 1087.9 531.6C1089.0 534.2 1090.4 537.3 1091.4 538.3C1092.4 539.3 1093.1 539.5 1094.0 537.8C1094.9 536.1 1095.7 532.4 1096.7 528.1C1097.7 523.9 1099.1 515.4 1100.0 512.3C1100.9 509.2 1101.2 510.3 1101.8 509.3C1102.5 508.4 1103.2 506.7 1104.1 506.7C1105.1 506.6 1106.3 508.2 1107.6 509.0C1109.0 509.7 1110.7 510.3 1112.0 511.1C1113.4 511.9 1114.4 512.1 1115.5 513.7C1116.7 515.3 1117.9 518.0 1119.1 520.7C1120.2 523.5 1121.4 527.2 1122.6 530.4C1123.7 533.6 1124.8 536.9 1126.1 540.1C1127.4 543.3 1129.0 547.1 1130.5 549.7C1131.9 552.4 1133.4 554.3 1134.9 555.9C1136.3 557.5 1137.7 558.7 1139.3 559.4C1140.9 560.1 1142.9 560.3 1144.5 560.3C1146.1 560.3 1147.5 560.3 1148.9 559.4C1150.4 558.5 1152.1 557.2 1153.3 555.0C1154.6 552.8 1155.3 549.0 1156.3 546.2C1157.3 543.4 1158.2 540.0 1159.1 538.3C1160.1 536.6 1161.1 536.0 1162.1 536.0C1163.1 536.0 1164.1 536.9 1165.1 538.3C1166.1 539.7 1167.1 542.1 1168.3 544.5C1169.4 546.8 1170.7 549.2 1171.8 552.4C1172.8 555.6 1173.6 559.5 1174.4 563.8C1175.2 568.0 1176.0 572.9 1176.7 577.8C1177.4 582.8 1178.0 588.7 1178.8 593.7C1179.6 598.6 1180.6 603.8 1181.4 607.7C1182.3 611.7 1183.2 615.0 1184.1 617.4C1184.9 619.7 1185.8 621.3 1186.7 621.8C1187.6 622.2 1188.5 621.5 1189.3 620.0C1190.2 618.6 1191.1 614.8 1192.0 613.0C1192.9 611.2 1193.7 609.9 1194.6 609.1C1195.5 608.4 1196.4 608.1 1197.2 608.6C1198.1 609.1 1198.9 610.8 1199.9 612.1C1200.9 613.4 1202.1 615.2 1203.4 616.5C1204.7 617.8 1206.2 619.1 1207.8 619.7C1209.4 620.2 1211.6 620.4 1213.1 620.0C1214.5 619.6 1215.4 618.4 1216.6 617.4C1217.7 616.4 1218.9 614.7 1220.1 613.9C1221.3 613.0 1222.3 612.2 1223.6 612.1C1224.9 612.0 1226.5 612.8 1228.0 613.3C1229.5 613.9 1231.2 614.2 1232.4 615.6C1233.6 617.0 1234.1 619.0 1235.0 621.8C1235.9 624.6 1236.8 628.8 1237.7 632.3C1238.5 635.8 1239.4 639.5 1240.3 642.9C1241.2 646.2 1242.0 650.0 1242.9 652.5C1243.9 655.0 1245.0 657.2 1245.9 657.8C1246.8 658.4 1247.4 656.8 1248.2 656.0C1249.0 655.3 1249.8 653.4 1250.8 653.4C1251.9 653.4 1253.0 654.4 1254.3 656.0C1255.7 657.6 1257.3 660.4 1258.7 663.1C1260.2 665.7 1261.7 669.4 1263.1 671.8C1264.6 674.3 1266.1 676.2 1267.5 678.0C1269.0 679.8 1270.3 680.9 1271.9 682.4C1273.5 683.9 1275.4 685.8 1277.2 686.8C1278.9 687.7 1280.7 687.9 1282.5 688.2C1284.2 688.5 1286.0 687.9 1287.7 688.5C1289.5 689.2 1291.5 690.6 1293.0 692.0C1294.5 693.5 1295.4 695.0 1296.5 697.3C1297.6 699.7 1298.7 703.6 1299.7 706.1C1300.7 708.6 1301.7 711.7 1302.7 712.3C1303.6 712.8 1304.3 711.5 1305.3 709.6C1306.3 707.7 1307.6 703.2 1308.8 700.8C1310.0 698.5 1311.0 696.6 1312.3 695.6C1313.6 694.5 1315.3 695.6 1316.7 694.7C1318.2 693.8 1319.6 692.0 1321.1 690.3C1322.6 688.5 1324.0 685.8 1325.5 684.1C1327.0 682.5 1328.4 681.3 1329.9 680.6C1331.4 680.0 1332.8 679.9 1334.3 680.1C1335.8 680.3 1336.8 681.5 1338.7 681.9C1340.6 682.2 1343.4 682.1 1345.7 682.4C1348.1 682.7 1350.4 683.5 1352.7 683.6C1355.1 683.8 1357.9 683.8 1359.8 683.3C1361.7 682.8 1362.8 682.7 1364.2 680.6C1365.5 678.6 1366.6 674.6 1367.7 671.0C1368.7 667.3 1369.4 661.7 1370.3 658.7C1371.2 655.6 1372.1 653.5 1372.9 652.5C1373.8 651.5 1374.4 651.8 1375.6 652.5C1376.7 653.3 1378.5 655.4 1380.0 656.9C1381.4 658.4 1383.2 660.1 1384.4 661.3C1385.5 662.5 1386.1 662.0 1387.0 663.9C1387.9 665.8 1388.6 669.5 1389.6 672.7C1390.7 675.9 1392.0 680.5 1393.1 683.3C1394.3 686.0 1395.5 688.1 1396.7 689.4C1397.8 690.7 1399.0 691.2 1400.0 691.2C1401.0 691.1 1401.4 689.9 1402.4 689.0C1403.4 688.1 1404.6 686.6 1405.9 686.0C1407.2 685.4 1408.7 685.7 1410.3 685.5C1411.9 685.2 1413.8 684.9 1415.6 684.6C1417.3 684.3 1419.2 684.0 1420.8 683.7C1422.5 683.4 1423.9 683.6 1425.2 682.8C1426.6 682.1 1427.6 680.6 1428.8 679.3C1429.9 678.1 1431.1 676.3 1432.3 675.5C1433.4 674.6 1434.4 674.3 1435.8 674.4C1437.1 674.5 1438.9 675.6 1440.3 675.9C1441.6 676.2 1443.0 675.5 1444.1 676.4C1445.1 677.2 1445.8 679.0 1446.7 680.7C1447.6 682.5 1448.4 685.1 1449.3 686.9C1450.2 688.7 1450.9 690.4 1452.0 691.3C1453.0 692.2 1454.3 692.8 1455.5 692.5C1456.6 692.2 1457.8 690.2 1459.0 689.5C1460.2 688.9 1461.3 688.7 1462.5 688.7C1463.7 688.7 1464.8 688.8 1466.0 689.5C1467.2 690.3 1468.5 691.1 1469.5 693.0C1470.6 694.9 1471.3 698.2 1472.2 701.0C1473.0 703.7 1473.9 707.3 1474.8 709.7C1475.7 712.1 1476.4 714.2 1477.4 715.4C1478.5 716.5 1479.5 716.5 1481.0 716.8C1482.4 717.0 1484.5 716.6 1486.2 716.8C1488.0 716.9 1489.7 717.3 1491.5 717.6C1493.3 718.0 1495.2 718.1 1496.8 718.9C1498.4 719.6 1500.0 721.8 1501.2 722.0C1502.3 722.3 1502.9 720.7 1503.8 720.3C1504.7 719.8 1505.5 719.0 1506.4 719.4C1507.3 719.8 1508.0 721.6 1509.1 722.9C1510.1 724.2 1511.6 726.9 1512.6 727.3C1513.6 727.7 1514.3 727.3 1515.2 725.5C1516.1 723.8 1517.0 720.0 1517.8 716.8C1518.7 713.5 1519.6 709.4 1520.5 706.2C1521.4 703.0 1522.2 699.5 1523.1 697.4C1524.0 695.4 1524.7 694.7 1525.8 693.9C1526.8 693.2 1528.2 693.6 1529.3 693.0C1530.3 692.5 1531.0 691.1 1531.9 690.4C1532.8 689.7 1533.7 688.9 1534.5 689.0C1535.4 689.2 1536.3 690.0 1537.2 691.3C1538.1 692.5 1538.9 694.8 1539.8 696.6C1540.7 698.3 1541.4 700.2 1542.4 701.8C1543.5 703.4 1544.8 704.8 1546.0 706.2C1547.1 707.7 1548.3 709.0 1549.5 710.6C1550.6 712.2 1551.8 714.4 1553.0 715.9C1554.2 717.3 1555.3 718.3 1556.5 719.4C1557.7 720.5 1558.8 721.9 1560.0 722.4C1561.2 722.9 1562.4 722.6 1563.5 722.4C1564.7 722.2 1566.0 721.1 1567.0 721.2C1568.1 721.2 1568.7 721.7 1569.7 722.9C1570.7 724.1 1571.9 726.6 1573.2 728.2C1574.5 729.8 1576.1 731.4 1577.6 732.6C1579.0 733.7 1580.7 734.6 1582.0 735.2C1583.3 735.9 1584.3 736.9 1585.5 736.4C1586.7 736.0 1587.8 734.4 1589.0 732.6C1590.2 730.8 1591.3 727.2 1592.5 725.5C1593.7 723.9 1595.0 723.2 1596.0 722.9C1597.1 722.6 1597.8 722.8 1598.7 723.8C1599.5 724.8 1600.4 727.0 1601.3 729.1C1602.2 731.1 1602.9 733.5 1603.9 736.1C1605.0 738.7 1606.3 742.4 1607.5 744.9C1608.6 747.4 1609.8 749.9 1611.0 751.0C1612.1 752.2 1613.3 751.7 1614.5 751.9C1615.7 752.1 1616.8 751.7 1618.0 752.3C1619.2 752.8 1620.2 754.5 1621.5 755.4C1622.8 756.3 1624.3 757.2 1625.9 757.5C1627.5 757.9 1629.4 757.6 1631.2 757.5C1632.9 757.4 1635.0 757.5 1636.4 756.8C1637.9 756.2 1638.9 754.3 1640.0 753.7C1641.0 753.0 1641.7 752.5 1642.6 752.8C1643.5 753.1 1644.2 754.0 1645.2 755.4C1646.3 756.9 1647.6 759.7 1648.7 761.6C1649.9 763.5 1651.1 764.9 1652.3 766.8C1653.4 768.7 1654.7 770.8 1655.8 773.0C1656.8 775.2 1657.5 777.4 1658.4 780.0C1659.3 782.7 1660.2 786.2 1661.0 788.8C1661.9 791.4 1662.8 793.8 1663.7 795.8C1664.6 797.8 1665.4 799.9 1666.3 800.7C1667.2 801.6 1667.9 801.4 1668.9 800.7C1670.0 800.1 1671.1 797.7 1672.5 796.7C1673.8 795.7 1675.4 795.8 1676.9 794.9C1678.3 794.1 1679.6 792.3 1681.2 791.4C1682.9 790.6 1684.8 790.7 1686.5 789.7C1688.3 788.7 1690.2 786.7 1691.8 785.3C1693.4 783.8 1694.7 781.8 1696.2 780.9C1697.6 780.0 1699.1 779.8 1700.6 779.7C1702.0 779.5 1703.5 779.8 1705.0 780.0C1706.4 780.2 1708.0 781.2 1709.4 780.9C1710.7 780.6 1711.7 779.7 1712.9 778.3C1714.0 776.8 1715.2 774.2 1716.4 772.1C1717.6 770.1 1718.6 767.7 1719.9 766.0C1721.2 764.2 1723.0 762.4 1724.3 761.6C1725.6 760.7 1726.6 760.5 1727.8 760.7C1729.0 760.8 1730.0 761.9 1731.3 762.4C1732.6 763.0 1734.2 763.5 1735.7 764.2C1737.2 764.9 1738.6 765.8 1740.1 766.8C1741.6 767.9 1743.2 769.0 1744.5 770.4C1745.8 771.7 1746.8 773.6 1748.0 774.7C1749.2 775.9 1750.1 776.7 1751.5 777.4C1753.0 778.0 1755.2 778.2 1756.8 778.6C1758.4 779.0 1759.7 779.5 1761.2 780.0C1762.7 780.5 1764.0 781.2 1765.6 781.8C1767.2 782.4 1769.2 783.2 1770.8 783.5C1772.5 783.9 1773.9 783.7 1775.2 783.9C1776.6 784.0 1777.6 783.4 1778.8 784.4C1779.9 785.4 1781.1 787.9 1782.3 789.7C1783.4 791.4 1784.5 794.2 1785.8 794.9C1787.1 795.7 1788.8 794.9 1790.0 794.3C1791.2 793.7 1791.9 791.9 1792.9 791.2C1794.0 790.6 1795.1 790.8 1796.4 790.3C1797.6 789.8 1799.0 789.1 1800.3 788.3C1801.5 787.5 1802.6 786.4 1803.7 785.4C1804.7 784.3 1805.7 782.6 1806.6 782.0C1807.5 781.3 1808.3 781.3 1809.0 781.5C1809.8 781.6 1810.3 782.3 1811.0 782.9C1811.7 783.5 1812.5 784.7 1813.4 785.1C1814.4 785.5 1815.8 785.1 1816.9 785.4C1817.9 785.7 1818.8 786.0 1819.8 786.9C1820.8 787.7 1821.7 789.4 1822.7 790.8C1823.7 792.1 1824.7 793.7 1825.6 795.1C1826.6 796.6 1827.6 798.2 1828.6 799.5C1829.5 800.9 1830.5 802.3 1831.5 803.4C1832.5 804.6 1833.4 805.8 1834.4 806.4C1835.4 806.9 1836.4 807.0 1837.3 806.9C1838.3 806.7 1839.2 806.0 1840.3 805.6C1841.3 805.2 1842.6 804.6 1843.7 804.4C1844.8 804.3 1846.1 804.4 1847.1 804.6C1848.2 804.8 1849.1 805.2 1850.0 805.6C1851.0 806.0 1852.0 806.3 1853.0 806.9C1853.9 807.4 1854.9 808.2 1855.9 808.8C1856.9 809.5 1857.9 810.5 1858.8 810.8C1859.7 811.0 1860.4 810.8 1861.3 810.3C1862.2 809.7 1863.1 808.3 1864.2 807.3C1865.2 806.4 1866.6 805.1 1867.6 804.4C1868.7 803.8 1869.6 803.5 1870.5 803.4C1871.4 803.4 1872.2 803.7 1873.0 804.2C1873.8 804.8 1874.6 805.9 1875.4 806.9C1876.2 807.8 1877.0 809.1 1877.9 809.8C1878.7 810.5 1879.4 811.1 1880.3 811.1C1881.2 811.1 1882.3 810.4 1883.2 809.8C1884.1 809.2 1884.9 808.6 1885.7 807.3C1886.5 806.1 1887.3 803.9 1888.1 802.5C1888.9 801.1 1889.7 799.8 1890.5 799.1C1891.4 798.3 1892.2 798.1 1893.0 798.1C1893.8 798.1 1894.6 799.0 1895.4 799.1C1896.2 799.1 1897.0 799.0 1897.9 798.6C1898.8 798.2 1899.7 797.3 1900.8 796.6C1901.9 796.0 1903.1 795.1 1904.2 794.7C1905.4 794.2 1906.4 794.0 1907.6 793.9C1908.8 793.8 1910.2 794.1 1911.5 794.2C1912.8 794.3 1914.1 794.3 1915.4 794.5C1916.7 794.6 1918.2 795.2 1919.3 795.1C1920.5 795.1 1921.3 794.6 1922.3 794.2C1923.2 793.8 1924.3 793.0 1925.2 792.7C1926.1 792.4 1926.8 792.1 1927.6 792.2C1928.5 792.4 1929.3 792.9 1930.1 793.7C1930.9 794.5 1931.7 796.3 1932.5 797.1C1933.3 797.9 1934.2 798.5 1935.0 798.4C1935.7 798.3 1936.3 797.9 1936.9 796.6C1937.6 795.3 1938.2 792.9 1938.9 790.8C1939.5 788.6 1940.2 785.9 1940.8 783.9C1941.5 782.0 1942.1 780.2 1942.8 779.0C1943.4 777.9 1943.9 777.3 1944.7 776.9C1945.5 776.5 1946.7 776.6 1947.6 776.6C1948.6 776.6 1949.5 776.9 1950.6 776.9C1951.6 776.8 1952.9 776.5 1954.0 776.3C1955.1 776.1 1956.4 775.8 1957.4 775.6C1958.5 775.4 1959.8 775.2 1960.3 775.1"/>
</g>
<rect x="289.4" y="81.3" width="1671.6" height="877.5" stroke="#262626" stroke-width="2.6" fill="none"/>
<g fill="#404040" font-size="60">
<text x="289.4" y="1020" text-anchor="middle">1</text>
<text x="498.3" y="1020" text-anchor="middle">1.025</text>
<text x="707.3" y="1020" text-anchor="middle">1.05</text>
<text x="916.2" y="1020" text-anchor="middle">1.075</text>
<text x="1125.2" y="1020" text-anchor="middle">1.1</text>
<text x="1334.2" y="1020" text-anchor="middle">1.125</text>
<text x="1543.1" y="1020" text-anchor="middle">1.15</text>
<text x="1752.0" y="1020" text-anchor="middle">1.175</text>
<text x="1961.0" y="1020" text-anchor="middle">1.2</text>
<text x="215.2" y="102.6" text-anchor="middle">1.3</text>
<text x="217.8" y="228.0" text-anchor="middle">1.25</text>
<text x="216.4" y="353.3" text-anchor="middle">1.2</text>
<text x="217.6" y="478.7" text-anchor="middle">1.15</text>
<text x="214.9" y="604.0" text-anchor="middle">1.1</text>
<text x="217.8" y="729.4" text-anchor="middle">1.05</text>
<text x="214.1" y="854.7" text-anchor="middle">1</text>
<text x="216.7" y="980.1" text-anchor="middle">0.95</text>
</g>
<text x="1093" y="1103.2" font-size="82" fill="#000"><tspan font-style="italic">t</tspan>/s</text>
<text transform="translate(115.3 623.5) rotate(-90)" font-size="80" letter-spacing="-0.5" fill="#000"><tspan font-style="italic">U</tspan><tspan font-style="italic" font-size="48" dy="9">i</tspan><tspan dy="-9">/p.u.</tspan></text>
<text y="1264.3" font-size="86" fill="#000"><tspan x="966.5">(</tspan><tspan x="994.3" font-weight="bold">c</tspan><tspan x="1031.7">)</tspan></text>
<rect x="1571.9" y="168.6" width="234.1" height="372.2" fill="#fff" stroke="#000" stroke-width="3.4"/>
<path d="M1599.6 214.0H1689.2" stroke="#ff0000" stroke-width="3.2" stroke-linecap="round"/>
<text x="1728.5" y="229.5" font-size="47.6" fill="#000">U<tspan font-size="30" dy="5.4">17</tspan></text>
<path d="M1599.6 260.7H1689.2" stroke="#000000" stroke-width="3.2" stroke-linecap="round"/>
<text x="1728.5" y="276.2" font-size="47.6" fill="#000">U<tspan font-size="30" dy="5.4">16</tspan></text>
<path d="M1599.6 307.4H1689.2" stroke="#4daa10" stroke-width="3.2" stroke-linecap="round"/>
<text x="1728.5" y="322.9" font-size="47.6" fill="#000">U<tspan font-size="30" dy="5.4">15</tspan></text>
<path d="M1599.6 354.1H1689.2" stroke="#8c2492" stroke-width="3.2" stroke-linecap="round"/>
<text x="1728.5" y="369.6" font-size="47.6" fill="#000">U<tspan font-size="30" dy="5.4">14</tspan></text>
<path d="M1599.6 400.8H1689.2" stroke="#ffae00" stroke-width="3.2" stroke-linecap="round"/>
<text x="1728.5" y="416.3" font-size="47.6" fill="#000">U<tspan font-size="30" dy="5.4">13</tspan></text>
<path d="M1599.6 447.5H1689.2" stroke="#ff4d00" stroke-width="3.2" stroke-linecap="round"/>
<text x="1728.5" y="463.0" font-size="47.6" fill="#000">U<tspan font-size="30" dy="5.4">12</tspan></text>
<path d="M1599.6 494.2H1689.2" stroke="#0070c0" stroke-width="3.2" stroke-linecap="round"/>
<text x="1728.5" y="509.7" font-size="47.6" fill="#000">U<tspan font-size="30" dy="5.4">11</tspan></text>
</svg></body></html>
